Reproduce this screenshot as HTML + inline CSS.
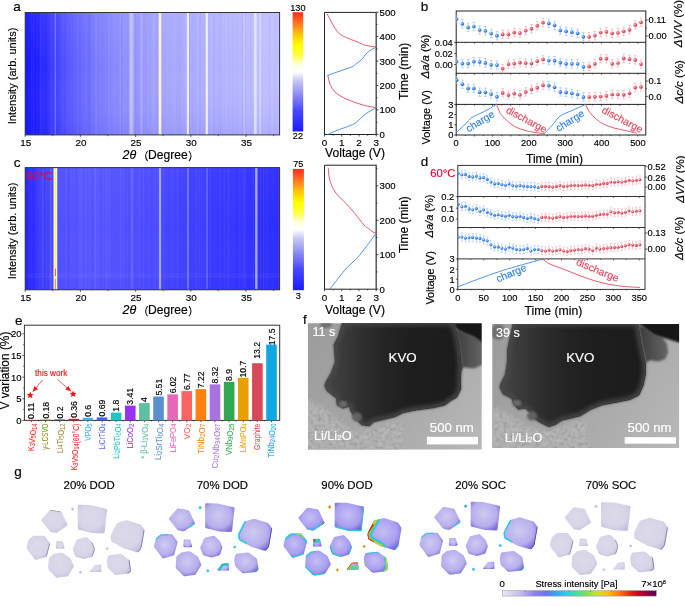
<!DOCTYPE html>
<html><head><meta charset="utf-8"><title>figure</title>
<style>html,body{margin:0;padding:0;background:#fff;} svg{display:block;will-change:transform;} text{font-family:"Liberation Sans",sans-serif;} .k{stroke:#000;stroke-width:0.16px;}</style>
</head><body>
<svg width="685" height="606" viewBox="0 0 685 606" font-family="Liberation Sans, sans-serif">
<defs><filter id="hblur" x="-5%" y="0" width="110%" height="100%"><feGaussianBlur stdDeviation="0.45 0"/></filter><linearGradient id="ga" x1="25.2" y1="0" x2="279.6" y2="0" gradientUnits="userSpaceOnUse"><stop offset="0" stop-color="#1010ff"/><stop offset="0.02" stop-color="#1818ff"/><stop offset="0.06" stop-color="#2424ff"/><stop offset="0.1" stop-color="#3434ff"/><stop offset="0.14" stop-color="#4c4cff"/><stop offset="0.2" stop-color="#6262ff"/><stop offset="0.25" stop-color="#7070ff"/><stop offset="0.29" stop-color="#7c7cff"/><stop offset="0.39" stop-color="#9090ff"/><stop offset="0.49" stop-color="#a0a0ff"/><stop offset="0.59" stop-color="#a8a8ff"/><stop offset="0.69" stop-color="#aeaeff"/><stop offset="0.81" stop-color="#b4b4ff"/><stop offset="0.9" stop-color="#bcbcff"/><stop offset="1" stop-color="#c0c0ff"/></linearGradient><linearGradient id="gav" x1="0" y1="0" x2="0" y2="1"><stop offset="0" stop-color="#ffffff" stop-opacity="0.06"/><stop offset="0.45" stop-color="#ffffff" stop-opacity="0"/><stop offset="1" stop-color="#1010e0" stop-opacity="0.09"/></linearGradient><clipPath id="clipga"><rect x="25.2" y="12.5" width="254.4" height="122.4"/></clipPath><linearGradient id="cba" x1="0" y1="1" x2="0" y2="0"><stop offset="0" stop-color="#1a1aff"/><stop offset="0.17" stop-color="#4646ff"/><stop offset="0.3" stop-color="#8888f2"/><stop offset="0.43" stop-color="#cacaf4"/><stop offset="0.5" stop-color="#ffffff"/><stop offset="0.56" stop-color="#ffffe0"/><stop offset="0.64" stop-color="#ffff40"/><stop offset="0.72" stop-color="#ffff00"/><stop offset="0.8" stop-color="#ffd000"/><stop offset="0.88" stop-color="#ff8c20"/><stop offset="1" stop-color="#ff2a20"/></linearGradient><linearGradient id="gc" x1="25.2" y1="0" x2="279.6" y2="0" gradientUnits="userSpaceOnUse"><stop offset="0" stop-color="#2020ff"/><stop offset="0.02" stop-color="#2a2aff"/><stop offset="0.05" stop-color="#3838ff"/><stop offset="0.08" stop-color="#4242fc"/><stop offset="0.11" stop-color="#4848fc"/><stop offset="0.13" stop-color="#4e4eff"/><stop offset="0.2" stop-color="#5252ff"/><stop offset="0.29" stop-color="#5656ff"/><stop offset="0.41" stop-color="#5050ff"/><stop offset="0.53" stop-color="#4848ff"/><stop offset="0.65" stop-color="#4040ff"/><stop offset="0.77" stop-color="#3838ff"/><stop offset="0.88" stop-color="#3333ff"/><stop offset="1" stop-color="#2c2cff"/></linearGradient><linearGradient id="gcv" x1="0" y1="0" x2="0" y2="1"><stop offset="0" stop-color="#ffffff" stop-opacity="0.03"/><stop offset="0.5" stop-color="#ffffff" stop-opacity="0"/><stop offset="1" stop-color="#1010e0" stop-opacity="0.05"/></linearGradient><clipPath id="clipgc"><rect x="25.2" y="167.6" width="254.4" height="122.2"/></clipPath><linearGradient id="cbc" x1="0" y1="1" x2="0" y2="0"><stop offset="0" stop-color="#1a1aff"/><stop offset="0.17" stop-color="#4646ff"/><stop offset="0.3" stop-color="#8888f2"/><stop offset="0.43" stop-color="#cacaf4"/><stop offset="0.5" stop-color="#ffffff"/><stop offset="0.56" stop-color="#ffffe0"/><stop offset="0.64" stop-color="#ffff40"/><stop offset="0.72" stop-color="#ffff00"/><stop offset="0.8" stop-color="#ffd000"/><stop offset="0.88" stop-color="#ff8c20"/><stop offset="1" stop-color="#ff2a20"/></linearGradient><radialGradient id="mb" cx="0.38" cy="0.35" r="0.7"><stop offset="0" stop-color="#e6f0ff"/><stop offset="0.35" stop-color="#5a9cf0"/><stop offset="1" stop-color="#1d5fd0"/></radialGradient><radialGradient id="mr" cx="0.38" cy="0.35" r="0.7"><stop offset="0" stop-color="#ffe8ec"/><stop offset="0.35" stop-color="#ec6878"/><stop offset="1" stop-color="#cc3046"/></radialGradient><clipPath id="clipb"><rect x="456.2" y="11" width="189.6" height="124"/></clipPath><clipPath id="clipd"><rect x="457.8" y="165.4" width="187.2" height="124"/></clipPath><marker id="ah" markerWidth="6" markerHeight="6" refX="5" refY="3" orient="auto" markerUnits="userSpaceOnUse"><path d="M0 0.6 L5.5 3 L0 5.4 Z" fill="#f01414"/></marker><filter id="fblur" x="-10%" y="-10%" width="120%" height="120%"><feGaussianBlur stdDeviation="0.9"/></filter><filter id="fblur2" x="-20%" y="-20%" width="140%" height="140%"><feGaussianBlur stdDeviation="2.2"/></filter><filter id="fblur3" x="-20%" y="-20%" width="140%" height="140%"><feGaussianBlur stdDeviation="3.5"/></filter><filter id="fnoise" x="-5%" y="-5%" width="110%" height="110%"><feGaussianBlur in="SourceGraphic" stdDeviation="2.5" result="m"/><feTurbulence type="fractalNoise" baseFrequency="0.28" numOctaves="3" seed="5"/><feColorMatrix type="matrix" values="1.5 0 0 0 -0.25  1.5 0 0 0 -0.25  1.5 0 0 0 -0.25  0 0 0 0 1"/><feGaussianBlur stdDeviation="0.4"/><feComposite in2="m" operator="in"/></filter><linearGradient id="f1bg" x1="308" y1="323.3" x2="481.7" y2="449.6" gradientUnits="userSpaceOnUse"><stop offset="0" stop-color="#9c9c9c"/><stop offset="0.5" stop-color="#a6a6a6"/><stop offset="1" stop-color="#b8b8b8"/></linearGradient><linearGradient id="f1core" x1="324.7" y1="0" x2="461.3" y2="0" gradientUnits="userSpaceOnUse"><stop offset="0" stop-color="#484848"/><stop offset="0.12" stop-color="#3c3c3c"/><stop offset="0.28" stop-color="#2e2e2e"/><stop offset="0.45" stop-color="#242424"/><stop offset="0.65" stop-color="#1e1e1e"/><stop offset="1" stop-color="#1c1c1c"/></linearGradient><clipPath id="f1cc"><path d="M342.5 322 L452.8 322 L456.8 333.1 L459.4 346.3 L460.7 359.4 L461.3 367.3 L460.7 372.6 L460.5 381 L460.7 389.2 L456.8 397.1 L450.2 401 L444.9 405 L434.4 407.6 L414.7 410.2 L402.9 412.8 L395 416.8 L383.8 419.4 L373.3 422 L369.4 426 L361.5 424.7 L354.9 418.1 L350.3 410.2 L349.7 406.3 L343.1 408.2 L337.2 405 L336.5 398.4 L326.7 390.5 L324.7 385.7 L326 381.8 L331.3 372.6 L335.2 362 L333.9 345 L338.5 335.8 Z"/></clipPath><clipPath id="f1clip"><rect x="308" y="323.3" width="173.7" height="126.3"/></clipPath><linearGradient id="f1lobe" x1="454.1" y1="0" x2="483" y2="0" gradientUnits="userSpaceOnUse"><stop offset="0" stop-color="#383838"/><stop offset="0.5" stop-color="#505050"/><stop offset="1" stop-color="#666"/></linearGradient><linearGradient id="f2bg" x1="492.3" y1="324.1" x2="679.1" y2="448.1" gradientUnits="userSpaceOnUse"><stop offset="0" stop-color="#9c9c9c"/><stop offset="0.5" stop-color="#a6a6a6"/><stop offset="1" stop-color="#b8b8b8"/></linearGradient><linearGradient id="f2core" x1="499.8" y1="0" x2="645.4" y2="0" gradientUnits="userSpaceOnUse"><stop offset="0" stop-color="#484848"/><stop offset="0.12" stop-color="#3c3c3c"/><stop offset="0.28" stop-color="#2e2e2e"/><stop offset="0.45" stop-color="#242424"/><stop offset="0.65" stop-color="#1e1e1e"/><stop offset="1" stop-color="#1c1c1c"/></linearGradient><clipPath id="f2cc"><path d="M513.4 322.5 L637.7 322.5 L641 341.8 L645.4 363.6 L645.4 374.5 L643.2 385.4 L638.8 395.2 L630.1 399.5 L619.2 401.7 L601.8 405 L590.9 409.3 L580 415.9 L561.9 420.2 L555.4 424.6 L548.8 426.8 L540.1 422.4 L533.6 418.1 L529.2 411.5 L524.9 408.3 L518.3 409.3 L514 405 L511.8 398.4 L503.1 394.1 L499.8 387.6 L500.9 383.2 L505.3 374.5 L507.2 362 L507.5 349.2 L509.7 338.2 Z"/></clipPath><clipPath id="f2clip"><rect x="492.3" y="324.1" width="186.8" height="124"/></clipPath><linearGradient id="f2lobe" x1="637.7" y1="0" x2="668.2" y2="0" gradientUnits="userSpaceOnUse"><stop offset="0" stop-color="#383838"/><stop offset="0.5" stop-color="#505050"/><stop offset="1" stop-color="#666"/></linearGradient><radialGradient id="pg_light" cx="0.45" cy="0.42" r="0.62"><stop offset="0" stop-color="#dddbea"/><stop offset="0.7" stop-color="#d6d4e6"/><stop offset="1" stop-color="#c6c2de"/></radialGradient><radialGradient id="pg_mid" cx="0.45" cy="0.42" r="0.62"><stop offset="0" stop-color="#cfcaf2"/><stop offset="0.7" stop-color="#b6aeec"/><stop offset="1" stop-color="#7f74d8"/></radialGradient><radialGradient id="pg_deep" cx="0.45" cy="0.42" r="0.62"><stop offset="0" stop-color="#c4bef4"/><stop offset="0.7" stop-color="#a89ef0"/><stop offset="1" stop-color="#7468dc"/></radialGradient><filter id="gblur" filterUnits="userSpaceOnUse" x="-600" y="-100" width="1400" height="800"><feGaussianBlur stdDeviation="0.45"/></filter><clipPath id="cp_P1"><path d="M49.41 510.6 Q50.2 509.7 51.38 509.9 L60.22 511.4 Q61.4 511.6 61.9 512.69 L67.2 524.11 Q67.7 525.2 66.71 525.88 L57.49 532.22 Q56.5 532.9 55.32 532.69 L51.38 532.01 Q50.2 531.8 49.45 530.86 L41.75 521.14 Q41 520.2 41.79 519.3 Z"/></clipPath><clipPath id="cp_P2"><path d="M77.7 506 Q77.7 504.8 78.9 504.83 L89.8 505.07 Q91 505.1 92.17 505.38 L106.03 508.72 Q107.2 509 107.06 510.19 L104.54 532.41 Q104.4 533.6 103.2 533.54 L92.2 532.96 Q91 532.9 89.84 532.59 L78.86 529.71 Q77.7 529.4 77.7 528.2 Z"/></clipPath><clipPath id="cp_P3"><path d="M32.39 536.48 Q33.3 535.7 34.5 535.7 L43.3 535.7 Q44.5 535.7 45.21 536.66 L49.49 542.44 Q50.2 543.4 49.89 544.56 L47.01 555.54 Q46.7 556.7 45.55 557.06 L36.55 559.84 Q35.4 560.2 34.67 559.25 L27.03 549.25 Q26.3 548.3 26.59 547.14 L28.11 541.06 Q28.4 539.9 29.31 539.12 Z"/></clipPath><clipPath id="cp_T1"><path d="M56.14 542.2 Q56.2 541 57.4 541 L61.6 541 Q62.8 541 63.12 542.16 L64.58 547.54 Q64.9 548.7 63.7 548.7 L57 548.7 Q55.8 548.7 55.86 547.5 Z"/></clipPath><clipPath id="cp_P4"><path d="M52.79 554.68 Q53.7 553.9 54.88 553.7 L60.92 552.7 Q62.1 552.5 63.1 553.17 L69.5 557.43 Q70.5 558.1 70.96 559.21 L73.54 565.39 Q74 566.5 73.36 567.51 L68.34 575.39 Q67.7 576.4 66.51 576.55 L57.69 577.65 Q56.5 577.8 55.66 576.95 L48.94 570.15 Q48.1 569.3 48.17 568.1 L48.73 559.3 Q48.8 558.1 49.71 557.32 Z"/></clipPath><clipPath id="cp_P5"><path d="M76.5 540.29 Q77 539.2 78.17 538.95 L85.63 537.35 Q86.8 537.1 87.65 537.95 L91.55 541.85 Q92.4 542.7 92.86 543.81 L94.54 547.89 Q95 549 94.62 550.14 L92.78 555.56 Q92.4 556.7 91.25 557.04 L85.15 558.86 Q84 559.2 82.85 558.86 L76.75 557.04 Q75.6 556.7 75.15 555.59 L72.95 550.11 Q72.5 549 73 547.91 Z"/></clipPath><clipPath id="cp_P6"><path d="M116.26 524.17 Q116.8 523.1 117.95 522.76 L125.55 520.54 Q126.7 520.2 127.85 520.55 L139.55 524.15 Q140.7 524.5 141.39 525.48 L143.91 529.12 Q144.6 530.1 144.39 531.28 L141.61 547.12 Q141.4 548.3 140.63 549.22 L138.67 551.58 Q137.9 552.5 136.75 552.16 L124.95 548.64 Q123.8 548.3 122.75 547.72 L112.25 541.88 Q111.2 541.3 111.05 540.11 L110.65 536.89 Q110.5 535.7 111.04 534.63 Z"/></clipPath><clipPath id="cp_T2"><path d="M93.81 566.08 Q94.5 565.1 95.7 565.03 L99.9 564.77 Q101.1 564.7 101.18 565.9 L101.52 570.9 Q101.6 572.1 100.4 572.1 L90.8 572.1 Q89.6 572.1 90.29 571.12 Z"/></clipPath><clipPath id="cp_P7"><path d="M108.05 556.45 Q108.4 555.3 109.59 555.17 L119.81 554.03 Q121 553.9 121.96 554.61 L128.54 559.49 Q129.5 560.2 129.67 561.39 L130.93 570.21 Q131.1 571.4 130.13 572.11 L129.07 572.89 Q128.1 573.6 126.91 573.73 L116.59 574.87 Q115.4 575 114.51 574.19 L108.59 568.81 Q107.7 568 107.53 566.81 L106.87 562.09 Q106.7 560.9 107.05 559.75 Z"/></clipPath><linearGradient id="sbar" x1="0" y1="0" x2="1" y2="0"><stop offset="0" stop-color="#eae8f4"/><stop offset="0.12" stop-color="#c2baf0"/><stop offset="0.2" stop-color="#9484f0"/><stop offset="0.28" stop-color="#6c74f0"/><stop offset="0.34" stop-color="#40a0f0"/><stop offset="0.41" stop-color="#20d0e8"/><stop offset="0.48" stop-color="#40e0a0"/><stop offset="0.55" stop-color="#84e050"/><stop offset="0.62" stop-color="#d4e020"/><stop offset="0.68" stop-color="#f8c010"/><stop offset="0.75" stop-color="#ff8010"/><stop offset="0.82" stop-color="#f03010"/><stop offset="0.88" stop-color="#d00020"/><stop offset="0.94" stop-color="#900040"/><stop offset="1" stop-color="#5c005c"/></linearGradient></defs>
<rect width="685" height="606" fill="#fff"/>
<text x="13.3" y="10.9" font-size="13.5" text-anchor="start" fill="#000" stroke="#000" stroke-width="0.16">a</text>
<rect x="25.2" y="12.5" width="254.4" height="122.4" fill="url(#ga)"/>
<rect x="25.2" y="12.5" width="254.4" height="122.4" fill="url(#gav)"/>
<g filter="url(#hblur)"><rect x="26.2" y="12.5" width="0.76" height="122.4" fill="#0000c0" opacity="0.028"/><rect x="27.54" y="12.5" width="0.93" height="122.4" fill="#ffffff" opacity="0.038"/><rect x="29.76" y="12.5" width="0.53" height="122.4" fill="#ffffff" opacity="0.042"/><rect x="31.14" y="12.5" width="0.84" height="122.4" fill="#ffffff" opacity="0.061"/><rect x="32.79" y="12.5" width="1" height="122.4" fill="#ffffff" opacity="0.067"/><rect x="34.78" y="12.5" width="1.28" height="122.4" fill="#0000c0" opacity="0.022"/><rect x="36.56" y="12.5" width="0.62" height="122.4" fill="#ffffff" opacity="0.026"/><rect x="39.39" y="12.5" width="0.64" height="122.4" fill="#0000c0" opacity="0.049"/><rect x="41.34" y="12.5" width="0.94" height="122.4" fill="#ffffff" opacity="0.023"/><rect x="42.95" y="12.5" width="1.04" height="122.4" fill="#ffffff" opacity="0.041"/><rect x="45.32" y="12.5" width="0.86" height="122.4" fill="#0000c0" opacity="0.035"/><rect x="47.92" y="12.5" width="0.7" height="122.4" fill="#ffffff" opacity="0.049"/><rect x="50.87" y="12.5" width="1.08" height="122.4" fill="#0000c0" opacity="0.034"/><rect x="52.3" y="12.5" width="0.83" height="122.4" fill="#ffffff" opacity="0.058"/><rect x="54.48" y="12.5" width="0.53" height="122.4" fill="#0000c0" opacity="0.053"/><rect x="56.83" y="12.5" width="1.2" height="122.4" fill="#0000c0" opacity="0.036"/><rect x="59.22" y="12.5" width="0.96" height="122.4" fill="#0000c0" opacity="0.043"/><rect x="62.31" y="12.5" width="0.88" height="122.4" fill="#ffffff" opacity="0.053"/><rect x="64.91" y="12.5" width="1.02" height="122.4" fill="#0000c0" opacity="0.070"/><rect x="66.68" y="12.5" width="0.81" height="122.4" fill="#ffffff" opacity="0.053"/><rect x="68.8" y="12.5" width="0.63" height="122.4" fill="#ffffff" opacity="0.026"/><rect x="71.54" y="12.5" width="0.6" height="122.4" fill="#ffffff" opacity="0.032"/><rect x="74.48" y="12.5" width="0.56" height="122.4" fill="#ffffff" opacity="0.042"/><rect x="77.45" y="12.5" width="1.16" height="122.4" fill="#ffffff" opacity="0.063"/><rect x="79.48" y="12.5" width="0.79" height="122.4" fill="#0000c0" opacity="0.064"/><rect x="80.98" y="12.5" width="0.64" height="122.4" fill="#ffffff" opacity="0.032"/><rect x="83.15" y="12.5" width="0.97" height="122.4" fill="#ffffff" opacity="0.033"/><rect x="85.19" y="12.5" width="0.8" height="122.4" fill="#0000c0" opacity="0.048"/><rect x="87.77" y="12.5" width="0.91" height="122.4" fill="#0000c0" opacity="0.051"/><rect x="89.08" y="12.5" width="1.22" height="122.4" fill="#0000c0" opacity="0.059"/><rect x="91.87" y="12.5" width="0.81" height="122.4" fill="#ffffff" opacity="0.040"/><rect x="94.34" y="12.5" width="0.55" height="122.4" fill="#ffffff" opacity="0.023"/><rect x="95.87" y="12.5" width="0.77" height="122.4" fill="#ffffff" opacity="0.023"/><rect x="97.37" y="12.5" width="0.58" height="122.4" fill="#ffffff" opacity="0.038"/><rect x="100.32" y="12.5" width="0.99" height="122.4" fill="#ffffff" opacity="0.027"/><rect x="102.21" y="12.5" width="0.79" height="122.4" fill="#0000c0" opacity="0.026"/><rect x="105.4" y="12.5" width="0.87" height="122.4" fill="#ffffff" opacity="0.044"/><rect x="106.8" y="12.5" width="0.77" height="122.4" fill="#0000c0" opacity="0.033"/><rect x="108.33" y="12.5" width="0.52" height="122.4" fill="#ffffff" opacity="0.068"/><rect x="109.82" y="12.5" width="0.93" height="122.4" fill="#ffffff" opacity="0.021"/><rect x="112.98" y="12.5" width="1.19" height="122.4" fill="#ffffff" opacity="0.055"/><rect x="114.91" y="12.5" width="0.63" height="122.4" fill="#ffffff" opacity="0.059"/><rect x="117.67" y="12.5" width="0.76" height="122.4" fill="#0000c0" opacity="0.031"/><rect x="120.84" y="12.5" width="1.18" height="122.4" fill="#0000c0" opacity="0.060"/><rect x="123.52" y="12.5" width="0.68" height="122.4" fill="#ffffff" opacity="0.046"/><rect x="124.78" y="12.5" width="0.52" height="122.4" fill="#ffffff" opacity="0.034"/><rect x="127.36" y="12.5" width="1.27" height="122.4" fill="#0000c0" opacity="0.042"/><rect x="130.54" y="12.5" width="1.26" height="122.4" fill="#ffffff" opacity="0.038"/><rect x="132.19" y="12.5" width="0.66" height="122.4" fill="#0000c0" opacity="0.030"/><rect x="135.19" y="12.5" width="1.17" height="122.4" fill="#0000c0" opacity="0.044"/><rect x="137.99" y="12.5" width="0.57" height="122.4" fill="#0000c0" opacity="0.053"/><rect x="140.75" y="12.5" width="1.1" height="122.4" fill="#ffffff" opacity="0.044"/><rect x="143.53" y="12.5" width="0.77" height="122.4" fill="#0000c0" opacity="0.060"/><rect x="145.52" y="12.5" width="0.82" height="122.4" fill="#0000c0" opacity="0.067"/><rect x="147.06" y="12.5" width="0.6" height="122.4" fill="#0000c0" opacity="0.028"/><rect x="149.88" y="12.5" width="0.62" height="122.4" fill="#0000c0" opacity="0.061"/><rect x="152.39" y="12.5" width="0.78" height="122.4" fill="#ffffff" opacity="0.047"/><rect x="153.62" y="12.5" width="1.28" height="122.4" fill="#ffffff" opacity="0.052"/><rect x="156.69" y="12.5" width="0.85" height="122.4" fill="#0000c0" opacity="0.064"/><rect x="158.31" y="12.5" width="0.7" height="122.4" fill="#ffffff" opacity="0.035"/><rect x="160.68" y="12.5" width="0.71" height="122.4" fill="#ffffff" opacity="0.041"/><rect x="163.7" y="12.5" width="0.78" height="122.4" fill="#ffffff" opacity="0.043"/><rect x="166.71" y="12.5" width="0.84" height="122.4" fill="#ffffff" opacity="0.066"/><rect x="168.98" y="12.5" width="0.92" height="122.4" fill="#ffffff" opacity="0.021"/><rect x="170.54" y="12.5" width="0.5" height="122.4" fill="#ffffff" opacity="0.060"/><rect x="172.69" y="12.5" width="1.08" height="122.4" fill="#ffffff" opacity="0.048"/><rect x="174.92" y="12.5" width="0.94" height="122.4" fill="#ffffff" opacity="0.059"/><rect x="177.25" y="12.5" width="0.7" height="122.4" fill="#0000c0" opacity="0.034"/><rect x="179.46" y="12.5" width="0.95" height="122.4" fill="#0000c0" opacity="0.058"/><rect x="181.55" y="12.5" width="0.99" height="122.4" fill="#ffffff" opacity="0.045"/><rect x="184.13" y="12.5" width="0.86" height="122.4" fill="#ffffff" opacity="0.047"/><rect x="187.22" y="12.5" width="1.06" height="122.4" fill="#0000c0" opacity="0.064"/><rect x="188.94" y="12.5" width="0.95" height="122.4" fill="#0000c0" opacity="0.067"/><rect x="190.41" y="12.5" width="0.6" height="122.4" fill="#ffffff" opacity="0.042"/><rect x="192.09" y="12.5" width="0.56" height="122.4" fill="#0000c0" opacity="0.053"/><rect x="195.08" y="12.5" width="0.62" height="122.4" fill="#0000c0" opacity="0.056"/><rect x="196.57" y="12.5" width="1.21" height="122.4" fill="#ffffff" opacity="0.068"/><rect x="199.68" y="12.5" width="0.82" height="122.4" fill="#0000c0" opacity="0.044"/><rect x="202.54" y="12.5" width="0.63" height="122.4" fill="#ffffff" opacity="0.042"/><rect x="204.42" y="12.5" width="0.66" height="122.4" fill="#0000c0" opacity="0.036"/><rect x="205.66" y="12.5" width="0.94" height="122.4" fill="#ffffff" opacity="0.042"/><rect x="207.52" y="12.5" width="1" height="122.4" fill="#ffffff" opacity="0.046"/><rect x="210.69" y="12.5" width="1.13" height="122.4" fill="#ffffff" opacity="0.069"/><rect x="212.42" y="12.5" width="0.53" height="122.4" fill="#ffffff" opacity="0.059"/><rect x="213.88" y="12.5" width="0.84" height="122.4" fill="#0000c0" opacity="0.066"/><rect x="215.6" y="12.5" width="0.62" height="122.4" fill="#ffffff" opacity="0.066"/><rect x="218.2" y="12.5" width="0.57" height="122.4" fill="#0000c0" opacity="0.023"/><rect x="220.25" y="12.5" width="0.56" height="122.4" fill="#0000c0" opacity="0.067"/><rect x="223.05" y="12.5" width="0.57" height="122.4" fill="#ffffff" opacity="0.063"/><rect x="225.98" y="12.5" width="0.86" height="122.4" fill="#ffffff" opacity="0.037"/><rect x="229.03" y="12.5" width="0.71" height="122.4" fill="#ffffff" opacity="0.026"/><rect x="230.71" y="12.5" width="0.59" height="122.4" fill="#ffffff" opacity="0.028"/><rect x="232.31" y="12.5" width="0.75" height="122.4" fill="#0000c0" opacity="0.035"/><rect x="234.09" y="12.5" width="0.9" height="122.4" fill="#ffffff" opacity="0.029"/><rect x="235.33" y="12.5" width="0.7" height="122.4" fill="#0000c0" opacity="0.021"/><rect x="237.63" y="12.5" width="0.65" height="122.4" fill="#0000c0" opacity="0.044"/><rect x="239.04" y="12.5" width="1.16" height="122.4" fill="#ffffff" opacity="0.042"/><rect x="241.91" y="12.5" width="0.81" height="122.4" fill="#0000c0" opacity="0.045"/><rect x="245.08" y="12.5" width="0.77" height="122.4" fill="#0000c0" opacity="0.062"/><rect x="247.55" y="12.5" width="0.82" height="122.4" fill="#ffffff" opacity="0.037"/><rect x="249.01" y="12.5" width="0.56" height="122.4" fill="#ffffff" opacity="0.057"/><rect x="250.54" y="12.5" width="0.57" height="122.4" fill="#0000c0" opacity="0.062"/><rect x="253.08" y="12.5" width="0.73" height="122.4" fill="#ffffff" opacity="0.032"/><rect x="255.2" y="12.5" width="0.63" height="122.4" fill="#ffffff" opacity="0.042"/><rect x="258.32" y="12.5" width="1.28" height="122.4" fill="#ffffff" opacity="0.047"/><rect x="261.45" y="12.5" width="0.75" height="122.4" fill="#ffffff" opacity="0.038"/><rect x="263.41" y="12.5" width="0.88" height="122.4" fill="#ffffff" opacity="0.045"/><rect x="265.62" y="12.5" width="0.5" height="122.4" fill="#ffffff" opacity="0.033"/><rect x="267.62" y="12.5" width="0.53" height="122.4" fill="#ffffff" opacity="0.021"/><rect x="269.29" y="12.5" width="0.97" height="122.4" fill="#0000c0" opacity="0.046"/><rect x="271.8" y="12.5" width="1.07" height="122.4" fill="#ffffff" opacity="0.064"/><rect x="273.66" y="12.5" width="1.29" height="122.4" fill="#0000c0" opacity="0.027"/><rect x="276.14" y="12.5" width="0.54" height="122.4" fill="#0000c0" opacity="0.062"/><rect x="278.6" y="12.5" width="1.09" height="122.4" fill="#ffffff" opacity="0.061"/></g>
<g filter="url(#hblur)" clip-path="url(#clipga)">
<rect x="40.4" y="12.5" width="1" height="122.4" fill="#ffffff" opacity="0.1"/>
<rect x="50.5" y="12.5" width="1" height="122.4" fill="#ffffff" opacity="0.12"/>
<rect x="54.65" y="12.5" width="1.3" height="122.4" fill="#ffffff" opacity="0.28"/>
<rect x="84.95" y="12.5" width="1.5" height="122.4" fill="#ffffff" opacity="0.05"/>
<rect x="95.5" y="12.5" width="1" height="122.4" fill="#ffffff" opacity="0.12"/>
<rect x="108.5" y="12.5" width="1" height="122.4" fill="#ffffff" opacity="0.06"/>
<rect x="119.8" y="12.5" width="1" height="122.4" fill="#ffffff" opacity="0.12"/>
<rect x="128.9" y="12.5" width="5" height="122.4" fill="#ffffff" opacity="0.22"/>
<rect x="130.2" y="12.5" width="2.4" height="122.4" fill="#ffffff" opacity="0.25"/>
<rect x="140.4" y="12.5" width="2" height="122.4" fill="#ffffff" opacity="0.14"/>
<rect x="158.4" y="12.5" width="3.2" height="122.4" fill="#ffffff" opacity="0.45"/>
<rect x="159.1" y="12.5" width="1.8" height="122.4" fill="#fbfbb6" opacity="1"/>
<rect x="186.8" y="12.5" width="2.2" height="122.4" fill="#ffffff" opacity="0.8"/>
<rect x="205.7" y="12.5" width="2.2" height="122.4" fill="#ffffff" opacity="0.8"/>
<rect x="225.5" y="12.5" width="1" height="122.4" fill="#ffffff" opacity="0.08"/>
<rect x="243.8" y="12.5" width="1.4" height="122.4" fill="#ffffff" opacity="0.2"/>
<rect x="254.1" y="12.5" width="2.6" height="122.4" fill="#ffffff" opacity="0.6"/>
<rect x="259.4" y="12.5" width="1.6" height="122.4" fill="#ffffff" opacity="0.35"/>
</g>
<rect x="25.2" y="12.5" width="254.4" height="122.4" fill="none" stroke="#333" stroke-width="1"/>
<line x1="25.2" y1="134.9" x2="25.2" y2="136.9" stroke="#333" stroke-width="0.8"/>
<text x="25.7" y="145.8" font-size="9.9" text-anchor="middle" fill="#000" stroke="#000" stroke-width="0.16">15</text>
<line x1="52.8" y1="134.9" x2="52.8" y2="136.2" stroke="#333" stroke-width="0.8"/>
<line x1="80.4" y1="134.9" x2="80.4" y2="136.9" stroke="#333" stroke-width="0.8"/>
<text x="80.9" y="145.8" font-size="9.9" text-anchor="middle" fill="#000" stroke="#000" stroke-width="0.16">20</text>
<line x1="108" y1="134.9" x2="108" y2="136.2" stroke="#333" stroke-width="0.8"/>
<line x1="135.6" y1="134.9" x2="135.6" y2="136.9" stroke="#333" stroke-width="0.8"/>
<text x="136.1" y="145.8" font-size="9.9" text-anchor="middle" fill="#000" stroke="#000" stroke-width="0.16">25</text>
<line x1="163.2" y1="134.9" x2="163.2" y2="136.2" stroke="#333" stroke-width="0.8"/>
<line x1="190.8" y1="134.9" x2="190.8" y2="136.9" stroke="#333" stroke-width="0.8"/>
<text x="191.3" y="145.8" font-size="9.9" text-anchor="middle" fill="#000" stroke="#000" stroke-width="0.16">30</text>
<line x1="218.4" y1="134.9" x2="218.4" y2="136.2" stroke="#333" stroke-width="0.8"/>
<line x1="246" y1="134.9" x2="246" y2="136.9" stroke="#333" stroke-width="0.8"/>
<text x="246.5" y="145.8" font-size="9.9" text-anchor="middle" fill="#000" stroke="#000" stroke-width="0.16">35</text>
<line x1="273.6" y1="134.9" x2="273.6" y2="136.2" stroke="#333" stroke-width="0.8"/>
<rect x="292.6" y="12.2" width="10.6" height="119.3" fill="url(#cba)"/>
<text x="297.9" y="11.2" font-size="9.2" text-anchor="middle" fill="#000" stroke="#000" stroke-width="0.16">130</text>
<text x="297.9" y="139.3" font-size="9.2" text-anchor="middle" fill="#000" stroke="#000" stroke-width="0.16">22</text>
<text x="16" y="76" font-size="11" text-anchor="middle" fill="#000" stroke="#000" stroke-width="0.16" transform="rotate(-90 16 76)">Intensity (arb. units)</text>
<text x="122.6" y="159.1" font-size="12" font-style="italic" class="k" textLength="13.6" lengthAdjust="spacingAndGlyphs">2θ</text>
<text x="148.1" y="159.1" font-size="12.1" class="k">Degree</text>
<path d="M147.6 151 Q143.6 156 147.6 161.1" fill="none" stroke="#111" stroke-width="1.05"/>
<path d="M189 151 Q193 156 189 161.1" fill="none" stroke="#111" stroke-width="1.05"/>
<text x="13.8" y="166.7" font-size="13.5" text-anchor="start" fill="#000" stroke="#000" stroke-width="0.16">c</text>
<rect x="25.2" y="167.6" width="254.4" height="122.2" fill="url(#gc)"/>
<rect x="25.2" y="167.6" width="254.4" height="122.2" fill="url(#gcv)"/>
<g filter="url(#hblur)"><rect x="26.2" y="167.6" width="0.86" height="122.2" fill="#0000c0" opacity="0.048"/><rect x="28.33" y="167.6" width="0.91" height="122.2" fill="#ffffff" opacity="0.049"/><rect x="30.56" y="167.6" width="1" height="122.2" fill="#ffffff" opacity="0.060"/><rect x="32.36" y="167.6" width="0.57" height="122.2" fill="#0000c0" opacity="0.060"/><rect x="33.65" y="167.6" width="1.29" height="122.2" fill="#0000c0" opacity="0.068"/><rect x="36.08" y="167.6" width="0.63" height="122.2" fill="#ffffff" opacity="0.021"/><rect x="37.4" y="167.6" width="0.65" height="122.2" fill="#ffffff" opacity="0.032"/><rect x="39.52" y="167.6" width="0.85" height="122.2" fill="#ffffff" opacity="0.062"/><rect x="42" y="167.6" width="0.9" height="122.2" fill="#ffffff" opacity="0.053"/><rect x="43.76" y="167.6" width="1.3" height="122.2" fill="#0000c0" opacity="0.070"/><rect x="46.38" y="167.6" width="0.75" height="122.2" fill="#ffffff" opacity="0.031"/><rect x="47.72" y="167.6" width="1.11" height="122.2" fill="#0000c0" opacity="0.040"/><rect x="49.69" y="167.6" width="1.27" height="122.2" fill="#ffffff" opacity="0.062"/><rect x="51.31" y="167.6" width="1.23" height="122.2" fill="#0000c0" opacity="0.043"/><rect x="53.3" y="167.6" width="0.56" height="122.2" fill="#0000c0" opacity="0.051"/><rect x="55.04" y="167.6" width="0.57" height="122.2" fill="#0000c0" opacity="0.037"/><rect x="57.76" y="167.6" width="0.59" height="122.2" fill="#ffffff" opacity="0.032"/><rect x="59.08" y="167.6" width="1.14" height="122.2" fill="#ffffff" opacity="0.029"/><rect x="61.17" y="167.6" width="0.65" height="122.2" fill="#ffffff" opacity="0.057"/><rect x="63.66" y="167.6" width="0.59" height="122.2" fill="#ffffff" opacity="0.041"/><rect x="65.4" y="167.6" width="1.28" height="122.2" fill="#ffffff" opacity="0.060"/><rect x="68.37" y="167.6" width="0.67" height="122.2" fill="#0000c0" opacity="0.040"/><rect x="70.85" y="167.6" width="0.58" height="122.2" fill="#ffffff" opacity="0.069"/><rect x="72.57" y="167.6" width="1.12" height="122.2" fill="#ffffff" opacity="0.036"/><rect x="73.92" y="167.6" width="0.57" height="122.2" fill="#ffffff" opacity="0.049"/><rect x="76.32" y="167.6" width="0.8" height="122.2" fill="#0000c0" opacity="0.043"/><rect x="78.49" y="167.6" width="0.96" height="122.2" fill="#ffffff" opacity="0.063"/><rect x="80" y="167.6" width="1.23" height="122.2" fill="#ffffff" opacity="0.061"/><rect x="81.58" y="167.6" width="1.09" height="122.2" fill="#ffffff" opacity="0.067"/><rect x="84.68" y="167.6" width="1.21" height="122.2" fill="#ffffff" opacity="0.050"/><rect x="86.08" y="167.6" width="0.53" height="122.2" fill="#ffffff" opacity="0.068"/><rect x="88.69" y="167.6" width="0.71" height="122.2" fill="#ffffff" opacity="0.061"/><rect x="90.48" y="167.6" width="0.64" height="122.2" fill="#ffffff" opacity="0.056"/><rect x="92.14" y="167.6" width="0.95" height="122.2" fill="#0000c0" opacity="0.063"/><rect x="93.9" y="167.6" width="1.23" height="122.2" fill="#ffffff" opacity="0.030"/><rect x="95.64" y="167.6" width="0.86" height="122.2" fill="#ffffff" opacity="0.023"/><rect x="97.57" y="167.6" width="0.96" height="122.2" fill="#ffffff" opacity="0.027"/><rect x="100.56" y="167.6" width="1.28" height="122.2" fill="#0000c0" opacity="0.053"/><rect x="102.92" y="167.6" width="0.61" height="122.2" fill="#ffffff" opacity="0.022"/><rect x="105.94" y="167.6" width="1.06" height="122.2" fill="#ffffff" opacity="0.068"/><rect x="108.42" y="167.6" width="0.89" height="122.2" fill="#ffffff" opacity="0.057"/><rect x="111.62" y="167.6" width="0.56" height="122.2" fill="#0000c0" opacity="0.047"/><rect x="114.62" y="167.6" width="1.09" height="122.2" fill="#0000c0" opacity="0.055"/><rect x="117.65" y="167.6" width="0.78" height="122.2" fill="#0000c0" opacity="0.054"/><rect x="120.59" y="167.6" width="0.83" height="122.2" fill="#0000c0" opacity="0.060"/><rect x="122.93" y="167.6" width="1" height="122.2" fill="#ffffff" opacity="0.039"/><rect x="125.35" y="167.6" width="0.56" height="122.2" fill="#0000c0" opacity="0.052"/><rect x="128.31" y="167.6" width="1.08" height="122.2" fill="#0000c0" opacity="0.039"/><rect x="130.67" y="167.6" width="0.85" height="122.2" fill="#ffffff" opacity="0.062"/><rect x="133.37" y="167.6" width="0.52" height="122.2" fill="#ffffff" opacity="0.050"/><rect x="135.03" y="167.6" width="1.06" height="122.2" fill="#0000c0" opacity="0.045"/><rect x="138.07" y="167.6" width="0.7" height="122.2" fill="#ffffff" opacity="0.021"/><rect x="140.63" y="167.6" width="0.66" height="122.2" fill="#0000c0" opacity="0.028"/><rect x="143.15" y="167.6" width="0.85" height="122.2" fill="#ffffff" opacity="0.065"/><rect x="145.68" y="167.6" width="0.66" height="122.2" fill="#0000c0" opacity="0.042"/><rect x="148.71" y="167.6" width="1.2" height="122.2" fill="#ffffff" opacity="0.039"/><rect x="150.54" y="167.6" width="0.61" height="122.2" fill="#0000c0" opacity="0.045"/><rect x="153.44" y="167.6" width="1.07" height="122.2" fill="#ffffff" opacity="0.068"/><rect x="154.98" y="167.6" width="0.86" height="122.2" fill="#ffffff" opacity="0.034"/><rect x="157.01" y="167.6" width="1" height="122.2" fill="#ffffff" opacity="0.045"/><rect x="159.89" y="167.6" width="1.29" height="122.2" fill="#ffffff" opacity="0.043"/><rect x="161.15" y="167.6" width="1.2" height="122.2" fill="#0000c0" opacity="0.022"/><rect x="163.49" y="167.6" width="0.75" height="122.2" fill="#ffffff" opacity="0.060"/><rect x="164.96" y="167.6" width="0.86" height="122.2" fill="#0000c0" opacity="0.021"/><rect x="166.64" y="167.6" width="0.61" height="122.2" fill="#0000c0" opacity="0.022"/><rect x="168.73" y="167.6" width="1" height="122.2" fill="#0000c0" opacity="0.053"/><rect x="171.85" y="167.6" width="1.05" height="122.2" fill="#ffffff" opacity="0.030"/><rect x="173.4" y="167.6" width="0.51" height="122.2" fill="#0000c0" opacity="0.044"/><rect x="174.96" y="167.6" width="0.72" height="122.2" fill="#0000c0" opacity="0.037"/><rect x="177.2" y="167.6" width="0.99" height="122.2" fill="#ffffff" opacity="0.058"/><rect x="179.99" y="167.6" width="1.22" height="122.2" fill="#0000c0" opacity="0.024"/><rect x="182.63" y="167.6" width="0.6" height="122.2" fill="#0000c0" opacity="0.043"/><rect x="185.65" y="167.6" width="0.8" height="122.2" fill="#0000c0" opacity="0.048"/><rect x="188.45" y="167.6" width="1.26" height="122.2" fill="#0000c0" opacity="0.043"/><rect x="190.05" y="167.6" width="1.08" height="122.2" fill="#0000c0" opacity="0.061"/><rect x="192.69" y="167.6" width="0.67" height="122.2" fill="#0000c0" opacity="0.065"/><rect x="195.84" y="167.6" width="0.93" height="122.2" fill="#ffffff" opacity="0.060"/><rect x="198.86" y="167.6" width="1.18" height="122.2" fill="#ffffff" opacity="0.037"/><rect x="200.95" y="167.6" width="0.94" height="122.2" fill="#ffffff" opacity="0.058"/><rect x="202.2" y="167.6" width="1.15" height="122.2" fill="#0000c0" opacity="0.023"/><rect x="203.75" y="167.6" width="0.77" height="122.2" fill="#ffffff" opacity="0.059"/><rect x="205.25" y="167.6" width="0.91" height="122.2" fill="#0000c0" opacity="0.056"/><rect x="207.83" y="167.6" width="1.26" height="122.2" fill="#0000c0" opacity="0.045"/><rect x="209.2" y="167.6" width="0.68" height="122.2" fill="#ffffff" opacity="0.046"/><rect x="211.86" y="167.6" width="1.01" height="122.2" fill="#0000c0" opacity="0.046"/><rect x="214.18" y="167.6" width="0.75" height="122.2" fill="#0000c0" opacity="0.039"/><rect x="217.18" y="167.6" width="0.67" height="122.2" fill="#0000c0" opacity="0.063"/><rect x="219.42" y="167.6" width="0.96" height="122.2" fill="#ffffff" opacity="0.030"/><rect x="221.63" y="167.6" width="0.98" height="122.2" fill="#0000c0" opacity="0.021"/><rect x="223.86" y="167.6" width="0.82" height="122.2" fill="#ffffff" opacity="0.060"/><rect x="226.05" y="167.6" width="1.05" height="122.2" fill="#ffffff" opacity="0.023"/><rect x="228.07" y="167.6" width="1.27" height="122.2" fill="#ffffff" opacity="0.066"/><rect x="230.22" y="167.6" width="0.6" height="122.2" fill="#0000c0" opacity="0.042"/><rect x="233.22" y="167.6" width="0.88" height="122.2" fill="#ffffff" opacity="0.036"/><rect x="235.66" y="167.6" width="1.24" height="122.2" fill="#0000c0" opacity="0.026"/><rect x="236.9" y="167.6" width="0.66" height="122.2" fill="#0000c0" opacity="0.031"/><rect x="238.75" y="167.6" width="0.78" height="122.2" fill="#ffffff" opacity="0.051"/><rect x="241.41" y="167.6" width="0.6" height="122.2" fill="#ffffff" opacity="0.046"/><rect x="243" y="167.6" width="0.92" height="122.2" fill="#ffffff" opacity="0.042"/><rect x="245.03" y="167.6" width="0.92" height="122.2" fill="#ffffff" opacity="0.028"/><rect x="247.49" y="167.6" width="1.01" height="122.2" fill="#0000c0" opacity="0.046"/><rect x="249.92" y="167.6" width="1.19" height="122.2" fill="#0000c0" opacity="0.032"/><rect x="252.74" y="167.6" width="1.22" height="122.2" fill="#ffffff" opacity="0.036"/><rect x="255.78" y="167.6" width="0.67" height="122.2" fill="#0000c0" opacity="0.070"/><rect x="257.25" y="167.6" width="0.69" height="122.2" fill="#ffffff" opacity="0.056"/><rect x="258.64" y="167.6" width="1.17" height="122.2" fill="#0000c0" opacity="0.041"/><rect x="260.1" y="167.6" width="0.82" height="122.2" fill="#ffffff" opacity="0.054"/><rect x="261.7" y="167.6" width="1.05" height="122.2" fill="#0000c0" opacity="0.066"/><rect x="263.13" y="167.6" width="0.9" height="122.2" fill="#ffffff" opacity="0.058"/><rect x="265.7" y="167.6" width="0.65" height="122.2" fill="#ffffff" opacity="0.024"/><rect x="266.98" y="167.6" width="0.94" height="122.2" fill="#ffffff" opacity="0.046"/><rect x="268.47" y="167.6" width="0.65" height="122.2" fill="#0000c0" opacity="0.030"/><rect x="271.65" y="167.6" width="1.24" height="122.2" fill="#ffffff" opacity="0.025"/><rect x="274.75" y="167.6" width="0.87" height="122.2" fill="#ffffff" opacity="0.058"/><rect x="276.89" y="167.6" width="0.91" height="122.2" fill="#0000c0" opacity="0.042"/><rect x="278.11" y="167.6" width="1.06" height="122.2" fill="#ffffff" opacity="0.062"/></g>
<rect x="25.2" y="273" width="254.4" height="5" fill="#ffffff" opacity="0.035"/>
<g filter="url(#hblur)" clip-path="url(#clipgc)">
<rect x="42.5" y="167.6" width="1" height="122.2" fill="#ffffff" opacity="0.08"/>
<rect x="50.4" y="167.6" width="1.2" height="122.2" fill="#ffffff" opacity="0.12"/>
<rect x="53.5" y="167.6" width="3.8" height="122.2" fill="#ffffff" opacity="0.92"/>
<rect x="54.55" y="167.6" width="1.7" height="122.2" fill="#ffff30" opacity="1"/>
<rect x="94.6" y="167.6" width="1.2" height="122.2" fill="#ffffff" opacity="0.08"/>
<rect x="120.2" y="167.6" width="1.2" height="122.2" fill="#ffffff" opacity="0.08"/>
<rect x="131.4" y="167.6" width="1.6" height="122.2" fill="#ffffff" opacity="0.12"/>
<rect x="139.2" y="167.6" width="1" height="122.2" fill="#ffffff" opacity="0.06"/>
<rect x="158.9" y="167.6" width="2.2" height="122.2" fill="#ffffff" opacity="0.5"/>
<rect x="187.1" y="167.6" width="1.8" height="122.2" fill="#ffffff" opacity="0.28"/>
<rect x="206.2" y="167.6" width="1.6" height="122.2" fill="#ffffff" opacity="0.22"/>
<rect x="244" y="167.6" width="1" height="122.2" fill="#ffffff" opacity="0.06"/>
<rect x="255.1" y="167.6" width="2.4" height="122.2" fill="#ffffff" opacity="0.55"/>
</g>
<rect x="54.9" y="268.5" width="1" height="7.5" fill="#f03020" opacity="0.8"/>
<rect x="54.9" y="279" width="1" height="10" fill="#f06020" opacity="0.7"/>
<rect x="25.2" y="167.6" width="254.4" height="122.2" fill="none" stroke="#333" stroke-width="1"/>
<line x1="25.2" y1="289.8" x2="25.2" y2="291.8" stroke="#333" stroke-width="0.8"/>
<text x="25.7" y="300.8" font-size="9.9" text-anchor="middle" fill="#000" stroke="#000" stroke-width="0.16">15</text>
<line x1="52.8" y1="289.8" x2="52.8" y2="291.1" stroke="#333" stroke-width="0.8"/>
<line x1="80.4" y1="289.8" x2="80.4" y2="291.8" stroke="#333" stroke-width="0.8"/>
<text x="80.9" y="300.8" font-size="9.9" text-anchor="middle" fill="#000" stroke="#000" stroke-width="0.16">20</text>
<line x1="108" y1="289.8" x2="108" y2="291.1" stroke="#333" stroke-width="0.8"/>
<line x1="135.6" y1="289.8" x2="135.6" y2="291.8" stroke="#333" stroke-width="0.8"/>
<text x="136.1" y="300.8" font-size="9.9" text-anchor="middle" fill="#000" stroke="#000" stroke-width="0.16">25</text>
<line x1="163.2" y1="289.8" x2="163.2" y2="291.1" stroke="#333" stroke-width="0.8"/>
<line x1="190.8" y1="289.8" x2="190.8" y2="291.8" stroke="#333" stroke-width="0.8"/>
<text x="191.3" y="300.8" font-size="9.9" text-anchor="middle" fill="#000" stroke="#000" stroke-width="0.16">30</text>
<line x1="218.4" y1="289.8" x2="218.4" y2="291.1" stroke="#333" stroke-width="0.8"/>
<line x1="246" y1="289.8" x2="246" y2="291.8" stroke="#333" stroke-width="0.8"/>
<text x="246.5" y="300.8" font-size="9.9" text-anchor="middle" fill="#000" stroke="#000" stroke-width="0.16">35</text>
<line x1="273.6" y1="289.8" x2="273.6" y2="291.1" stroke="#333" stroke-width="0.8"/>
<rect x="292.9" y="168.9" width="11" height="121.3" fill="url(#cbc)"/>
<text x="298.3" y="166.9" font-size="9.2" text-anchor="middle" fill="#000" stroke="#000" stroke-width="0.16">75</text>
<text x="298.3" y="298.6" font-size="9.2" text-anchor="middle" fill="#000" stroke="#000" stroke-width="0.16">3</text>
<text x="16" y="231" font-size="11" text-anchor="middle" fill="#000" stroke="#000" stroke-width="0.16" transform="rotate(-90 16 231)">Intensity (arb. units)</text>
<text x="122.6" y="314.3" font-size="12" font-style="italic" class="k" textLength="13.6" lengthAdjust="spacingAndGlyphs">2θ</text>
<text x="148.1" y="314.3" font-size="12.1" class="k">Degree</text>
<path d="M147.6 306.2 Q143.6 311.2 147.6 316.3" fill="none" stroke="#111" stroke-width="1.05"/>
<path d="M189 306.2 Q193 311.2 189 316.3" fill="none" stroke="#111" stroke-width="1.05"/>
<text x="26.6" y="180.2" font-size="11.5" text-anchor="start" fill="#f00038" stroke="#f00038" stroke-width="0.16">60°C</text>
<line x1="324.5" y1="12.4" x2="376.2" y2="12.4" stroke="#222" stroke-width="1"/>
<line x1="324.5" y1="12.4" x2="324.5" y2="134.5" stroke="#222" stroke-width="1"/>
<line x1="324.5" y1="134.5" x2="376.2" y2="134.5" stroke="#222" stroke-width="1"/>
<line x1="376.2" y1="11.9" x2="376.2" y2="135" stroke="#555" stroke-width="1.5"/>
<line x1="324.5" y1="134.5" x2="324.5" y2="136.5" stroke="#222" stroke-width="0.8"/>
<text x="324.5" y="145.6" font-size="9.9" text-anchor="middle" fill="#000" stroke="#000" stroke-width="0.16">0</text>
<line x1="333.12" y1="134.5" x2="333.12" y2="135.7" stroke="#222" stroke-width="0.8"/>
<line x1="341.73" y1="134.5" x2="341.73" y2="136.5" stroke="#222" stroke-width="0.8"/>
<text x="341.73" y="145.6" font-size="9.9" text-anchor="middle" fill="#000" stroke="#000" stroke-width="0.16">1</text>
<line x1="350.35" y1="134.5" x2="350.35" y2="135.7" stroke="#222" stroke-width="0.8"/>
<line x1="358.97" y1="134.5" x2="358.97" y2="136.5" stroke="#222" stroke-width="0.8"/>
<text x="358.97" y="145.6" font-size="9.9" text-anchor="middle" fill="#000" stroke="#000" stroke-width="0.16">2</text>
<line x1="367.58" y1="134.5" x2="367.58" y2="135.7" stroke="#222" stroke-width="0.8"/>
<line x1="376.2" y1="134.5" x2="376.2" y2="136.5" stroke="#222" stroke-width="0.8"/>
<text x="376.2" y="145.6" font-size="9.9" text-anchor="middle" fill="#000" stroke="#000" stroke-width="0.16">3</text>
<line x1="376.2" y1="134.4" x2="378.4" y2="134.4" stroke="#222" stroke-width="0.8"/>
<text x="379.6" y="137.9" font-size="9.6" text-anchor="start" fill="#000" stroke="#000" stroke-width="0.16">0</text>
<line x1="376.2" y1="122.18" x2="377.5" y2="122.18" stroke="#222" stroke-width="0.8"/>
<line x1="376.2" y1="109.95" x2="378.4" y2="109.95" stroke="#222" stroke-width="0.8"/>
<text x="379.6" y="113.45" font-size="9.6" text-anchor="start" fill="#000" stroke="#000" stroke-width="0.16">100</text>
<line x1="376.2" y1="97.73" x2="377.5" y2="97.73" stroke="#222" stroke-width="0.8"/>
<line x1="376.2" y1="85.5" x2="378.4" y2="85.5" stroke="#222" stroke-width="0.8"/>
<text x="379.6" y="89" font-size="9.6" text-anchor="start" fill="#000" stroke="#000" stroke-width="0.16">200</text>
<line x1="376.2" y1="73.28" x2="377.5" y2="73.28" stroke="#222" stroke-width="0.8"/>
<line x1="376.2" y1="61.05" x2="378.4" y2="61.05" stroke="#222" stroke-width="0.8"/>
<text x="379.6" y="64.55" font-size="9.6" text-anchor="start" fill="#000" stroke="#000" stroke-width="0.16">300</text>
<line x1="376.2" y1="48.83" x2="377.5" y2="48.83" stroke="#222" stroke-width="0.8"/>
<line x1="376.2" y1="36.6" x2="378.4" y2="36.6" stroke="#222" stroke-width="0.8"/>
<text x="379.6" y="40.1" font-size="9.6" text-anchor="start" fill="#000" stroke="#000" stroke-width="0.16">400</text>
<line x1="376.2" y1="24.38" x2="377.5" y2="24.38" stroke="#222" stroke-width="0.8"/>
<line x1="376.2" y1="12.15" x2="378.4" y2="12.15" stroke="#222" stroke-width="0.8"/>
<text x="379.6" y="15.65" font-size="9.6" text-anchor="start" fill="#000" stroke="#000" stroke-width="0.16">500</text>
<path d="M327.9 134.4 C329.5 133.7 333.7 131.7 337.5 130.2 C341.3 128.7 347.48 126.78 350.7 125.4 C353.92 124.02 354.33 123.8 356.8 121.9 C359.27 120 362.28 116.37 365.5 114 C368.72 111.63 374.33 108.75 376.1 107.7" fill="none" stroke="#3a86e6" stroke-width="0.9" stroke-linejoin="round" stroke-linecap="round"/>
<path d="M376.1 107.7 C374.15 107.32 368.47 106.48 364.4 105.4 C360.33 104.32 355.58 102.7 351.7 101.2 C347.82 99.7 343.92 97.98 341.1 96.4 C338.28 94.82 336.65 93.72 334.8 91.7 C332.95 89.68 331.15 87.03 330 84.3 C328.85 81.57 328.25 76.8 327.9 75.3" fill="none" stroke="#e2475c" stroke-width="0.9" stroke-linejoin="round" stroke-linecap="round"/>
<path d="M327.9 75.3 C330.1 74.52 337.13 72 341.1 70.6 C345.07 69.2 349.13 68.08 351.7 66.9 C354.27 65.72 354.92 64.65 356.5 63.5 C358.08 62.35 359.37 61.85 361.2 60 C363.03 58.15 365.03 54.55 367.5 52.4 C369.97 50.25 374.58 47.98 376 47.1" fill="none" stroke="#3a86e6" stroke-width="0.9" stroke-linejoin="round" stroke-linecap="round"/>
<path d="M376 47.1 C374.07 46.75 367.57 45.88 364.4 45 C361.23 44.12 360 43.03 357 41.8 C354 40.57 349.4 39 346.4 37.6 C343.4 36.2 341.12 35.33 339 33.4 C336.88 31.47 335.63 29.18 333.7 26 C331.77 22.82 328.45 16.25 327.4 14.3" fill="none" stroke="#e2475c" stroke-width="0.9" stroke-linejoin="round" stroke-linecap="round"/>
<text x="355" y="157.2" font-size="12.1" text-anchor="middle" fill="#000" stroke="#000" stroke-width="0.16">Voltage (V)</text>
<text x="408.2" y="71.2" font-size="12" text-anchor="middle" fill="#000" stroke="#000" stroke-width="0.16" transform="rotate(-90 408.2 71.2)">Time (min)</text>
<line x1="324.5" y1="165.2" x2="376.2" y2="165.2" stroke="#222" stroke-width="1"/>
<line x1="324.5" y1="165.2" x2="324.5" y2="289.2" stroke="#222" stroke-width="1"/>
<line x1="324.5" y1="289.2" x2="376.2" y2="289.2" stroke="#222" stroke-width="1"/>
<line x1="376.2" y1="164.7" x2="376.2" y2="289.7" stroke="#555" stroke-width="1.5"/>
<line x1="324.5" y1="289.2" x2="324.5" y2="291.2" stroke="#222" stroke-width="0.8"/>
<text x="324.5" y="300.8" font-size="9.9" text-anchor="middle" fill="#000" stroke="#000" stroke-width="0.16">0</text>
<line x1="333.12" y1="289.2" x2="333.12" y2="290.4" stroke="#222" stroke-width="0.8"/>
<line x1="341.73" y1="289.2" x2="341.73" y2="291.2" stroke="#222" stroke-width="0.8"/>
<text x="341.73" y="300.8" font-size="9.9" text-anchor="middle" fill="#000" stroke="#000" stroke-width="0.16">1</text>
<line x1="350.35" y1="289.2" x2="350.35" y2="290.4" stroke="#222" stroke-width="0.8"/>
<line x1="358.97" y1="289.2" x2="358.97" y2="291.2" stroke="#222" stroke-width="0.8"/>
<text x="358.97" y="300.8" font-size="9.9" text-anchor="middle" fill="#000" stroke="#000" stroke-width="0.16">2</text>
<line x1="367.58" y1="289.2" x2="367.58" y2="290.4" stroke="#222" stroke-width="0.8"/>
<line x1="376.2" y1="289.2" x2="376.2" y2="291.2" stroke="#222" stroke-width="0.8"/>
<text x="376.2" y="300.8" font-size="9.9" text-anchor="middle" fill="#000" stroke="#000" stroke-width="0.16">3</text>
<line x1="376.2" y1="289.1" x2="378.4" y2="289.1" stroke="#222" stroke-width="0.8"/>
<text x="379.6" y="292.6" font-size="9.6" text-anchor="start" fill="#000" stroke="#000" stroke-width="0.16">0</text>
<line x1="376.2" y1="271.9" x2="377.5" y2="271.9" stroke="#222" stroke-width="0.8"/>
<line x1="376.2" y1="254.7" x2="378.4" y2="254.7" stroke="#222" stroke-width="0.8"/>
<text x="379.6" y="258.2" font-size="9.6" text-anchor="start" fill="#000" stroke="#000" stroke-width="0.16">100</text>
<line x1="376.2" y1="237.5" x2="377.5" y2="237.5" stroke="#222" stroke-width="0.8"/>
<line x1="376.2" y1="220.3" x2="378.4" y2="220.3" stroke="#222" stroke-width="0.8"/>
<text x="379.6" y="223.8" font-size="9.6" text-anchor="start" fill="#000" stroke="#000" stroke-width="0.16">200</text>
<line x1="376.2" y1="203.1" x2="377.5" y2="203.1" stroke="#222" stroke-width="0.8"/>
<line x1="376.2" y1="185.9" x2="378.4" y2="185.9" stroke="#222" stroke-width="0.8"/>
<text x="379.6" y="189.4" font-size="9.6" text-anchor="start" fill="#000" stroke="#000" stroke-width="0.16">300</text>
<line x1="376.2" y1="168.7" x2="377.5" y2="168.7" stroke="#222" stroke-width="0.8"/>
<path d="M329.8 289.2 C332.22 286.12 340.6 275.07 344.3 270.7 C348 266.33 349.5 265.52 352 263 C354.5 260.48 356.53 258.85 359.3 255.6 C362.07 252.35 365.75 247.27 368.6 243.5 C371.45 239.73 375.1 234.75 376.4 233" fill="none" stroke="#3a86e6" stroke-width="0.9" stroke-linejoin="round" stroke-linecap="round"/>
<path d="M376.4 233 C375.87 232.87 374.5 232.95 373.2 232.2 C371.9 231.45 370.15 229.7 368.6 228.5 C367.05 227.3 366.22 227.55 363.9 225 C361.58 222.45 358.17 217.28 354.7 213.2 C351.23 209.12 346.18 203.78 343.1 200.5 C340.02 197.22 338.12 196.02 336.2 193.5 C334.28 190.98 332.77 188.1 331.6 185.4 C330.43 182.7 329.75 180.18 329.2 177.3 C328.65 174.42 328.45 169.63 328.3 168.1" fill="none" stroke="#e2475c" stroke-width="0.9" stroke-linejoin="round" stroke-linecap="round"/>
<text x="355" y="313.6" font-size="12.1" text-anchor="middle" fill="#000" stroke="#000" stroke-width="0.16">Voltage (V)</text>
<text x="407.6" y="224.6" font-size="12" text-anchor="middle" fill="#000" stroke="#000" stroke-width="0.16" transform="rotate(-90 407.6 224.6)">Time (min)</text>
<text x="420.8" y="10.9" font-size="13.5" text-anchor="start" fill="#000" stroke="#000" stroke-width="0.16">b</text>
<rect x="456.2" y="11" width="189.6" height="124" fill="none" stroke="#222" stroke-width="1"/>
<line x1="456.2" y1="42.3" x2="645.8" y2="42.3" stroke="#222" stroke-width="1"/>
<line x1="456.2" y1="73.3" x2="645.8" y2="73.3" stroke="#222" stroke-width="1"/>
<line x1="456.2" y1="104.4" x2="645.8" y2="104.4" stroke="#222" stroke-width="1"/>
<line x1="456.2" y1="42.3" x2="456.2" y2="43.8" stroke="#222" stroke-width="0.7"/>
<line x1="456.2" y1="73.3" x2="456.2" y2="74.8" stroke="#222" stroke-width="0.7"/>
<line x1="456.2" y1="104.4" x2="456.2" y2="105.9" stroke="#222" stroke-width="0.7"/>
<line x1="456.2" y1="135" x2="456.2" y2="136.5" stroke="#222" stroke-width="0.7"/>
<line x1="465.28" y1="42.3" x2="465.28" y2="43.35" stroke="#222" stroke-width="0.7"/>
<line x1="465.28" y1="73.3" x2="465.28" y2="74.35" stroke="#222" stroke-width="0.7"/>
<line x1="465.28" y1="104.4" x2="465.28" y2="105.45" stroke="#222" stroke-width="0.7"/>
<line x1="465.28" y1="135" x2="465.28" y2="136.05" stroke="#222" stroke-width="0.7"/>
<line x1="474.37" y1="42.3" x2="474.37" y2="43.8" stroke="#222" stroke-width="0.7"/>
<line x1="474.37" y1="73.3" x2="474.37" y2="74.8" stroke="#222" stroke-width="0.7"/>
<line x1="474.37" y1="104.4" x2="474.37" y2="105.9" stroke="#222" stroke-width="0.7"/>
<line x1="474.37" y1="135" x2="474.37" y2="136.5" stroke="#222" stroke-width="0.7"/>
<line x1="483.45" y1="42.3" x2="483.45" y2="43.35" stroke="#222" stroke-width="0.7"/>
<line x1="483.45" y1="73.3" x2="483.45" y2="74.35" stroke="#222" stroke-width="0.7"/>
<line x1="483.45" y1="104.4" x2="483.45" y2="105.45" stroke="#222" stroke-width="0.7"/>
<line x1="483.45" y1="135" x2="483.45" y2="136.05" stroke="#222" stroke-width="0.7"/>
<line x1="492.54" y1="42.3" x2="492.54" y2="43.8" stroke="#222" stroke-width="0.7"/>
<line x1="492.54" y1="73.3" x2="492.54" y2="74.8" stroke="#222" stroke-width="0.7"/>
<line x1="492.54" y1="104.4" x2="492.54" y2="105.9" stroke="#222" stroke-width="0.7"/>
<line x1="492.54" y1="135" x2="492.54" y2="136.5" stroke="#222" stroke-width="0.7"/>
<line x1="501.62" y1="42.3" x2="501.62" y2="43.35" stroke="#222" stroke-width="0.7"/>
<line x1="501.62" y1="73.3" x2="501.62" y2="74.35" stroke="#222" stroke-width="0.7"/>
<line x1="501.62" y1="104.4" x2="501.62" y2="105.45" stroke="#222" stroke-width="0.7"/>
<line x1="501.62" y1="135" x2="501.62" y2="136.05" stroke="#222" stroke-width="0.7"/>
<line x1="510.71" y1="42.3" x2="510.71" y2="43.8" stroke="#222" stroke-width="0.7"/>
<line x1="510.71" y1="73.3" x2="510.71" y2="74.8" stroke="#222" stroke-width="0.7"/>
<line x1="510.71" y1="104.4" x2="510.71" y2="105.9" stroke="#222" stroke-width="0.7"/>
<line x1="510.71" y1="135" x2="510.71" y2="136.5" stroke="#222" stroke-width="0.7"/>
<line x1="519.79" y1="42.3" x2="519.79" y2="43.35" stroke="#222" stroke-width="0.7"/>
<line x1="519.79" y1="73.3" x2="519.79" y2="74.35" stroke="#222" stroke-width="0.7"/>
<line x1="519.79" y1="104.4" x2="519.79" y2="105.45" stroke="#222" stroke-width="0.7"/>
<line x1="519.79" y1="135" x2="519.79" y2="136.05" stroke="#222" stroke-width="0.7"/>
<line x1="528.88" y1="42.3" x2="528.88" y2="43.8" stroke="#222" stroke-width="0.7"/>
<line x1="528.88" y1="73.3" x2="528.88" y2="74.8" stroke="#222" stroke-width="0.7"/>
<line x1="528.88" y1="104.4" x2="528.88" y2="105.9" stroke="#222" stroke-width="0.7"/>
<line x1="528.88" y1="135" x2="528.88" y2="136.5" stroke="#222" stroke-width="0.7"/>
<line x1="537.97" y1="42.3" x2="537.97" y2="43.35" stroke="#222" stroke-width="0.7"/>
<line x1="537.97" y1="73.3" x2="537.97" y2="74.35" stroke="#222" stroke-width="0.7"/>
<line x1="537.97" y1="104.4" x2="537.97" y2="105.45" stroke="#222" stroke-width="0.7"/>
<line x1="537.97" y1="135" x2="537.97" y2="136.05" stroke="#222" stroke-width="0.7"/>
<line x1="547.05" y1="42.3" x2="547.05" y2="43.8" stroke="#222" stroke-width="0.7"/>
<line x1="547.05" y1="73.3" x2="547.05" y2="74.8" stroke="#222" stroke-width="0.7"/>
<line x1="547.05" y1="104.4" x2="547.05" y2="105.9" stroke="#222" stroke-width="0.7"/>
<line x1="547.05" y1="135" x2="547.05" y2="136.5" stroke="#222" stroke-width="0.7"/>
<line x1="556.13" y1="42.3" x2="556.13" y2="43.35" stroke="#222" stroke-width="0.7"/>
<line x1="556.13" y1="73.3" x2="556.13" y2="74.35" stroke="#222" stroke-width="0.7"/>
<line x1="556.13" y1="104.4" x2="556.13" y2="105.45" stroke="#222" stroke-width="0.7"/>
<line x1="556.13" y1="135" x2="556.13" y2="136.05" stroke="#222" stroke-width="0.7"/>
<line x1="565.22" y1="42.3" x2="565.22" y2="43.8" stroke="#222" stroke-width="0.7"/>
<line x1="565.22" y1="73.3" x2="565.22" y2="74.8" stroke="#222" stroke-width="0.7"/>
<line x1="565.22" y1="104.4" x2="565.22" y2="105.9" stroke="#222" stroke-width="0.7"/>
<line x1="565.22" y1="135" x2="565.22" y2="136.5" stroke="#222" stroke-width="0.7"/>
<line x1="574.3" y1="42.3" x2="574.3" y2="43.35" stroke="#222" stroke-width="0.7"/>
<line x1="574.3" y1="73.3" x2="574.3" y2="74.35" stroke="#222" stroke-width="0.7"/>
<line x1="574.3" y1="104.4" x2="574.3" y2="105.45" stroke="#222" stroke-width="0.7"/>
<line x1="574.3" y1="135" x2="574.3" y2="136.05" stroke="#222" stroke-width="0.7"/>
<line x1="583.39" y1="42.3" x2="583.39" y2="43.8" stroke="#222" stroke-width="0.7"/>
<line x1="583.39" y1="73.3" x2="583.39" y2="74.8" stroke="#222" stroke-width="0.7"/>
<line x1="583.39" y1="104.4" x2="583.39" y2="105.9" stroke="#222" stroke-width="0.7"/>
<line x1="583.39" y1="135" x2="583.39" y2="136.5" stroke="#222" stroke-width="0.7"/>
<line x1="592.48" y1="42.3" x2="592.48" y2="43.35" stroke="#222" stroke-width="0.7"/>
<line x1="592.48" y1="73.3" x2="592.48" y2="74.35" stroke="#222" stroke-width="0.7"/>
<line x1="592.48" y1="104.4" x2="592.48" y2="105.45" stroke="#222" stroke-width="0.7"/>
<line x1="592.48" y1="135" x2="592.48" y2="136.05" stroke="#222" stroke-width="0.7"/>
<line x1="601.56" y1="42.3" x2="601.56" y2="43.8" stroke="#222" stroke-width="0.7"/>
<line x1="601.56" y1="73.3" x2="601.56" y2="74.8" stroke="#222" stroke-width="0.7"/>
<line x1="601.56" y1="104.4" x2="601.56" y2="105.9" stroke="#222" stroke-width="0.7"/>
<line x1="601.56" y1="135" x2="601.56" y2="136.5" stroke="#222" stroke-width="0.7"/>
<line x1="610.64" y1="42.3" x2="610.64" y2="43.35" stroke="#222" stroke-width="0.7"/>
<line x1="610.64" y1="73.3" x2="610.64" y2="74.35" stroke="#222" stroke-width="0.7"/>
<line x1="610.64" y1="104.4" x2="610.64" y2="105.45" stroke="#222" stroke-width="0.7"/>
<line x1="610.64" y1="135" x2="610.64" y2="136.05" stroke="#222" stroke-width="0.7"/>
<line x1="619.73" y1="42.3" x2="619.73" y2="43.8" stroke="#222" stroke-width="0.7"/>
<line x1="619.73" y1="73.3" x2="619.73" y2="74.8" stroke="#222" stroke-width="0.7"/>
<line x1="619.73" y1="104.4" x2="619.73" y2="105.9" stroke="#222" stroke-width="0.7"/>
<line x1="619.73" y1="135" x2="619.73" y2="136.5" stroke="#222" stroke-width="0.7"/>
<line x1="628.82" y1="42.3" x2="628.82" y2="43.35" stroke="#222" stroke-width="0.7"/>
<line x1="628.82" y1="73.3" x2="628.82" y2="74.35" stroke="#222" stroke-width="0.7"/>
<line x1="628.82" y1="104.4" x2="628.82" y2="105.45" stroke="#222" stroke-width="0.7"/>
<line x1="628.82" y1="135" x2="628.82" y2="136.05" stroke="#222" stroke-width="0.7"/>
<line x1="637.9" y1="42.3" x2="637.9" y2="43.8" stroke="#222" stroke-width="0.7"/>
<line x1="637.9" y1="73.3" x2="637.9" y2="74.8" stroke="#222" stroke-width="0.7"/>
<line x1="637.9" y1="104.4" x2="637.9" y2="105.9" stroke="#222" stroke-width="0.7"/>
<line x1="637.9" y1="135" x2="637.9" y2="136.5" stroke="#222" stroke-width="0.7"/>
<g clip-path="url(#clipb)">
<line x1="456.6" y1="14.8" x2="456.6" y2="23.2" stroke="#8fbaf0" stroke-width="0.6"/>
<line x1="455.3" y1="14.8" x2="457.9" y2="14.8" stroke="#8fbaf0" stroke-width="0.6"/>
<line x1="455.3" y1="23.2" x2="457.9" y2="23.2" stroke="#8fbaf0" stroke-width="0.6"/>
<line x1="462.36" y1="19.6" x2="462.36" y2="28" stroke="#8fbaf0" stroke-width="0.6"/>
<line x1="461.06" y1="19.6" x2="463.66" y2="19.6" stroke="#8fbaf0" stroke-width="0.6"/>
<line x1="461.06" y1="28" x2="463.66" y2="28" stroke="#8fbaf0" stroke-width="0.6"/>
<line x1="468.13" y1="23.2" x2="468.13" y2="31.6" stroke="#8fbaf0" stroke-width="0.6"/>
<line x1="466.83" y1="23.2" x2="469.43" y2="23.2" stroke="#8fbaf0" stroke-width="0.6"/>
<line x1="466.83" y1="31.6" x2="469.43" y2="31.6" stroke="#8fbaf0" stroke-width="0.6"/>
<line x1="473.89" y1="22.3" x2="473.89" y2="30.7" stroke="#8fbaf0" stroke-width="0.6"/>
<line x1="472.59" y1="22.3" x2="475.19" y2="22.3" stroke="#8fbaf0" stroke-width="0.6"/>
<line x1="472.59" y1="30.7" x2="475.19" y2="30.7" stroke="#8fbaf0" stroke-width="0.6"/>
<line x1="479.65" y1="25.8" x2="479.65" y2="34.2" stroke="#8fbaf0" stroke-width="0.6"/>
<line x1="478.35" y1="25.8" x2="480.95" y2="25.8" stroke="#8fbaf0" stroke-width="0.6"/>
<line x1="478.35" y1="34.2" x2="480.95" y2="34.2" stroke="#8fbaf0" stroke-width="0.6"/>
<line x1="485.42" y1="26.6" x2="485.42" y2="35" stroke="#8fbaf0" stroke-width="0.6"/>
<line x1="484.12" y1="26.6" x2="486.72" y2="26.6" stroke="#8fbaf0" stroke-width="0.6"/>
<line x1="484.12" y1="35" x2="486.72" y2="35" stroke="#8fbaf0" stroke-width="0.6"/>
<line x1="491.18" y1="29.3" x2="491.18" y2="37.7" stroke="#8fbaf0" stroke-width="0.6"/>
<line x1="489.88" y1="29.3" x2="492.48" y2="29.3" stroke="#8fbaf0" stroke-width="0.6"/>
<line x1="489.88" y1="37.7" x2="492.48" y2="37.7" stroke="#8fbaf0" stroke-width="0.6"/>
<line x1="496.94" y1="31.5" x2="496.94" y2="39.9" stroke="#8fbaf0" stroke-width="0.6"/>
<line x1="495.64" y1="31.5" x2="498.24" y2="31.5" stroke="#8fbaf0" stroke-width="0.6"/>
<line x1="495.64" y1="39.9" x2="498.24" y2="39.9" stroke="#8fbaf0" stroke-width="0.6"/>
<line x1="502.7" y1="30.2" x2="502.7" y2="38.6" stroke="#f2a2ad" stroke-width="0.6"/>
<line x1="501.4" y1="30.2" x2="504" y2="30.2" stroke="#f2a2ad" stroke-width="0.6"/>
<line x1="501.4" y1="38.6" x2="504" y2="38.6" stroke="#f2a2ad" stroke-width="0.6"/>
<line x1="508.47" y1="30.1" x2="508.47" y2="38.5" stroke="#f2a2ad" stroke-width="0.6"/>
<line x1="507.17" y1="30.1" x2="509.77" y2="30.1" stroke="#f2a2ad" stroke-width="0.6"/>
<line x1="507.17" y1="38.5" x2="509.77" y2="38.5" stroke="#f2a2ad" stroke-width="0.6"/>
<line x1="514.23" y1="28.3" x2="514.23" y2="36.7" stroke="#f2a2ad" stroke-width="0.6"/>
<line x1="512.93" y1="28.3" x2="515.53" y2="28.3" stroke="#f2a2ad" stroke-width="0.6"/>
<line x1="512.93" y1="36.7" x2="515.53" y2="36.7" stroke="#f2a2ad" stroke-width="0.6"/>
<line x1="519.99" y1="28.9" x2="519.99" y2="37.3" stroke="#f2a2ad" stroke-width="0.6"/>
<line x1="518.69" y1="28.9" x2="521.29" y2="28.9" stroke="#f2a2ad" stroke-width="0.6"/>
<line x1="518.69" y1="37.3" x2="521.29" y2="37.3" stroke="#f2a2ad" stroke-width="0.6"/>
<line x1="525.76" y1="26.4" x2="525.76" y2="34.8" stroke="#f2a2ad" stroke-width="0.6"/>
<line x1="524.46" y1="26.4" x2="527.06" y2="26.4" stroke="#f2a2ad" stroke-width="0.6"/>
<line x1="524.46" y1="34.8" x2="527.06" y2="34.8" stroke="#f2a2ad" stroke-width="0.6"/>
<line x1="531.52" y1="24.5" x2="531.52" y2="32.9" stroke="#f2a2ad" stroke-width="0.6"/>
<line x1="530.22" y1="24.5" x2="532.82" y2="24.5" stroke="#f2a2ad" stroke-width="0.6"/>
<line x1="530.22" y1="32.9" x2="532.82" y2="32.9" stroke="#f2a2ad" stroke-width="0.6"/>
<line x1="537.28" y1="21.5" x2="537.28" y2="29.9" stroke="#f2a2ad" stroke-width="0.6"/>
<line x1="535.98" y1="21.5" x2="538.58" y2="21.5" stroke="#f2a2ad" stroke-width="0.6"/>
<line x1="535.98" y1="29.9" x2="538.58" y2="29.9" stroke="#f2a2ad" stroke-width="0.6"/>
<line x1="543.05" y1="18.4" x2="543.05" y2="26.8" stroke="#f2a2ad" stroke-width="0.6"/>
<line x1="541.75" y1="18.4" x2="544.35" y2="18.4" stroke="#f2a2ad" stroke-width="0.6"/>
<line x1="541.75" y1="26.8" x2="544.35" y2="26.8" stroke="#f2a2ad" stroke-width="0.6"/>
<line x1="548.81" y1="19.2" x2="548.81" y2="27.6" stroke="#8fbaf0" stroke-width="0.6"/>
<line x1="547.51" y1="19.2" x2="550.11" y2="19.2" stroke="#8fbaf0" stroke-width="0.6"/>
<line x1="547.51" y1="27.6" x2="550.11" y2="27.6" stroke="#8fbaf0" stroke-width="0.6"/>
<line x1="554.57" y1="21.1" x2="554.57" y2="29.5" stroke="#8fbaf0" stroke-width="0.6"/>
<line x1="553.27" y1="21.1" x2="555.87" y2="21.1" stroke="#8fbaf0" stroke-width="0.6"/>
<line x1="553.27" y1="29.5" x2="555.87" y2="29.5" stroke="#8fbaf0" stroke-width="0.6"/>
<line x1="560.33" y1="26.2" x2="560.33" y2="34.6" stroke="#8fbaf0" stroke-width="0.6"/>
<line x1="559.03" y1="26.2" x2="561.63" y2="26.2" stroke="#8fbaf0" stroke-width="0.6"/>
<line x1="559.03" y1="34.6" x2="561.63" y2="34.6" stroke="#8fbaf0" stroke-width="0.6"/>
<line x1="566.1" y1="27.1" x2="566.1" y2="35.5" stroke="#8fbaf0" stroke-width="0.6"/>
<line x1="564.8" y1="27.1" x2="567.4" y2="27.1" stroke="#8fbaf0" stroke-width="0.6"/>
<line x1="564.8" y1="35.5" x2="567.4" y2="35.5" stroke="#8fbaf0" stroke-width="0.6"/>
<line x1="571.86" y1="28" x2="571.86" y2="36.4" stroke="#8fbaf0" stroke-width="0.6"/>
<line x1="570.56" y1="28" x2="573.16" y2="28" stroke="#8fbaf0" stroke-width="0.6"/>
<line x1="570.56" y1="36.4" x2="573.16" y2="36.4" stroke="#8fbaf0" stroke-width="0.6"/>
<line x1="577.62" y1="29.1" x2="577.62" y2="37.5" stroke="#8fbaf0" stroke-width="0.6"/>
<line x1="576.32" y1="29.1" x2="578.92" y2="29.1" stroke="#8fbaf0" stroke-width="0.6"/>
<line x1="576.32" y1="37.5" x2="578.92" y2="37.5" stroke="#8fbaf0" stroke-width="0.6"/>
<line x1="583.39" y1="32.6" x2="583.39" y2="41" stroke="#8fbaf0" stroke-width="0.6"/>
<line x1="582.09" y1="32.6" x2="584.69" y2="32.6" stroke="#8fbaf0" stroke-width="0.6"/>
<line x1="582.09" y1="41" x2="584.69" y2="41" stroke="#8fbaf0" stroke-width="0.6"/>
<line x1="589.15" y1="32.6" x2="589.15" y2="41" stroke="#f2a2ad" stroke-width="0.6"/>
<line x1="587.85" y1="32.6" x2="590.45" y2="32.6" stroke="#f2a2ad" stroke-width="0.6"/>
<line x1="587.85" y1="41" x2="590.45" y2="41" stroke="#f2a2ad" stroke-width="0.6"/>
<line x1="594.91" y1="31.4" x2="594.91" y2="39.8" stroke="#f2a2ad" stroke-width="0.6"/>
<line x1="593.61" y1="31.4" x2="596.21" y2="31.4" stroke="#f2a2ad" stroke-width="0.6"/>
<line x1="593.61" y1="39.8" x2="596.21" y2="39.8" stroke="#f2a2ad" stroke-width="0.6"/>
<line x1="600.67" y1="28.3" x2="600.67" y2="36.7" stroke="#f2a2ad" stroke-width="0.6"/>
<line x1="599.38" y1="28.3" x2="601.97" y2="28.3" stroke="#f2a2ad" stroke-width="0.6"/>
<line x1="599.38" y1="36.7" x2="601.97" y2="36.7" stroke="#f2a2ad" stroke-width="0.6"/>
<line x1="606.44" y1="27.6" x2="606.44" y2="36" stroke="#f2a2ad" stroke-width="0.6"/>
<line x1="605.14" y1="27.6" x2="607.74" y2="27.6" stroke="#f2a2ad" stroke-width="0.6"/>
<line x1="605.14" y1="36" x2="607.74" y2="36" stroke="#f2a2ad" stroke-width="0.6"/>
<line x1="612.2" y1="29.1" x2="612.2" y2="37.5" stroke="#f2a2ad" stroke-width="0.6"/>
<line x1="610.9" y1="29.1" x2="613.5" y2="29.1" stroke="#f2a2ad" stroke-width="0.6"/>
<line x1="610.9" y1="37.5" x2="613.5" y2="37.5" stroke="#f2a2ad" stroke-width="0.6"/>
<line x1="617.96" y1="28.6" x2="617.96" y2="37" stroke="#f2a2ad" stroke-width="0.6"/>
<line x1="616.66" y1="28.6" x2="619.26" y2="28.6" stroke="#f2a2ad" stroke-width="0.6"/>
<line x1="616.66" y1="37" x2="619.26" y2="37" stroke="#f2a2ad" stroke-width="0.6"/>
<line x1="623.73" y1="27.1" x2="623.73" y2="35.5" stroke="#f2a2ad" stroke-width="0.6"/>
<line x1="622.43" y1="27.1" x2="625.03" y2="27.1" stroke="#f2a2ad" stroke-width="0.6"/>
<line x1="622.43" y1="35.5" x2="625.03" y2="35.5" stroke="#f2a2ad" stroke-width="0.6"/>
<line x1="629.49" y1="25.6" x2="629.49" y2="34" stroke="#f2a2ad" stroke-width="0.6"/>
<line x1="628.19" y1="25.6" x2="630.79" y2="25.6" stroke="#f2a2ad" stroke-width="0.6"/>
<line x1="628.19" y1="34" x2="630.79" y2="34" stroke="#f2a2ad" stroke-width="0.6"/>
<line x1="635.25" y1="20.7" x2="635.25" y2="29.1" stroke="#f2a2ad" stroke-width="0.6"/>
<line x1="633.95" y1="20.7" x2="636.55" y2="20.7" stroke="#f2a2ad" stroke-width="0.6"/>
<line x1="633.95" y1="29.1" x2="636.55" y2="29.1" stroke="#f2a2ad" stroke-width="0.6"/>
<line x1="641.02" y1="18.1" x2="641.02" y2="26.5" stroke="#f2a2ad" stroke-width="0.6"/>
<line x1="639.72" y1="18.1" x2="642.32" y2="18.1" stroke="#f2a2ad" stroke-width="0.6"/>
<line x1="639.72" y1="26.5" x2="642.32" y2="26.5" stroke="#f2a2ad" stroke-width="0.6"/>
<circle cx="456.6" cy="19" r="1.85" fill="url(#mb)"/>
<circle cx="462.36" cy="23.8" r="1.85" fill="url(#mb)"/>
<circle cx="468.13" cy="27.4" r="1.85" fill="url(#mb)"/>
<circle cx="473.89" cy="26.5" r="1.85" fill="url(#mb)"/>
<circle cx="479.65" cy="30" r="1.85" fill="url(#mb)"/>
<circle cx="485.42" cy="30.8" r="1.85" fill="url(#mb)"/>
<circle cx="491.18" cy="33.5" r="1.85" fill="url(#mb)"/>
<circle cx="496.94" cy="35.7" r="1.85" fill="url(#mb)"/>
<circle cx="502.7" cy="34.4" r="1.85" fill="url(#mr)"/>
<circle cx="508.47" cy="34.3" r="1.85" fill="url(#mr)"/>
<circle cx="514.23" cy="32.5" r="1.85" fill="url(#mr)"/>
<circle cx="519.99" cy="33.1" r="1.85" fill="url(#mr)"/>
<circle cx="525.76" cy="30.6" r="1.85" fill="url(#mr)"/>
<circle cx="531.52" cy="28.7" r="1.85" fill="url(#mr)"/>
<circle cx="537.28" cy="25.7" r="1.85" fill="url(#mr)"/>
<circle cx="543.05" cy="22.6" r="1.85" fill="url(#mr)"/>
<circle cx="548.81" cy="23.4" r="1.85" fill="url(#mb)"/>
<circle cx="554.57" cy="25.3" r="1.85" fill="url(#mb)"/>
<circle cx="560.33" cy="30.4" r="1.85" fill="url(#mb)"/>
<circle cx="566.1" cy="31.3" r="1.85" fill="url(#mb)"/>
<circle cx="571.86" cy="32.2" r="1.85" fill="url(#mb)"/>
<circle cx="577.62" cy="33.3" r="1.85" fill="url(#mb)"/>
<circle cx="583.39" cy="36.8" r="1.85" fill="url(#mb)"/>
<circle cx="589.15" cy="36.8" r="1.85" fill="url(#mr)"/>
<circle cx="594.91" cy="35.6" r="1.85" fill="url(#mr)"/>
<circle cx="600.67" cy="32.5" r="1.85" fill="url(#mr)"/>
<circle cx="606.44" cy="31.8" r="1.85" fill="url(#mr)"/>
<circle cx="612.2" cy="33.3" r="1.85" fill="url(#mr)"/>
<circle cx="617.96" cy="32.8" r="1.85" fill="url(#mr)"/>
<circle cx="623.73" cy="31.3" r="1.85" fill="url(#mr)"/>
<circle cx="629.49" cy="29.8" r="1.85" fill="url(#mr)"/>
<circle cx="635.25" cy="24.9" r="1.85" fill="url(#mr)"/>
<circle cx="641.02" cy="22.3" r="1.85" fill="url(#mr)"/>
<line x1="456.6" y1="57.4" x2="456.6" y2="65.8" stroke="#8fbaf0" stroke-width="0.6"/>
<line x1="455.3" y1="57.4" x2="457.9" y2="57.4" stroke="#8fbaf0" stroke-width="0.6"/>
<line x1="455.3" y1="65.8" x2="457.9" y2="65.8" stroke="#8fbaf0" stroke-width="0.6"/>
<line x1="462.36" y1="59.4" x2="462.36" y2="67.8" stroke="#8fbaf0" stroke-width="0.6"/>
<line x1="461.06" y1="59.4" x2="463.66" y2="59.4" stroke="#8fbaf0" stroke-width="0.6"/>
<line x1="461.06" y1="67.8" x2="463.66" y2="67.8" stroke="#8fbaf0" stroke-width="0.6"/>
<line x1="468.13" y1="59.4" x2="468.13" y2="67.8" stroke="#8fbaf0" stroke-width="0.6"/>
<line x1="466.83" y1="59.4" x2="469.43" y2="59.4" stroke="#8fbaf0" stroke-width="0.6"/>
<line x1="466.83" y1="67.8" x2="469.43" y2="67.8" stroke="#8fbaf0" stroke-width="0.6"/>
<line x1="473.89" y1="57.4" x2="473.89" y2="65.8" stroke="#8fbaf0" stroke-width="0.6"/>
<line x1="472.59" y1="57.4" x2="475.19" y2="57.4" stroke="#8fbaf0" stroke-width="0.6"/>
<line x1="472.59" y1="65.8" x2="475.19" y2="65.8" stroke="#8fbaf0" stroke-width="0.6"/>
<line x1="479.65" y1="57.7" x2="479.65" y2="66.1" stroke="#8fbaf0" stroke-width="0.6"/>
<line x1="478.35" y1="57.7" x2="480.95" y2="57.7" stroke="#8fbaf0" stroke-width="0.6"/>
<line x1="478.35" y1="66.1" x2="480.95" y2="66.1" stroke="#8fbaf0" stroke-width="0.6"/>
<line x1="485.42" y1="58.7" x2="485.42" y2="67.1" stroke="#8fbaf0" stroke-width="0.6"/>
<line x1="484.12" y1="58.7" x2="486.72" y2="58.7" stroke="#8fbaf0" stroke-width="0.6"/>
<line x1="484.12" y1="67.1" x2="486.72" y2="67.1" stroke="#8fbaf0" stroke-width="0.6"/>
<line x1="491.18" y1="60.6" x2="491.18" y2="69" stroke="#8fbaf0" stroke-width="0.6"/>
<line x1="489.88" y1="60.6" x2="492.48" y2="60.6" stroke="#8fbaf0" stroke-width="0.6"/>
<line x1="489.88" y1="69" x2="492.48" y2="69" stroke="#8fbaf0" stroke-width="0.6"/>
<line x1="496.94" y1="60.9" x2="496.94" y2="69.3" stroke="#8fbaf0" stroke-width="0.6"/>
<line x1="495.64" y1="60.9" x2="498.24" y2="60.9" stroke="#8fbaf0" stroke-width="0.6"/>
<line x1="495.64" y1="69.3" x2="498.24" y2="69.3" stroke="#8fbaf0" stroke-width="0.6"/>
<line x1="502.7" y1="64.4" x2="502.7" y2="72.8" stroke="#f2a2ad" stroke-width="0.6"/>
<line x1="501.4" y1="64.4" x2="504" y2="64.4" stroke="#f2a2ad" stroke-width="0.6"/>
<line x1="501.4" y1="72.8" x2="504" y2="72.8" stroke="#f2a2ad" stroke-width="0.6"/>
<line x1="508.47" y1="59.9" x2="508.47" y2="68.3" stroke="#f2a2ad" stroke-width="0.6"/>
<line x1="507.17" y1="59.9" x2="509.77" y2="59.9" stroke="#f2a2ad" stroke-width="0.6"/>
<line x1="507.17" y1="68.3" x2="509.77" y2="68.3" stroke="#f2a2ad" stroke-width="0.6"/>
<line x1="514.23" y1="59.4" x2="514.23" y2="67.8" stroke="#f2a2ad" stroke-width="0.6"/>
<line x1="512.93" y1="59.4" x2="515.53" y2="59.4" stroke="#f2a2ad" stroke-width="0.6"/>
<line x1="512.93" y1="67.8" x2="515.53" y2="67.8" stroke="#f2a2ad" stroke-width="0.6"/>
<line x1="519.99" y1="58.4" x2="519.99" y2="66.8" stroke="#f2a2ad" stroke-width="0.6"/>
<line x1="518.69" y1="58.4" x2="521.29" y2="58.4" stroke="#f2a2ad" stroke-width="0.6"/>
<line x1="518.69" y1="66.8" x2="521.29" y2="66.8" stroke="#f2a2ad" stroke-width="0.6"/>
<line x1="525.76" y1="58.9" x2="525.76" y2="67.3" stroke="#f2a2ad" stroke-width="0.6"/>
<line x1="524.46" y1="58.9" x2="527.06" y2="58.9" stroke="#f2a2ad" stroke-width="0.6"/>
<line x1="524.46" y1="67.3" x2="527.06" y2="67.3" stroke="#f2a2ad" stroke-width="0.6"/>
<line x1="531.52" y1="59.2" x2="531.52" y2="67.6" stroke="#f2a2ad" stroke-width="0.6"/>
<line x1="530.22" y1="59.2" x2="532.82" y2="59.2" stroke="#f2a2ad" stroke-width="0.6"/>
<line x1="530.22" y1="67.6" x2="532.82" y2="67.6" stroke="#f2a2ad" stroke-width="0.6"/>
<line x1="537.28" y1="57" x2="537.28" y2="65.4" stroke="#f2a2ad" stroke-width="0.6"/>
<line x1="535.98" y1="57" x2="538.58" y2="57" stroke="#f2a2ad" stroke-width="0.6"/>
<line x1="535.98" y1="65.4" x2="538.58" y2="65.4" stroke="#f2a2ad" stroke-width="0.6"/>
<line x1="543.05" y1="55.2" x2="543.05" y2="63.6" stroke="#f2a2ad" stroke-width="0.6"/>
<line x1="541.75" y1="55.2" x2="544.35" y2="55.2" stroke="#f2a2ad" stroke-width="0.6"/>
<line x1="541.75" y1="63.6" x2="544.35" y2="63.6" stroke="#f2a2ad" stroke-width="0.6"/>
<line x1="548.81" y1="56.3" x2="548.81" y2="64.7" stroke="#8fbaf0" stroke-width="0.6"/>
<line x1="547.51" y1="56.3" x2="550.11" y2="56.3" stroke="#8fbaf0" stroke-width="0.6"/>
<line x1="547.51" y1="64.7" x2="550.11" y2="64.7" stroke="#8fbaf0" stroke-width="0.6"/>
<line x1="554.57" y1="56.5" x2="554.57" y2="64.9" stroke="#8fbaf0" stroke-width="0.6"/>
<line x1="553.27" y1="56.5" x2="555.87" y2="56.5" stroke="#8fbaf0" stroke-width="0.6"/>
<line x1="553.27" y1="64.9" x2="555.87" y2="64.9" stroke="#8fbaf0" stroke-width="0.6"/>
<line x1="560.33" y1="58.5" x2="560.33" y2="66.9" stroke="#8fbaf0" stroke-width="0.6"/>
<line x1="559.03" y1="58.5" x2="561.63" y2="58.5" stroke="#8fbaf0" stroke-width="0.6"/>
<line x1="559.03" y1="66.9" x2="561.63" y2="66.9" stroke="#8fbaf0" stroke-width="0.6"/>
<line x1="566.1" y1="59.6" x2="566.1" y2="68" stroke="#8fbaf0" stroke-width="0.6"/>
<line x1="564.8" y1="59.6" x2="567.4" y2="59.6" stroke="#8fbaf0" stroke-width="0.6"/>
<line x1="564.8" y1="68" x2="567.4" y2="68" stroke="#8fbaf0" stroke-width="0.6"/>
<line x1="571.86" y1="59.6" x2="571.86" y2="68" stroke="#8fbaf0" stroke-width="0.6"/>
<line x1="570.56" y1="59.6" x2="573.16" y2="59.6" stroke="#8fbaf0" stroke-width="0.6"/>
<line x1="570.56" y1="68" x2="573.16" y2="68" stroke="#8fbaf0" stroke-width="0.6"/>
<line x1="577.62" y1="59.6" x2="577.62" y2="68" stroke="#8fbaf0" stroke-width="0.6"/>
<line x1="576.32" y1="59.6" x2="578.92" y2="59.6" stroke="#8fbaf0" stroke-width="0.6"/>
<line x1="576.32" y1="68" x2="578.92" y2="68" stroke="#8fbaf0" stroke-width="0.6"/>
<line x1="583.39" y1="62.6" x2="583.39" y2="71" stroke="#8fbaf0" stroke-width="0.6"/>
<line x1="582.09" y1="62.6" x2="584.69" y2="62.6" stroke="#8fbaf0" stroke-width="0.6"/>
<line x1="582.09" y1="71" x2="584.69" y2="71" stroke="#8fbaf0" stroke-width="0.6"/>
<line x1="589.15" y1="62.2" x2="589.15" y2="70.6" stroke="#f2a2ad" stroke-width="0.6"/>
<line x1="587.85" y1="62.2" x2="590.45" y2="62.2" stroke="#f2a2ad" stroke-width="0.6"/>
<line x1="587.85" y1="70.6" x2="590.45" y2="70.6" stroke="#f2a2ad" stroke-width="0.6"/>
<line x1="594.91" y1="59.6" x2="594.91" y2="68" stroke="#f2a2ad" stroke-width="0.6"/>
<line x1="593.61" y1="59.6" x2="596.21" y2="59.6" stroke="#f2a2ad" stroke-width="0.6"/>
<line x1="593.61" y1="68" x2="596.21" y2="68" stroke="#f2a2ad" stroke-width="0.6"/>
<line x1="600.67" y1="54.5" x2="600.67" y2="62.9" stroke="#f2a2ad" stroke-width="0.6"/>
<line x1="599.38" y1="54.5" x2="601.97" y2="54.5" stroke="#f2a2ad" stroke-width="0.6"/>
<line x1="599.38" y1="62.9" x2="601.97" y2="62.9" stroke="#f2a2ad" stroke-width="0.6"/>
<line x1="606.44" y1="54.5" x2="606.44" y2="62.9" stroke="#f2a2ad" stroke-width="0.6"/>
<line x1="605.14" y1="54.5" x2="607.74" y2="54.5" stroke="#f2a2ad" stroke-width="0.6"/>
<line x1="605.14" y1="62.9" x2="607.74" y2="62.9" stroke="#f2a2ad" stroke-width="0.6"/>
<line x1="612.2" y1="59.6" x2="612.2" y2="68" stroke="#f2a2ad" stroke-width="0.6"/>
<line x1="610.9" y1="59.6" x2="613.5" y2="59.6" stroke="#f2a2ad" stroke-width="0.6"/>
<line x1="610.9" y1="68" x2="613.5" y2="68" stroke="#f2a2ad" stroke-width="0.6"/>
<line x1="617.96" y1="58.8" x2="617.96" y2="67.2" stroke="#f2a2ad" stroke-width="0.6"/>
<line x1="616.66" y1="58.8" x2="619.26" y2="58.8" stroke="#f2a2ad" stroke-width="0.6"/>
<line x1="616.66" y1="67.2" x2="619.26" y2="67.2" stroke="#f2a2ad" stroke-width="0.6"/>
<line x1="623.73" y1="54.2" x2="623.73" y2="62.6" stroke="#f2a2ad" stroke-width="0.6"/>
<line x1="622.43" y1="54.2" x2="625.03" y2="54.2" stroke="#f2a2ad" stroke-width="0.6"/>
<line x1="622.43" y1="62.6" x2="625.03" y2="62.6" stroke="#f2a2ad" stroke-width="0.6"/>
<line x1="629.49" y1="55" x2="629.49" y2="63.4" stroke="#f2a2ad" stroke-width="0.6"/>
<line x1="628.19" y1="55" x2="630.79" y2="55" stroke="#f2a2ad" stroke-width="0.6"/>
<line x1="628.19" y1="63.4" x2="630.79" y2="63.4" stroke="#f2a2ad" stroke-width="0.6"/>
<line x1="635.25" y1="55.7" x2="635.25" y2="64.1" stroke="#f2a2ad" stroke-width="0.6"/>
<line x1="633.95" y1="55.7" x2="636.55" y2="55.7" stroke="#f2a2ad" stroke-width="0.6"/>
<line x1="633.95" y1="64.1" x2="636.55" y2="64.1" stroke="#f2a2ad" stroke-width="0.6"/>
<line x1="641.02" y1="59.9" x2="641.02" y2="68.3" stroke="#f2a2ad" stroke-width="0.6"/>
<line x1="639.72" y1="59.9" x2="642.32" y2="59.9" stroke="#f2a2ad" stroke-width="0.6"/>
<line x1="639.72" y1="68.3" x2="642.32" y2="68.3" stroke="#f2a2ad" stroke-width="0.6"/>
<circle cx="456.6" cy="61.6" r="1.85" fill="url(#mb)"/>
<circle cx="462.36" cy="63.6" r="1.85" fill="url(#mb)"/>
<circle cx="468.13" cy="63.6" r="1.85" fill="url(#mb)"/>
<circle cx="473.89" cy="61.6" r="1.85" fill="url(#mb)"/>
<circle cx="479.65" cy="61.9" r="1.85" fill="url(#mb)"/>
<circle cx="485.42" cy="62.9" r="1.85" fill="url(#mb)"/>
<circle cx="491.18" cy="64.8" r="1.85" fill="url(#mb)"/>
<circle cx="496.94" cy="65.1" r="1.85" fill="url(#mb)"/>
<circle cx="502.7" cy="68.6" r="1.85" fill="url(#mr)"/>
<circle cx="508.47" cy="64.1" r="1.85" fill="url(#mr)"/>
<circle cx="514.23" cy="63.6" r="1.85" fill="url(#mr)"/>
<circle cx="519.99" cy="62.6" r="1.85" fill="url(#mr)"/>
<circle cx="525.76" cy="63.1" r="1.85" fill="url(#mr)"/>
<circle cx="531.52" cy="63.4" r="1.85" fill="url(#mr)"/>
<circle cx="537.28" cy="61.2" r="1.85" fill="url(#mr)"/>
<circle cx="543.05" cy="59.4" r="1.85" fill="url(#mr)"/>
<circle cx="548.81" cy="60.5" r="1.85" fill="url(#mb)"/>
<circle cx="554.57" cy="60.7" r="1.85" fill="url(#mb)"/>
<circle cx="560.33" cy="62.7" r="1.85" fill="url(#mb)"/>
<circle cx="566.1" cy="63.8" r="1.85" fill="url(#mb)"/>
<circle cx="571.86" cy="63.8" r="1.85" fill="url(#mb)"/>
<circle cx="577.62" cy="63.8" r="1.85" fill="url(#mb)"/>
<circle cx="583.39" cy="66.8" r="1.85" fill="url(#mb)"/>
<circle cx="589.15" cy="66.4" r="1.85" fill="url(#mr)"/>
<circle cx="594.91" cy="63.8" r="1.85" fill="url(#mr)"/>
<circle cx="600.67" cy="58.7" r="1.85" fill="url(#mr)"/>
<circle cx="606.44" cy="58.7" r="1.85" fill="url(#mr)"/>
<circle cx="612.2" cy="63.8" r="1.85" fill="url(#mr)"/>
<circle cx="617.96" cy="63" r="1.85" fill="url(#mr)"/>
<circle cx="623.73" cy="58.4" r="1.85" fill="url(#mr)"/>
<circle cx="629.49" cy="59.2" r="1.85" fill="url(#mr)"/>
<circle cx="635.25" cy="59.9" r="1.85" fill="url(#mr)"/>
<circle cx="641.02" cy="64.1" r="1.85" fill="url(#mr)"/>
<line x1="456.6" y1="76" x2="456.6" y2="84.4" stroke="#8fbaf0" stroke-width="0.6"/>
<line x1="455.3" y1="76" x2="457.9" y2="76" stroke="#8fbaf0" stroke-width="0.6"/>
<line x1="455.3" y1="84.4" x2="457.9" y2="84.4" stroke="#8fbaf0" stroke-width="0.6"/>
<line x1="462.36" y1="80" x2="462.36" y2="88.4" stroke="#8fbaf0" stroke-width="0.6"/>
<line x1="461.06" y1="80" x2="463.66" y2="80" stroke="#8fbaf0" stroke-width="0.6"/>
<line x1="461.06" y1="88.4" x2="463.66" y2="88.4" stroke="#8fbaf0" stroke-width="0.6"/>
<line x1="468.13" y1="84.2" x2="468.13" y2="92.6" stroke="#8fbaf0" stroke-width="0.6"/>
<line x1="466.83" y1="84.2" x2="469.43" y2="84.2" stroke="#8fbaf0" stroke-width="0.6"/>
<line x1="466.83" y1="92.6" x2="469.43" y2="92.6" stroke="#8fbaf0" stroke-width="0.6"/>
<line x1="473.89" y1="84.2" x2="473.89" y2="92.6" stroke="#8fbaf0" stroke-width="0.6"/>
<line x1="472.59" y1="84.2" x2="475.19" y2="84.2" stroke="#8fbaf0" stroke-width="0.6"/>
<line x1="472.59" y1="92.6" x2="475.19" y2="92.6" stroke="#8fbaf0" stroke-width="0.6"/>
<line x1="479.65" y1="88" x2="479.65" y2="96.4" stroke="#8fbaf0" stroke-width="0.6"/>
<line x1="478.35" y1="88" x2="480.95" y2="88" stroke="#8fbaf0" stroke-width="0.6"/>
<line x1="478.35" y1="96.4" x2="480.95" y2="96.4" stroke="#8fbaf0" stroke-width="0.6"/>
<line x1="485.42" y1="88.1" x2="485.42" y2="96.5" stroke="#8fbaf0" stroke-width="0.6"/>
<line x1="484.12" y1="88.1" x2="486.72" y2="88.1" stroke="#8fbaf0" stroke-width="0.6"/>
<line x1="484.12" y1="96.5" x2="486.72" y2="96.5" stroke="#8fbaf0" stroke-width="0.6"/>
<line x1="491.18" y1="89.9" x2="491.18" y2="98.3" stroke="#8fbaf0" stroke-width="0.6"/>
<line x1="489.88" y1="89.9" x2="492.48" y2="89.9" stroke="#8fbaf0" stroke-width="0.6"/>
<line x1="489.88" y1="98.3" x2="492.48" y2="98.3" stroke="#8fbaf0" stroke-width="0.6"/>
<line x1="496.94" y1="92.5" x2="496.94" y2="100.9" stroke="#8fbaf0" stroke-width="0.6"/>
<line x1="495.64" y1="92.5" x2="498.24" y2="92.5" stroke="#8fbaf0" stroke-width="0.6"/>
<line x1="495.64" y1="100.9" x2="498.24" y2="100.9" stroke="#8fbaf0" stroke-width="0.6"/>
<line x1="502.7" y1="88.7" x2="502.7" y2="97.1" stroke="#f2a2ad" stroke-width="0.6"/>
<line x1="501.4" y1="88.7" x2="504" y2="88.7" stroke="#f2a2ad" stroke-width="0.6"/>
<line x1="501.4" y1="97.1" x2="504" y2="97.1" stroke="#f2a2ad" stroke-width="0.6"/>
<line x1="508.47" y1="90.9" x2="508.47" y2="99.3" stroke="#f2a2ad" stroke-width="0.6"/>
<line x1="507.17" y1="90.9" x2="509.77" y2="90.9" stroke="#f2a2ad" stroke-width="0.6"/>
<line x1="507.17" y1="99.3" x2="509.77" y2="99.3" stroke="#f2a2ad" stroke-width="0.6"/>
<line x1="514.23" y1="89.4" x2="514.23" y2="97.8" stroke="#f2a2ad" stroke-width="0.6"/>
<line x1="512.93" y1="89.4" x2="515.53" y2="89.4" stroke="#f2a2ad" stroke-width="0.6"/>
<line x1="512.93" y1="97.8" x2="515.53" y2="97.8" stroke="#f2a2ad" stroke-width="0.6"/>
<line x1="519.99" y1="90.6" x2="519.99" y2="99" stroke="#f2a2ad" stroke-width="0.6"/>
<line x1="518.69" y1="90.6" x2="521.29" y2="90.6" stroke="#f2a2ad" stroke-width="0.6"/>
<line x1="518.69" y1="99" x2="521.29" y2="99" stroke="#f2a2ad" stroke-width="0.6"/>
<line x1="525.76" y1="87.7" x2="525.76" y2="96.1" stroke="#f2a2ad" stroke-width="0.6"/>
<line x1="524.46" y1="87.7" x2="527.06" y2="87.7" stroke="#f2a2ad" stroke-width="0.6"/>
<line x1="524.46" y1="96.1" x2="527.06" y2="96.1" stroke="#f2a2ad" stroke-width="0.6"/>
<line x1="531.52" y1="85.2" x2="531.52" y2="93.6" stroke="#f2a2ad" stroke-width="0.6"/>
<line x1="530.22" y1="85.2" x2="532.82" y2="85.2" stroke="#f2a2ad" stroke-width="0.6"/>
<line x1="530.22" y1="93.6" x2="532.82" y2="93.6" stroke="#f2a2ad" stroke-width="0.6"/>
<line x1="537.28" y1="83.5" x2="537.28" y2="91.9" stroke="#f2a2ad" stroke-width="0.6"/>
<line x1="535.98" y1="83.5" x2="538.58" y2="83.5" stroke="#f2a2ad" stroke-width="0.6"/>
<line x1="535.98" y1="91.9" x2="538.58" y2="91.9" stroke="#f2a2ad" stroke-width="0.6"/>
<line x1="543.05" y1="81" x2="543.05" y2="89.4" stroke="#f2a2ad" stroke-width="0.6"/>
<line x1="541.75" y1="81" x2="544.35" y2="81" stroke="#f2a2ad" stroke-width="0.6"/>
<line x1="541.75" y1="89.4" x2="544.35" y2="89.4" stroke="#f2a2ad" stroke-width="0.6"/>
<line x1="548.81" y1="81.4" x2="548.81" y2="89.8" stroke="#8fbaf0" stroke-width="0.6"/>
<line x1="547.51" y1="81.4" x2="550.11" y2="81.4" stroke="#8fbaf0" stroke-width="0.6"/>
<line x1="547.51" y1="89.8" x2="550.11" y2="89.8" stroke="#8fbaf0" stroke-width="0.6"/>
<line x1="554.57" y1="83.1" x2="554.57" y2="91.5" stroke="#8fbaf0" stroke-width="0.6"/>
<line x1="553.27" y1="83.1" x2="555.87" y2="83.1" stroke="#8fbaf0" stroke-width="0.6"/>
<line x1="553.27" y1="91.5" x2="555.87" y2="91.5" stroke="#8fbaf0" stroke-width="0.6"/>
<line x1="560.33" y1="87.7" x2="560.33" y2="96.1" stroke="#8fbaf0" stroke-width="0.6"/>
<line x1="559.03" y1="87.7" x2="561.63" y2="87.7" stroke="#8fbaf0" stroke-width="0.6"/>
<line x1="559.03" y1="96.1" x2="561.63" y2="96.1" stroke="#8fbaf0" stroke-width="0.6"/>
<line x1="566.1" y1="88.2" x2="566.1" y2="96.6" stroke="#8fbaf0" stroke-width="0.6"/>
<line x1="564.8" y1="88.2" x2="567.4" y2="88.2" stroke="#8fbaf0" stroke-width="0.6"/>
<line x1="564.8" y1="96.6" x2="567.4" y2="96.6" stroke="#8fbaf0" stroke-width="0.6"/>
<line x1="571.86" y1="89.1" x2="571.86" y2="97.5" stroke="#8fbaf0" stroke-width="0.6"/>
<line x1="570.56" y1="89.1" x2="573.16" y2="89.1" stroke="#8fbaf0" stroke-width="0.6"/>
<line x1="570.56" y1="97.5" x2="573.16" y2="97.5" stroke="#8fbaf0" stroke-width="0.6"/>
<line x1="577.62" y1="90.3" x2="577.62" y2="98.7" stroke="#8fbaf0" stroke-width="0.6"/>
<line x1="576.32" y1="90.3" x2="578.92" y2="90.3" stroke="#8fbaf0" stroke-width="0.6"/>
<line x1="576.32" y1="98.7" x2="578.92" y2="98.7" stroke="#8fbaf0" stroke-width="0.6"/>
<line x1="583.39" y1="92.9" x2="583.39" y2="101.3" stroke="#8fbaf0" stroke-width="0.6"/>
<line x1="582.09" y1="92.9" x2="584.69" y2="92.9" stroke="#8fbaf0" stroke-width="0.6"/>
<line x1="582.09" y1="101.3" x2="584.69" y2="101.3" stroke="#8fbaf0" stroke-width="0.6"/>
<line x1="589.15" y1="92.9" x2="589.15" y2="101.3" stroke="#f2a2ad" stroke-width="0.6"/>
<line x1="587.85" y1="92.9" x2="590.45" y2="92.9" stroke="#f2a2ad" stroke-width="0.6"/>
<line x1="587.85" y1="101.3" x2="590.45" y2="101.3" stroke="#f2a2ad" stroke-width="0.6"/>
<line x1="594.91" y1="92.6" x2="594.91" y2="101" stroke="#f2a2ad" stroke-width="0.6"/>
<line x1="593.61" y1="92.6" x2="596.21" y2="92.6" stroke="#f2a2ad" stroke-width="0.6"/>
<line x1="593.61" y1="101" x2="596.21" y2="101" stroke="#f2a2ad" stroke-width="0.6"/>
<line x1="600.67" y1="92.3" x2="600.67" y2="100.7" stroke="#f2a2ad" stroke-width="0.6"/>
<line x1="599.38" y1="92.3" x2="601.97" y2="92.3" stroke="#f2a2ad" stroke-width="0.6"/>
<line x1="599.38" y1="100.7" x2="601.97" y2="100.7" stroke="#f2a2ad" stroke-width="0.6"/>
<line x1="606.44" y1="91.6" x2="606.44" y2="100" stroke="#f2a2ad" stroke-width="0.6"/>
<line x1="605.14" y1="91.6" x2="607.74" y2="91.6" stroke="#f2a2ad" stroke-width="0.6"/>
<line x1="605.14" y1="100" x2="607.74" y2="100" stroke="#f2a2ad" stroke-width="0.6"/>
<line x1="612.2" y1="90.3" x2="612.2" y2="98.7" stroke="#f2a2ad" stroke-width="0.6"/>
<line x1="610.9" y1="90.3" x2="613.5" y2="90.3" stroke="#f2a2ad" stroke-width="0.6"/>
<line x1="610.9" y1="98.7" x2="613.5" y2="98.7" stroke="#f2a2ad" stroke-width="0.6"/>
<line x1="617.96" y1="90.3" x2="617.96" y2="98.7" stroke="#f2a2ad" stroke-width="0.6"/>
<line x1="616.66" y1="90.3" x2="619.26" y2="90.3" stroke="#f2a2ad" stroke-width="0.6"/>
<line x1="616.66" y1="98.7" x2="619.26" y2="98.7" stroke="#f2a2ad" stroke-width="0.6"/>
<line x1="623.73" y1="90.6" x2="623.73" y2="99" stroke="#f2a2ad" stroke-width="0.6"/>
<line x1="622.43" y1="90.6" x2="625.03" y2="90.6" stroke="#f2a2ad" stroke-width="0.6"/>
<line x1="622.43" y1="99" x2="625.03" y2="99" stroke="#f2a2ad" stroke-width="0.6"/>
<line x1="629.49" y1="89.1" x2="629.49" y2="97.5" stroke="#f2a2ad" stroke-width="0.6"/>
<line x1="628.19" y1="89.1" x2="630.79" y2="89.1" stroke="#f2a2ad" stroke-width="0.6"/>
<line x1="628.19" y1="97.5" x2="630.79" y2="97.5" stroke="#f2a2ad" stroke-width="0.6"/>
<line x1="635.25" y1="83.4" x2="635.25" y2="91.8" stroke="#f2a2ad" stroke-width="0.6"/>
<line x1="633.95" y1="83.4" x2="636.55" y2="83.4" stroke="#f2a2ad" stroke-width="0.6"/>
<line x1="633.95" y1="91.8" x2="636.55" y2="91.8" stroke="#f2a2ad" stroke-width="0.6"/>
<line x1="641.02" y1="82.7" x2="641.02" y2="91.1" stroke="#f2a2ad" stroke-width="0.6"/>
<line x1="639.72" y1="82.7" x2="642.32" y2="82.7" stroke="#f2a2ad" stroke-width="0.6"/>
<line x1="639.72" y1="91.1" x2="642.32" y2="91.1" stroke="#f2a2ad" stroke-width="0.6"/>
<circle cx="456.6" cy="80.2" r="1.85" fill="url(#mb)"/>
<circle cx="462.36" cy="84.2" r="1.85" fill="url(#mb)"/>
<circle cx="468.13" cy="88.4" r="1.85" fill="url(#mb)"/>
<circle cx="473.89" cy="88.4" r="1.85" fill="url(#mb)"/>
<circle cx="479.65" cy="92.2" r="1.85" fill="url(#mb)"/>
<circle cx="485.42" cy="92.3" r="1.85" fill="url(#mb)"/>
<circle cx="491.18" cy="94.1" r="1.85" fill="url(#mb)"/>
<circle cx="496.94" cy="96.7" r="1.85" fill="url(#mb)"/>
<circle cx="502.7" cy="92.9" r="1.85" fill="url(#mr)"/>
<circle cx="508.47" cy="95.1" r="1.85" fill="url(#mr)"/>
<circle cx="514.23" cy="93.6" r="1.85" fill="url(#mr)"/>
<circle cx="519.99" cy="94.8" r="1.85" fill="url(#mr)"/>
<circle cx="525.76" cy="91.9" r="1.85" fill="url(#mr)"/>
<circle cx="531.52" cy="89.4" r="1.85" fill="url(#mr)"/>
<circle cx="537.28" cy="87.7" r="1.85" fill="url(#mr)"/>
<circle cx="543.05" cy="85.2" r="1.85" fill="url(#mr)"/>
<circle cx="548.81" cy="85.6" r="1.85" fill="url(#mb)"/>
<circle cx="554.57" cy="87.3" r="1.85" fill="url(#mb)"/>
<circle cx="560.33" cy="91.9" r="1.85" fill="url(#mb)"/>
<circle cx="566.1" cy="92.4" r="1.85" fill="url(#mb)"/>
<circle cx="571.86" cy="93.3" r="1.85" fill="url(#mb)"/>
<circle cx="577.62" cy="94.5" r="1.85" fill="url(#mb)"/>
<circle cx="583.39" cy="97.1" r="1.85" fill="url(#mb)"/>
<circle cx="589.15" cy="97.1" r="1.85" fill="url(#mr)"/>
<circle cx="594.91" cy="96.8" r="1.85" fill="url(#mr)"/>
<circle cx="600.67" cy="96.5" r="1.85" fill="url(#mr)"/>
<circle cx="606.44" cy="95.8" r="1.85" fill="url(#mr)"/>
<circle cx="612.2" cy="94.5" r="1.85" fill="url(#mr)"/>
<circle cx="617.96" cy="94.5" r="1.85" fill="url(#mr)"/>
<circle cx="623.73" cy="94.8" r="1.85" fill="url(#mr)"/>
<circle cx="629.49" cy="93.3" r="1.85" fill="url(#mr)"/>
<circle cx="635.25" cy="87.6" r="1.85" fill="url(#mr)"/>
<circle cx="641.02" cy="86.9" r="1.85" fill="url(#mr)"/>
<path d="M456.3 132.6 C457.68 131.3 462 127.32 464.6 124.8 C467.2 122.28 469.47 119.32 471.9 117.5 C474.33 115.68 476.52 115.23 479.2 113.9 C481.88 112.57 485.13 111.08 488 109.5 C490.87 107.92 495 105.25 496.4 104.4" fill="none" stroke="#3a86e6" stroke-width="0.9" stroke-linejoin="round" stroke-linecap="round"/>
<path d="M496.4 104.4 C496.82 105.37 498.12 108.5 498.9 110.2 C499.68 111.9 499.52 112.65 501.1 114.6 C502.68 116.55 505.97 119.83 508.4 121.9 C510.83 123.97 512.78 125.53 515.7 127 C518.62 128.47 522.25 129.73 525.9 130.7 C529.55 131.67 534.55 132.32 537.6 132.8 C540.65 133.28 543.1 133.47 544.2 133.6" fill="none" stroke="#e2475c" stroke-width="0.9" stroke-linejoin="round" stroke-linecap="round"/>
<path d="M544.2 133.6 C545.5 132.25 549.35 128.42 552 125.5 C554.65 122.58 556.77 118.6 560.1 116.1 C563.43 113.6 567.77 112.45 572 110.5 C576.23 108.55 583.25 105.42 585.5 104.4" fill="none" stroke="#3a86e6" stroke-width="0.9" stroke-linejoin="round" stroke-linecap="round"/>
<path d="M585.5 104.4 C586.2 105.72 587.95 109.9 589.7 112.3 C591.45 114.7 593.7 116.85 596 118.8 C598.3 120.75 600.5 122.47 603.5 124 C606.5 125.53 610.47 126.95 614 128 C617.53 129.05 620.98 129.45 624.7 130.3 C628.42 131.15 634.37 132.63 636.3 133.1" fill="none" stroke="#e2475c" stroke-width="0.9" stroke-linejoin="round" stroke-linecap="round"/>
</g>
<text x="468.6" y="132.6" font-size="10.3" text-anchor="start" fill="#2f7fe6" stroke="#2f7fe6" stroke-width="0.16" transform="rotate(-32 468.6 132.6)">charge</text>
<text x="505.2" y="112.2" font-size="10.3" text-anchor="start" fill="#e2475c" stroke="#e2475c" stroke-width="0.16" transform="rotate(28 505.2 112.2)">discharge</text>
<text x="558.4" y="132" font-size="10.3" text-anchor="start" fill="#2f7fe6" stroke="#2f7fe6" stroke-width="0.16" transform="rotate(-32 558.4 132)">charge</text>
<text x="601.1" y="112.2" font-size="10.3" text-anchor="start" fill="#e2475c" stroke="#e2475c" stroke-width="0.16" transform="rotate(28 601.1 112.2)">discharge</text>
<text x="452.8" y="45.6" font-size="9.3" text-anchor="end" fill="#000" stroke="#000" stroke-width="0.16">0.04</text>
<line x1="454.2" y1="42.3" x2="456.2" y2="42.3" stroke="#222" stroke-width="0.8"/>
<text x="452.8" y="56.7" font-size="9.3" text-anchor="end" fill="#000" stroke="#000" stroke-width="0.16">0.02</text>
<line x1="454.2" y1="53.4" x2="456.2" y2="53.4" stroke="#222" stroke-width="0.8"/>
<text x="452.8" y="67.8" font-size="9.3" text-anchor="end" fill="#000" stroke="#000" stroke-width="0.16">0.00</text>
<line x1="454.2" y1="64.5" x2="456.2" y2="64.5" stroke="#222" stroke-width="0.8"/>
<text x="453.3" y="107.7" font-size="9.3" text-anchor="end" fill="#000" stroke="#000" stroke-width="0.16">3</text>
<line x1="454.2" y1="104.4" x2="456.2" y2="104.4" stroke="#222" stroke-width="0.8"/>
<text x="453.3" y="117.9" font-size="9.3" text-anchor="end" fill="#000" stroke="#000" stroke-width="0.16">2</text>
<line x1="454.2" y1="114.6" x2="456.2" y2="114.6" stroke="#222" stroke-width="0.8"/>
<text x="453.3" y="128.1" font-size="9.3" text-anchor="end" fill="#000" stroke="#000" stroke-width="0.16">1</text>
<line x1="454.2" y1="124.8" x2="456.2" y2="124.8" stroke="#222" stroke-width="0.8"/>
<text x="453.3" y="138.3" font-size="9.3" text-anchor="end" fill="#000" stroke="#000" stroke-width="0.16">0</text>
<line x1="454.2" y1="135" x2="456.2" y2="135" stroke="#222" stroke-width="0.8"/>
<text x="648.6" y="23.3" font-size="9.3" text-anchor="start" fill="#000" stroke="#000" stroke-width="0.16">0.11</text>
<line x1="645.8" y1="20" x2="647.8" y2="20" stroke="#222" stroke-width="0.8"/>
<text x="648.6" y="39.3" font-size="9.3" text-anchor="start" fill="#000" stroke="#000" stroke-width="0.16">0.00</text>
<line x1="645.8" y1="36" x2="647.8" y2="36" stroke="#222" stroke-width="0.8"/>
<line x1="645.8" y1="28" x2="647" y2="28" stroke="#222" stroke-width="0.7"/>
<text x="648.6" y="84.3" font-size="9.3" text-anchor="start" fill="#000" stroke="#000" stroke-width="0.16">0.1</text>
<line x1="645.8" y1="81" x2="647.8" y2="81" stroke="#222" stroke-width="0.8"/>
<text x="648.6" y="99.7" font-size="9.3" text-anchor="start" fill="#000" stroke="#000" stroke-width="0.16">0.0</text>
<line x1="645.8" y1="96.4" x2="647.8" y2="96.4" stroke="#222" stroke-width="0.8"/>
<line x1="645.8" y1="88.7" x2="647" y2="88.7" stroke="#222" stroke-width="0.7"/>
<text x="456.2" y="145.8" font-size="9.3" text-anchor="middle" fill="#000" stroke="#000" stroke-width="0.16">0</text>
<text x="492.54" y="145.8" font-size="9.3" text-anchor="middle" fill="#000" stroke="#000" stroke-width="0.16">100</text>
<text x="528.88" y="145.8" font-size="9.3" text-anchor="middle" fill="#000" stroke="#000" stroke-width="0.16">200</text>
<text x="565.22" y="145.8" font-size="9.3" text-anchor="middle" fill="#000" stroke="#000" stroke-width="0.16">300</text>
<text x="601.56" y="145.8" font-size="9.3" text-anchor="middle" fill="#000" stroke="#000" stroke-width="0.16">400</text>
<text x="637.9" y="145.8" font-size="9.3" text-anchor="middle" fill="#000" stroke="#000" stroke-width="0.16">500</text>
<text x="554.5" y="163" font-size="12" text-anchor="middle" fill="#000" stroke="#000" stroke-width="0.16">Time (min)</text>
<text x="425.1" y="56.4" font-size="11.3" text-anchor="middle" class="k" transform="rotate(-90 425.1 56.4)" dy="0.35em"><tspan font-style="italic">Δa/a</tspan> (%)</text>
<text x="425.9" y="117.3" font-size="11" text-anchor="middle" class="k" transform="rotate(-90 425.9 117.3)" dy="0.35em">Voltage (V)</text>
<text x="678.2" y="23.5" font-size="11.5" text-anchor="middle" class="k" transform="rotate(-90 678.2 23.5)" dy="0.35em"><tspan font-style="italic">ΔV/V</tspan> (%)</text>
<text x="679" y="81.8" font-size="11.5" text-anchor="middle" class="k" transform="rotate(-90 679 81.8)" dy="0.35em"><tspan font-style="italic">Δc/c</tspan> (%)</text>
<text x="420.8" y="166" font-size="13.5" text-anchor="start" fill="#000" stroke="#000" stroke-width="0.16">d</text>
<rect x="457.8" y="165.4" width="187.2" height="124" fill="none" stroke="#333" stroke-width="1"/>
<line x1="457.8" y1="196.5" x2="645" y2="196.5" stroke="#333" stroke-width="1"/>
<line x1="457.8" y1="227.5" x2="645" y2="227.5" stroke="#333" stroke-width="1"/>
<line x1="457.8" y1="258.9" x2="645" y2="258.9" stroke="#333" stroke-width="1"/>
<line x1="457.8" y1="196.5" x2="457.8" y2="198" stroke="#333" stroke-width="0.7"/>
<line x1="457.8" y1="227.5" x2="457.8" y2="229" stroke="#333" stroke-width="0.7"/>
<line x1="457.8" y1="258.9" x2="457.8" y2="260.4" stroke="#333" stroke-width="0.7"/>
<line x1="457.8" y1="289.4" x2="457.8" y2="290.9" stroke="#333" stroke-width="0.7"/>
<line x1="470.76" y1="196.5" x2="470.76" y2="197.55" stroke="#333" stroke-width="0.7"/>
<line x1="470.76" y1="227.5" x2="470.76" y2="228.55" stroke="#333" stroke-width="0.7"/>
<line x1="470.76" y1="258.9" x2="470.76" y2="259.95" stroke="#333" stroke-width="0.7"/>
<line x1="470.76" y1="289.4" x2="470.76" y2="290.45" stroke="#333" stroke-width="0.7"/>
<line x1="483.73" y1="196.5" x2="483.73" y2="198" stroke="#333" stroke-width="0.7"/>
<line x1="483.73" y1="227.5" x2="483.73" y2="229" stroke="#333" stroke-width="0.7"/>
<line x1="483.73" y1="258.9" x2="483.73" y2="260.4" stroke="#333" stroke-width="0.7"/>
<line x1="483.73" y1="289.4" x2="483.73" y2="290.9" stroke="#333" stroke-width="0.7"/>
<line x1="496.69" y1="196.5" x2="496.69" y2="197.55" stroke="#333" stroke-width="0.7"/>
<line x1="496.69" y1="227.5" x2="496.69" y2="228.55" stroke="#333" stroke-width="0.7"/>
<line x1="496.69" y1="258.9" x2="496.69" y2="259.95" stroke="#333" stroke-width="0.7"/>
<line x1="496.69" y1="289.4" x2="496.69" y2="290.45" stroke="#333" stroke-width="0.7"/>
<line x1="509.65" y1="196.5" x2="509.65" y2="198" stroke="#333" stroke-width="0.7"/>
<line x1="509.65" y1="227.5" x2="509.65" y2="229" stroke="#333" stroke-width="0.7"/>
<line x1="509.65" y1="258.9" x2="509.65" y2="260.4" stroke="#333" stroke-width="0.7"/>
<line x1="509.65" y1="289.4" x2="509.65" y2="290.9" stroke="#333" stroke-width="0.7"/>
<line x1="522.61" y1="196.5" x2="522.61" y2="197.55" stroke="#333" stroke-width="0.7"/>
<line x1="522.61" y1="227.5" x2="522.61" y2="228.55" stroke="#333" stroke-width="0.7"/>
<line x1="522.61" y1="258.9" x2="522.61" y2="259.95" stroke="#333" stroke-width="0.7"/>
<line x1="522.61" y1="289.4" x2="522.61" y2="290.45" stroke="#333" stroke-width="0.7"/>
<line x1="535.58" y1="196.5" x2="535.58" y2="198" stroke="#333" stroke-width="0.7"/>
<line x1="535.58" y1="227.5" x2="535.58" y2="229" stroke="#333" stroke-width="0.7"/>
<line x1="535.58" y1="258.9" x2="535.58" y2="260.4" stroke="#333" stroke-width="0.7"/>
<line x1="535.58" y1="289.4" x2="535.58" y2="290.9" stroke="#333" stroke-width="0.7"/>
<line x1="548.54" y1="196.5" x2="548.54" y2="197.55" stroke="#333" stroke-width="0.7"/>
<line x1="548.54" y1="227.5" x2="548.54" y2="228.55" stroke="#333" stroke-width="0.7"/>
<line x1="548.54" y1="258.9" x2="548.54" y2="259.95" stroke="#333" stroke-width="0.7"/>
<line x1="548.54" y1="289.4" x2="548.54" y2="290.45" stroke="#333" stroke-width="0.7"/>
<line x1="561.5" y1="196.5" x2="561.5" y2="198" stroke="#333" stroke-width="0.7"/>
<line x1="561.5" y1="227.5" x2="561.5" y2="229" stroke="#333" stroke-width="0.7"/>
<line x1="561.5" y1="258.9" x2="561.5" y2="260.4" stroke="#333" stroke-width="0.7"/>
<line x1="561.5" y1="289.4" x2="561.5" y2="290.9" stroke="#333" stroke-width="0.7"/>
<line x1="574.46" y1="196.5" x2="574.46" y2="197.55" stroke="#333" stroke-width="0.7"/>
<line x1="574.46" y1="227.5" x2="574.46" y2="228.55" stroke="#333" stroke-width="0.7"/>
<line x1="574.46" y1="258.9" x2="574.46" y2="259.95" stroke="#333" stroke-width="0.7"/>
<line x1="574.46" y1="289.4" x2="574.46" y2="290.45" stroke="#333" stroke-width="0.7"/>
<line x1="587.42" y1="196.5" x2="587.42" y2="198" stroke="#333" stroke-width="0.7"/>
<line x1="587.42" y1="227.5" x2="587.42" y2="229" stroke="#333" stroke-width="0.7"/>
<line x1="587.42" y1="258.9" x2="587.42" y2="260.4" stroke="#333" stroke-width="0.7"/>
<line x1="587.42" y1="289.4" x2="587.42" y2="290.9" stroke="#333" stroke-width="0.7"/>
<line x1="600.39" y1="196.5" x2="600.39" y2="197.55" stroke="#333" stroke-width="0.7"/>
<line x1="600.39" y1="227.5" x2="600.39" y2="228.55" stroke="#333" stroke-width="0.7"/>
<line x1="600.39" y1="258.9" x2="600.39" y2="259.95" stroke="#333" stroke-width="0.7"/>
<line x1="600.39" y1="289.4" x2="600.39" y2="290.45" stroke="#333" stroke-width="0.7"/>
<line x1="613.35" y1="196.5" x2="613.35" y2="198" stroke="#333" stroke-width="0.7"/>
<line x1="613.35" y1="227.5" x2="613.35" y2="229" stroke="#333" stroke-width="0.7"/>
<line x1="613.35" y1="258.9" x2="613.35" y2="260.4" stroke="#333" stroke-width="0.7"/>
<line x1="613.35" y1="289.4" x2="613.35" y2="290.9" stroke="#333" stroke-width="0.7"/>
<line x1="626.31" y1="196.5" x2="626.31" y2="197.55" stroke="#333" stroke-width="0.7"/>
<line x1="626.31" y1="227.5" x2="626.31" y2="228.55" stroke="#333" stroke-width="0.7"/>
<line x1="626.31" y1="258.9" x2="626.31" y2="259.95" stroke="#333" stroke-width="0.7"/>
<line x1="626.31" y1="289.4" x2="626.31" y2="290.45" stroke="#333" stroke-width="0.7"/>
<line x1="639.27" y1="196.5" x2="639.27" y2="198" stroke="#333" stroke-width="0.7"/>
<line x1="639.27" y1="227.5" x2="639.27" y2="229" stroke="#333" stroke-width="0.7"/>
<line x1="639.27" y1="258.9" x2="639.27" y2="260.4" stroke="#333" stroke-width="0.7"/>
<line x1="639.27" y1="289.4" x2="639.27" y2="290.9" stroke="#333" stroke-width="0.7"/>
<g clip-path="url(#clipd)">
<line x1="458.2" y1="169.2" x2="458.2" y2="177.2" stroke="#8fbaf0" stroke-width="0.5"/>
<line x1="457.1" y1="169.2" x2="459.3" y2="169.2" stroke="#8fbaf0" stroke-width="0.5"/>
<line x1="457.1" y1="177.2" x2="459.3" y2="177.2" stroke="#8fbaf0" stroke-width="0.5"/>
<line x1="461.83" y1="170.7" x2="461.83" y2="178.7" stroke="#8fbaf0" stroke-width="0.5"/>
<line x1="460.73" y1="170.7" x2="462.94" y2="170.7" stroke="#8fbaf0" stroke-width="0.5"/>
<line x1="460.73" y1="178.7" x2="462.94" y2="178.7" stroke="#8fbaf0" stroke-width="0.5"/>
<line x1="465.47" y1="170.4" x2="465.47" y2="178.4" stroke="#8fbaf0" stroke-width="0.5"/>
<line x1="464.37" y1="170.4" x2="466.57" y2="170.4" stroke="#8fbaf0" stroke-width="0.5"/>
<line x1="464.37" y1="178.4" x2="466.57" y2="178.4" stroke="#8fbaf0" stroke-width="0.5"/>
<line x1="469.1" y1="172.4" x2="469.1" y2="180.4" stroke="#8fbaf0" stroke-width="0.5"/>
<line x1="468" y1="172.4" x2="470.2" y2="172.4" stroke="#8fbaf0" stroke-width="0.5"/>
<line x1="468" y1="180.4" x2="470.2" y2="180.4" stroke="#8fbaf0" stroke-width="0.5"/>
<line x1="472.74" y1="172.9" x2="472.74" y2="180.9" stroke="#8fbaf0" stroke-width="0.5"/>
<line x1="471.64" y1="172.9" x2="473.84" y2="172.9" stroke="#8fbaf0" stroke-width="0.5"/>
<line x1="471.64" y1="180.9" x2="473.84" y2="180.9" stroke="#8fbaf0" stroke-width="0.5"/>
<line x1="476.38" y1="172.1" x2="476.38" y2="180.1" stroke="#8fbaf0" stroke-width="0.5"/>
<line x1="475.27" y1="172.1" x2="477.48" y2="172.1" stroke="#8fbaf0" stroke-width="0.5"/>
<line x1="475.27" y1="180.1" x2="477.48" y2="180.1" stroke="#8fbaf0" stroke-width="0.5"/>
<line x1="480.01" y1="173.9" x2="480.01" y2="181.9" stroke="#8fbaf0" stroke-width="0.5"/>
<line x1="478.91" y1="173.9" x2="481.11" y2="173.9" stroke="#8fbaf0" stroke-width="0.5"/>
<line x1="478.91" y1="181.9" x2="481.11" y2="181.9" stroke="#8fbaf0" stroke-width="0.5"/>
<line x1="483.64" y1="173.6" x2="483.64" y2="181.6" stroke="#8fbaf0" stroke-width="0.5"/>
<line x1="482.54" y1="173.6" x2="484.75" y2="173.6" stroke="#8fbaf0" stroke-width="0.5"/>
<line x1="482.54" y1="181.6" x2="484.75" y2="181.6" stroke="#8fbaf0" stroke-width="0.5"/>
<line x1="487.28" y1="175.4" x2="487.28" y2="183.4" stroke="#8fbaf0" stroke-width="0.5"/>
<line x1="486.18" y1="175.4" x2="488.38" y2="175.4" stroke="#8fbaf0" stroke-width="0.5"/>
<line x1="486.18" y1="183.4" x2="488.38" y2="183.4" stroke="#8fbaf0" stroke-width="0.5"/>
<line x1="490.91" y1="178" x2="490.91" y2="186" stroke="#8fbaf0" stroke-width="0.5"/>
<line x1="489.81" y1="178" x2="492.01" y2="178" stroke="#8fbaf0" stroke-width="0.5"/>
<line x1="489.81" y1="186" x2="492.01" y2="186" stroke="#8fbaf0" stroke-width="0.5"/>
<line x1="494.55" y1="179.9" x2="494.55" y2="187.9" stroke="#8fbaf0" stroke-width="0.5"/>
<line x1="493.45" y1="179.9" x2="495.65" y2="179.9" stroke="#8fbaf0" stroke-width="0.5"/>
<line x1="493.45" y1="187.9" x2="495.65" y2="187.9" stroke="#8fbaf0" stroke-width="0.5"/>
<line x1="498.19" y1="179.4" x2="498.19" y2="187.4" stroke="#8fbaf0" stroke-width="0.5"/>
<line x1="497.08" y1="179.4" x2="499.29" y2="179.4" stroke="#8fbaf0" stroke-width="0.5"/>
<line x1="497.08" y1="187.4" x2="499.29" y2="187.4" stroke="#8fbaf0" stroke-width="0.5"/>
<line x1="501.82" y1="180.5" x2="501.82" y2="188.5" stroke="#8fbaf0" stroke-width="0.5"/>
<line x1="500.72" y1="180.5" x2="502.92" y2="180.5" stroke="#8fbaf0" stroke-width="0.5"/>
<line x1="500.72" y1="188.5" x2="502.92" y2="188.5" stroke="#8fbaf0" stroke-width="0.5"/>
<line x1="505.45" y1="181.3" x2="505.45" y2="189.3" stroke="#8fbaf0" stroke-width="0.5"/>
<line x1="504.35" y1="181.3" x2="506.56" y2="181.3" stroke="#8fbaf0" stroke-width="0.5"/>
<line x1="504.35" y1="189.3" x2="506.56" y2="189.3" stroke="#8fbaf0" stroke-width="0.5"/>
<line x1="509.09" y1="179.9" x2="509.09" y2="187.9" stroke="#8fbaf0" stroke-width="0.5"/>
<line x1="507.99" y1="179.9" x2="510.19" y2="179.9" stroke="#8fbaf0" stroke-width="0.5"/>
<line x1="507.99" y1="187.9" x2="510.19" y2="187.9" stroke="#8fbaf0" stroke-width="0.5"/>
<line x1="512.73" y1="181.6" x2="512.73" y2="189.6" stroke="#8fbaf0" stroke-width="0.5"/>
<line x1="511.62" y1="181.6" x2="513.83" y2="181.6" stroke="#8fbaf0" stroke-width="0.5"/>
<line x1="511.62" y1="189.6" x2="513.83" y2="189.6" stroke="#8fbaf0" stroke-width="0.5"/>
<line x1="516.36" y1="182.1" x2="516.36" y2="190.1" stroke="#8fbaf0" stroke-width="0.5"/>
<line x1="515.26" y1="182.1" x2="517.46" y2="182.1" stroke="#8fbaf0" stroke-width="0.5"/>
<line x1="515.26" y1="190.1" x2="517.46" y2="190.1" stroke="#8fbaf0" stroke-width="0.5"/>
<line x1="520" y1="181.6" x2="520" y2="189.6" stroke="#8fbaf0" stroke-width="0.5"/>
<line x1="518.89" y1="181.6" x2="521.1" y2="181.6" stroke="#8fbaf0" stroke-width="0.5"/>
<line x1="518.89" y1="189.6" x2="521.1" y2="189.6" stroke="#8fbaf0" stroke-width="0.5"/>
<line x1="523.63" y1="182.1" x2="523.63" y2="190.1" stroke="#8fbaf0" stroke-width="0.5"/>
<line x1="522.53" y1="182.1" x2="524.73" y2="182.1" stroke="#8fbaf0" stroke-width="0.5"/>
<line x1="522.53" y1="190.1" x2="524.73" y2="190.1" stroke="#8fbaf0" stroke-width="0.5"/>
<line x1="527.26" y1="182.6" x2="527.26" y2="190.6" stroke="#8fbaf0" stroke-width="0.5"/>
<line x1="526.16" y1="182.6" x2="528.37" y2="182.6" stroke="#8fbaf0" stroke-width="0.5"/>
<line x1="526.16" y1="190.6" x2="528.37" y2="190.6" stroke="#8fbaf0" stroke-width="0.5"/>
<line x1="530.9" y1="182.6" x2="530.9" y2="190.6" stroke="#8fbaf0" stroke-width="0.5"/>
<line x1="529.8" y1="182.6" x2="532" y2="182.6" stroke="#8fbaf0" stroke-width="0.5"/>
<line x1="529.8" y1="190.6" x2="532" y2="190.6" stroke="#8fbaf0" stroke-width="0.5"/>
<line x1="534.53" y1="182.8" x2="534.53" y2="190.8" stroke="#8fbaf0" stroke-width="0.5"/>
<line x1="533.43" y1="182.8" x2="535.63" y2="182.8" stroke="#8fbaf0" stroke-width="0.5"/>
<line x1="533.43" y1="190.8" x2="535.63" y2="190.8" stroke="#8fbaf0" stroke-width="0.5"/>
<line x1="538.17" y1="183.5" x2="538.17" y2="191.5" stroke="#8fbaf0" stroke-width="0.5"/>
<line x1="537.07" y1="183.5" x2="539.27" y2="183.5" stroke="#8fbaf0" stroke-width="0.5"/>
<line x1="537.07" y1="191.5" x2="539.27" y2="191.5" stroke="#8fbaf0" stroke-width="0.5"/>
<line x1="541.8" y1="182.4" x2="541.8" y2="190.4" stroke="#f2a2ad" stroke-width="0.5"/>
<line x1="540.7" y1="182.4" x2="542.9" y2="182.4" stroke="#f2a2ad" stroke-width="0.5"/>
<line x1="540.7" y1="190.4" x2="542.9" y2="190.4" stroke="#f2a2ad" stroke-width="0.5"/>
<line x1="545.44" y1="182.4" x2="545.44" y2="190.4" stroke="#f2a2ad" stroke-width="0.5"/>
<line x1="544.34" y1="182.4" x2="546.54" y2="182.4" stroke="#f2a2ad" stroke-width="0.5"/>
<line x1="544.34" y1="190.4" x2="546.54" y2="190.4" stroke="#f2a2ad" stroke-width="0.5"/>
<line x1="549.08" y1="182.6" x2="549.08" y2="190.6" stroke="#f2a2ad" stroke-width="0.5"/>
<line x1="547.98" y1="182.6" x2="550.18" y2="182.6" stroke="#f2a2ad" stroke-width="0.5"/>
<line x1="547.98" y1="190.6" x2="550.18" y2="190.6" stroke="#f2a2ad" stroke-width="0.5"/>
<line x1="552.71" y1="183.1" x2="552.71" y2="191.1" stroke="#f2a2ad" stroke-width="0.5"/>
<line x1="551.61" y1="183.1" x2="553.81" y2="183.1" stroke="#f2a2ad" stroke-width="0.5"/>
<line x1="551.61" y1="191.1" x2="553.81" y2="191.1" stroke="#f2a2ad" stroke-width="0.5"/>
<line x1="556.35" y1="182.4" x2="556.35" y2="190.4" stroke="#f2a2ad" stroke-width="0.5"/>
<line x1="555.25" y1="182.4" x2="557.45" y2="182.4" stroke="#f2a2ad" stroke-width="0.5"/>
<line x1="555.25" y1="190.4" x2="557.45" y2="190.4" stroke="#f2a2ad" stroke-width="0.5"/>
<line x1="559.98" y1="181.6" x2="559.98" y2="189.6" stroke="#f2a2ad" stroke-width="0.5"/>
<line x1="558.88" y1="181.6" x2="561.08" y2="181.6" stroke="#f2a2ad" stroke-width="0.5"/>
<line x1="558.88" y1="189.6" x2="561.08" y2="189.6" stroke="#f2a2ad" stroke-width="0.5"/>
<line x1="563.62" y1="182.4" x2="563.62" y2="190.4" stroke="#f2a2ad" stroke-width="0.5"/>
<line x1="562.51" y1="182.4" x2="564.72" y2="182.4" stroke="#f2a2ad" stroke-width="0.5"/>
<line x1="562.51" y1="190.4" x2="564.72" y2="190.4" stroke="#f2a2ad" stroke-width="0.5"/>
<line x1="567.25" y1="182.1" x2="567.25" y2="190.1" stroke="#f2a2ad" stroke-width="0.5"/>
<line x1="566.15" y1="182.1" x2="568.35" y2="182.1" stroke="#f2a2ad" stroke-width="0.5"/>
<line x1="566.15" y1="190.1" x2="568.35" y2="190.1" stroke="#f2a2ad" stroke-width="0.5"/>
<line x1="570.88" y1="181.6" x2="570.88" y2="189.6" stroke="#f2a2ad" stroke-width="0.5"/>
<line x1="569.78" y1="181.6" x2="571.99" y2="181.6" stroke="#f2a2ad" stroke-width="0.5"/>
<line x1="569.78" y1="189.6" x2="571.99" y2="189.6" stroke="#f2a2ad" stroke-width="0.5"/>
<line x1="574.52" y1="181.2" x2="574.52" y2="189.2" stroke="#f2a2ad" stroke-width="0.5"/>
<line x1="573.42" y1="181.2" x2="575.62" y2="181.2" stroke="#f2a2ad" stroke-width="0.5"/>
<line x1="573.42" y1="189.2" x2="575.62" y2="189.2" stroke="#f2a2ad" stroke-width="0.5"/>
<line x1="578.15" y1="181.6" x2="578.15" y2="189.6" stroke="#f2a2ad" stroke-width="0.5"/>
<line x1="577.05" y1="181.6" x2="579.25" y2="181.6" stroke="#f2a2ad" stroke-width="0.5"/>
<line x1="577.05" y1="189.6" x2="579.25" y2="189.6" stroke="#f2a2ad" stroke-width="0.5"/>
<line x1="581.79" y1="181.2" x2="581.79" y2="189.2" stroke="#f2a2ad" stroke-width="0.5"/>
<line x1="580.69" y1="181.2" x2="582.89" y2="181.2" stroke="#f2a2ad" stroke-width="0.5"/>
<line x1="580.69" y1="189.2" x2="582.89" y2="189.2" stroke="#f2a2ad" stroke-width="0.5"/>
<line x1="585.42" y1="180.9" x2="585.42" y2="188.9" stroke="#f2a2ad" stroke-width="0.5"/>
<line x1="584.32" y1="180.9" x2="586.52" y2="180.9" stroke="#f2a2ad" stroke-width="0.5"/>
<line x1="584.32" y1="188.9" x2="586.52" y2="188.9" stroke="#f2a2ad" stroke-width="0.5"/>
<line x1="589.06" y1="181.2" x2="589.06" y2="189.2" stroke="#f2a2ad" stroke-width="0.5"/>
<line x1="587.96" y1="181.2" x2="590.16" y2="181.2" stroke="#f2a2ad" stroke-width="0.5"/>
<line x1="587.96" y1="189.2" x2="590.16" y2="189.2" stroke="#f2a2ad" stroke-width="0.5"/>
<line x1="592.69" y1="181.6" x2="592.69" y2="189.6" stroke="#f2a2ad" stroke-width="0.5"/>
<line x1="591.59" y1="181.6" x2="593.79" y2="181.6" stroke="#f2a2ad" stroke-width="0.5"/>
<line x1="591.59" y1="189.6" x2="593.79" y2="189.6" stroke="#f2a2ad" stroke-width="0.5"/>
<line x1="596.33" y1="180.2" x2="596.33" y2="188.2" stroke="#f2a2ad" stroke-width="0.5"/>
<line x1="595.23" y1="180.2" x2="597.43" y2="180.2" stroke="#f2a2ad" stroke-width="0.5"/>
<line x1="595.23" y1="188.2" x2="597.43" y2="188.2" stroke="#f2a2ad" stroke-width="0.5"/>
<line x1="599.96" y1="180.2" x2="599.96" y2="188.2" stroke="#f2a2ad" stroke-width="0.5"/>
<line x1="598.86" y1="180.2" x2="601.06" y2="180.2" stroke="#f2a2ad" stroke-width="0.5"/>
<line x1="598.86" y1="188.2" x2="601.06" y2="188.2" stroke="#f2a2ad" stroke-width="0.5"/>
<line x1="603.6" y1="179.4" x2="603.6" y2="187.4" stroke="#f2a2ad" stroke-width="0.5"/>
<line x1="602.5" y1="179.4" x2="604.7" y2="179.4" stroke="#f2a2ad" stroke-width="0.5"/>
<line x1="602.5" y1="187.4" x2="604.7" y2="187.4" stroke="#f2a2ad" stroke-width="0.5"/>
<line x1="607.24" y1="179.4" x2="607.24" y2="187.4" stroke="#f2a2ad" stroke-width="0.5"/>
<line x1="606.13" y1="179.4" x2="608.34" y2="179.4" stroke="#f2a2ad" stroke-width="0.5"/>
<line x1="606.13" y1="187.4" x2="608.34" y2="187.4" stroke="#f2a2ad" stroke-width="0.5"/>
<line x1="610.87" y1="178" x2="610.87" y2="186" stroke="#f2a2ad" stroke-width="0.5"/>
<line x1="609.77" y1="178" x2="611.97" y2="178" stroke="#f2a2ad" stroke-width="0.5"/>
<line x1="609.77" y1="186" x2="611.97" y2="186" stroke="#f2a2ad" stroke-width="0.5"/>
<line x1="614.5" y1="178.3" x2="614.5" y2="186.3" stroke="#f2a2ad" stroke-width="0.5"/>
<line x1="613.4" y1="178.3" x2="615.61" y2="178.3" stroke="#f2a2ad" stroke-width="0.5"/>
<line x1="613.4" y1="186.3" x2="615.61" y2="186.3" stroke="#f2a2ad" stroke-width="0.5"/>
<line x1="618.14" y1="177.7" x2="618.14" y2="185.7" stroke="#f2a2ad" stroke-width="0.5"/>
<line x1="617.04" y1="177.7" x2="619.24" y2="177.7" stroke="#f2a2ad" stroke-width="0.5"/>
<line x1="617.04" y1="185.7" x2="619.24" y2="185.7" stroke="#f2a2ad" stroke-width="0.5"/>
<line x1="621.77" y1="178" x2="621.77" y2="186" stroke="#f2a2ad" stroke-width="0.5"/>
<line x1="620.67" y1="178" x2="622.88" y2="178" stroke="#f2a2ad" stroke-width="0.5"/>
<line x1="620.67" y1="186" x2="622.88" y2="186" stroke="#f2a2ad" stroke-width="0.5"/>
<line x1="625.41" y1="177.2" x2="625.41" y2="185.2" stroke="#f2a2ad" stroke-width="0.5"/>
<line x1="624.31" y1="177.2" x2="626.51" y2="177.2" stroke="#f2a2ad" stroke-width="0.5"/>
<line x1="624.31" y1="185.2" x2="626.51" y2="185.2" stroke="#f2a2ad" stroke-width="0.5"/>
<line x1="629.04" y1="176.2" x2="629.04" y2="184.2" stroke="#f2a2ad" stroke-width="0.5"/>
<line x1="627.94" y1="176.2" x2="630.14" y2="176.2" stroke="#f2a2ad" stroke-width="0.5"/>
<line x1="627.94" y1="184.2" x2="630.14" y2="184.2" stroke="#f2a2ad" stroke-width="0.5"/>
<line x1="632.68" y1="176.8" x2="632.68" y2="184.8" stroke="#f2a2ad" stroke-width="0.5"/>
<line x1="631.58" y1="176.8" x2="633.78" y2="176.8" stroke="#f2a2ad" stroke-width="0.5"/>
<line x1="631.58" y1="184.8" x2="633.78" y2="184.8" stroke="#f2a2ad" stroke-width="0.5"/>
<line x1="636.31" y1="176.2" x2="636.31" y2="184.2" stroke="#f2a2ad" stroke-width="0.5"/>
<line x1="635.21" y1="176.2" x2="637.41" y2="176.2" stroke="#f2a2ad" stroke-width="0.5"/>
<line x1="635.21" y1="184.2" x2="637.41" y2="184.2" stroke="#f2a2ad" stroke-width="0.5"/>
<line x1="639.95" y1="175.8" x2="639.95" y2="183.8" stroke="#f2a2ad" stroke-width="0.5"/>
<line x1="638.85" y1="175.8" x2="641.05" y2="175.8" stroke="#f2a2ad" stroke-width="0.5"/>
<line x1="638.85" y1="183.8" x2="641.05" y2="183.8" stroke="#f2a2ad" stroke-width="0.5"/>
<circle cx="458.2" cy="173.2" r="1.55" fill="url(#mb)"/>
<circle cx="461.83" cy="174.7" r="1.55" fill="url(#mb)"/>
<circle cx="465.47" cy="174.4" r="1.55" fill="url(#mb)"/>
<circle cx="469.1" cy="176.4" r="1.55" fill="url(#mb)"/>
<circle cx="472.74" cy="176.9" r="1.55" fill="url(#mb)"/>
<circle cx="476.38" cy="176.1" r="1.55" fill="url(#mb)"/>
<circle cx="480.01" cy="177.9" r="1.55" fill="url(#mb)"/>
<circle cx="483.64" cy="177.6" r="1.55" fill="url(#mb)"/>
<circle cx="487.28" cy="179.4" r="1.55" fill="url(#mb)"/>
<circle cx="490.91" cy="182" r="1.55" fill="url(#mb)"/>
<circle cx="494.55" cy="183.9" r="1.55" fill="url(#mb)"/>
<circle cx="498.19" cy="183.4" r="1.55" fill="url(#mb)"/>
<circle cx="501.82" cy="184.5" r="1.55" fill="url(#mb)"/>
<circle cx="505.45" cy="185.3" r="1.55" fill="url(#mb)"/>
<circle cx="509.09" cy="183.9" r="1.55" fill="url(#mb)"/>
<circle cx="512.73" cy="185.6" r="1.55" fill="url(#mb)"/>
<circle cx="516.36" cy="186.1" r="1.55" fill="url(#mb)"/>
<circle cx="520" cy="185.6" r="1.55" fill="url(#mb)"/>
<circle cx="523.63" cy="186.1" r="1.55" fill="url(#mb)"/>
<circle cx="527.26" cy="186.6" r="1.55" fill="url(#mb)"/>
<circle cx="530.9" cy="186.6" r="1.55" fill="url(#mb)"/>
<circle cx="534.53" cy="186.8" r="1.55" fill="url(#mb)"/>
<circle cx="538.17" cy="187.5" r="1.55" fill="url(#mb)"/>
<circle cx="541.8" cy="186.4" r="1.55" fill="url(#mr)"/>
<circle cx="545.44" cy="186.4" r="1.55" fill="url(#mr)"/>
<circle cx="549.08" cy="186.6" r="1.55" fill="url(#mr)"/>
<circle cx="552.71" cy="187.1" r="1.55" fill="url(#mr)"/>
<circle cx="556.35" cy="186.4" r="1.55" fill="url(#mr)"/>
<circle cx="559.98" cy="185.6" r="1.55" fill="url(#mr)"/>
<circle cx="563.62" cy="186.4" r="1.55" fill="url(#mr)"/>
<circle cx="567.25" cy="186.1" r="1.55" fill="url(#mr)"/>
<circle cx="570.88" cy="185.6" r="1.55" fill="url(#mr)"/>
<circle cx="574.52" cy="185.2" r="1.55" fill="url(#mr)"/>
<circle cx="578.15" cy="185.6" r="1.55" fill="url(#mr)"/>
<circle cx="581.79" cy="185.2" r="1.55" fill="url(#mr)"/>
<circle cx="585.42" cy="184.9" r="1.55" fill="url(#mr)"/>
<circle cx="589.06" cy="185.2" r="1.55" fill="url(#mr)"/>
<circle cx="592.69" cy="185.6" r="1.55" fill="url(#mr)"/>
<circle cx="596.33" cy="184.2" r="1.55" fill="url(#mr)"/>
<circle cx="599.96" cy="184.2" r="1.55" fill="url(#mr)"/>
<circle cx="603.6" cy="183.4" r="1.55" fill="url(#mr)"/>
<circle cx="607.24" cy="183.4" r="1.55" fill="url(#mr)"/>
<circle cx="610.87" cy="182" r="1.55" fill="url(#mr)"/>
<circle cx="614.5" cy="182.3" r="1.55" fill="url(#mr)"/>
<circle cx="618.14" cy="181.7" r="1.55" fill="url(#mr)"/>
<circle cx="621.77" cy="182" r="1.55" fill="url(#mr)"/>
<circle cx="625.41" cy="181.2" r="1.55" fill="url(#mr)"/>
<circle cx="629.04" cy="180.2" r="1.55" fill="url(#mr)"/>
<circle cx="632.68" cy="180.8" r="1.55" fill="url(#mr)"/>
<circle cx="636.31" cy="180.2" r="1.55" fill="url(#mr)"/>
<circle cx="639.95" cy="179.8" r="1.55" fill="url(#mr)"/>
<line x1="458.2" y1="200.2" x2="458.2" y2="208.2" stroke="#8fbaf0" stroke-width="0.5"/>
<line x1="457.1" y1="200.2" x2="459.3" y2="200.2" stroke="#8fbaf0" stroke-width="0.5"/>
<line x1="457.1" y1="208.2" x2="459.3" y2="208.2" stroke="#8fbaf0" stroke-width="0.5"/>
<line x1="461.83" y1="202.8" x2="461.83" y2="210.8" stroke="#8fbaf0" stroke-width="0.5"/>
<line x1="460.73" y1="202.8" x2="462.94" y2="202.8" stroke="#8fbaf0" stroke-width="0.5"/>
<line x1="460.73" y1="210.8" x2="462.94" y2="210.8" stroke="#8fbaf0" stroke-width="0.5"/>
<line x1="465.47" y1="202.3" x2="465.47" y2="210.3" stroke="#8fbaf0" stroke-width="0.5"/>
<line x1="464.37" y1="202.3" x2="466.57" y2="202.3" stroke="#8fbaf0" stroke-width="0.5"/>
<line x1="464.37" y1="210.3" x2="466.57" y2="210.3" stroke="#8fbaf0" stroke-width="0.5"/>
<line x1="469.1" y1="204.9" x2="469.1" y2="212.9" stroke="#8fbaf0" stroke-width="0.5"/>
<line x1="468" y1="204.9" x2="470.2" y2="204.9" stroke="#8fbaf0" stroke-width="0.5"/>
<line x1="468" y1="212.9" x2="470.2" y2="212.9" stroke="#8fbaf0" stroke-width="0.5"/>
<line x1="472.74" y1="205.8" x2="472.74" y2="213.8" stroke="#8fbaf0" stroke-width="0.5"/>
<line x1="471.64" y1="205.8" x2="473.84" y2="205.8" stroke="#8fbaf0" stroke-width="0.5"/>
<line x1="471.64" y1="213.8" x2="473.84" y2="213.8" stroke="#8fbaf0" stroke-width="0.5"/>
<line x1="476.38" y1="204.6" x2="476.38" y2="212.6" stroke="#8fbaf0" stroke-width="0.5"/>
<line x1="475.27" y1="204.6" x2="477.48" y2="204.6" stroke="#8fbaf0" stroke-width="0.5"/>
<line x1="475.27" y1="212.6" x2="477.48" y2="212.6" stroke="#8fbaf0" stroke-width="0.5"/>
<line x1="480.01" y1="207.2" x2="480.01" y2="215.2" stroke="#8fbaf0" stroke-width="0.5"/>
<line x1="478.91" y1="207.2" x2="481.11" y2="207.2" stroke="#8fbaf0" stroke-width="0.5"/>
<line x1="478.91" y1="215.2" x2="481.11" y2="215.2" stroke="#8fbaf0" stroke-width="0.5"/>
<line x1="483.64" y1="205.8" x2="483.64" y2="213.8" stroke="#8fbaf0" stroke-width="0.5"/>
<line x1="482.54" y1="205.8" x2="484.75" y2="205.8" stroke="#8fbaf0" stroke-width="0.5"/>
<line x1="482.54" y1="213.8" x2="484.75" y2="213.8" stroke="#8fbaf0" stroke-width="0.5"/>
<line x1="487.28" y1="208.2" x2="487.28" y2="216.2" stroke="#8fbaf0" stroke-width="0.5"/>
<line x1="486.18" y1="208.2" x2="488.38" y2="208.2" stroke="#8fbaf0" stroke-width="0.5"/>
<line x1="486.18" y1="216.2" x2="488.38" y2="216.2" stroke="#8fbaf0" stroke-width="0.5"/>
<line x1="490.91" y1="209.7" x2="490.91" y2="217.7" stroke="#8fbaf0" stroke-width="0.5"/>
<line x1="489.81" y1="209.7" x2="492.01" y2="209.7" stroke="#8fbaf0" stroke-width="0.5"/>
<line x1="489.81" y1="217.7" x2="492.01" y2="217.7" stroke="#8fbaf0" stroke-width="0.5"/>
<line x1="494.55" y1="211.2" x2="494.55" y2="219.2" stroke="#8fbaf0" stroke-width="0.5"/>
<line x1="493.45" y1="211.2" x2="495.65" y2="211.2" stroke="#8fbaf0" stroke-width="0.5"/>
<line x1="493.45" y1="219.2" x2="495.65" y2="219.2" stroke="#8fbaf0" stroke-width="0.5"/>
<line x1="498.19" y1="210.7" x2="498.19" y2="218.7" stroke="#8fbaf0" stroke-width="0.5"/>
<line x1="497.08" y1="210.7" x2="499.29" y2="210.7" stroke="#8fbaf0" stroke-width="0.5"/>
<line x1="497.08" y1="218.7" x2="499.29" y2="218.7" stroke="#8fbaf0" stroke-width="0.5"/>
<line x1="501.82" y1="211.5" x2="501.82" y2="219.5" stroke="#8fbaf0" stroke-width="0.5"/>
<line x1="500.72" y1="211.5" x2="502.92" y2="211.5" stroke="#8fbaf0" stroke-width="0.5"/>
<line x1="500.72" y1="219.5" x2="502.92" y2="219.5" stroke="#8fbaf0" stroke-width="0.5"/>
<line x1="505.45" y1="212.2" x2="505.45" y2="220.2" stroke="#8fbaf0" stroke-width="0.5"/>
<line x1="504.35" y1="212.2" x2="506.56" y2="212.2" stroke="#8fbaf0" stroke-width="0.5"/>
<line x1="504.35" y1="220.2" x2="506.56" y2="220.2" stroke="#8fbaf0" stroke-width="0.5"/>
<line x1="509.09" y1="211.2" x2="509.09" y2="219.2" stroke="#8fbaf0" stroke-width="0.5"/>
<line x1="507.99" y1="211.2" x2="510.19" y2="211.2" stroke="#8fbaf0" stroke-width="0.5"/>
<line x1="507.99" y1="219.2" x2="510.19" y2="219.2" stroke="#8fbaf0" stroke-width="0.5"/>
<line x1="512.73" y1="212.6" x2="512.73" y2="220.6" stroke="#8fbaf0" stroke-width="0.5"/>
<line x1="511.62" y1="212.6" x2="513.83" y2="212.6" stroke="#8fbaf0" stroke-width="0.5"/>
<line x1="511.62" y1="220.6" x2="513.83" y2="220.6" stroke="#8fbaf0" stroke-width="0.5"/>
<line x1="516.36" y1="212.9" x2="516.36" y2="220.9" stroke="#8fbaf0" stroke-width="0.5"/>
<line x1="515.26" y1="212.9" x2="517.46" y2="212.9" stroke="#8fbaf0" stroke-width="0.5"/>
<line x1="515.26" y1="220.9" x2="517.46" y2="220.9" stroke="#8fbaf0" stroke-width="0.5"/>
<line x1="520" y1="212.2" x2="520" y2="220.2" stroke="#8fbaf0" stroke-width="0.5"/>
<line x1="518.89" y1="212.2" x2="521.1" y2="212.2" stroke="#8fbaf0" stroke-width="0.5"/>
<line x1="518.89" y1="220.2" x2="521.1" y2="220.2" stroke="#8fbaf0" stroke-width="0.5"/>
<line x1="523.63" y1="213.4" x2="523.63" y2="221.4" stroke="#8fbaf0" stroke-width="0.5"/>
<line x1="522.53" y1="213.4" x2="524.73" y2="213.4" stroke="#8fbaf0" stroke-width="0.5"/>
<line x1="522.53" y1="221.4" x2="524.73" y2="221.4" stroke="#8fbaf0" stroke-width="0.5"/>
<line x1="527.26" y1="214.5" x2="527.26" y2="222.5" stroke="#8fbaf0" stroke-width="0.5"/>
<line x1="526.16" y1="214.5" x2="528.37" y2="214.5" stroke="#8fbaf0" stroke-width="0.5"/>
<line x1="526.16" y1="222.5" x2="528.37" y2="222.5" stroke="#8fbaf0" stroke-width="0.5"/>
<line x1="530.9" y1="213.4" x2="530.9" y2="221.4" stroke="#8fbaf0" stroke-width="0.5"/>
<line x1="529.8" y1="213.4" x2="532" y2="213.4" stroke="#8fbaf0" stroke-width="0.5"/>
<line x1="529.8" y1="221.4" x2="532" y2="221.4" stroke="#8fbaf0" stroke-width="0.5"/>
<line x1="534.53" y1="214.5" x2="534.53" y2="222.5" stroke="#8fbaf0" stroke-width="0.5"/>
<line x1="533.43" y1="214.5" x2="535.63" y2="214.5" stroke="#8fbaf0" stroke-width="0.5"/>
<line x1="533.43" y1="222.5" x2="535.63" y2="222.5" stroke="#8fbaf0" stroke-width="0.5"/>
<line x1="538.17" y1="215.5" x2="538.17" y2="223.5" stroke="#8fbaf0" stroke-width="0.5"/>
<line x1="537.07" y1="215.5" x2="539.27" y2="215.5" stroke="#8fbaf0" stroke-width="0.5"/>
<line x1="537.07" y1="223.5" x2="539.27" y2="223.5" stroke="#8fbaf0" stroke-width="0.5"/>
<line x1="541.8" y1="213.4" x2="541.8" y2="221.4" stroke="#f2a2ad" stroke-width="0.5"/>
<line x1="540.7" y1="213.4" x2="542.9" y2="213.4" stroke="#f2a2ad" stroke-width="0.5"/>
<line x1="540.7" y1="221.4" x2="542.9" y2="221.4" stroke="#f2a2ad" stroke-width="0.5"/>
<line x1="545.44" y1="213.1" x2="545.44" y2="221.1" stroke="#f2a2ad" stroke-width="0.5"/>
<line x1="544.34" y1="213.1" x2="546.54" y2="213.1" stroke="#f2a2ad" stroke-width="0.5"/>
<line x1="544.34" y1="221.1" x2="546.54" y2="221.1" stroke="#f2a2ad" stroke-width="0.5"/>
<line x1="549.08" y1="213.8" x2="549.08" y2="221.8" stroke="#f2a2ad" stroke-width="0.5"/>
<line x1="547.98" y1="213.8" x2="550.18" y2="213.8" stroke="#f2a2ad" stroke-width="0.5"/>
<line x1="547.98" y1="221.8" x2="550.18" y2="221.8" stroke="#f2a2ad" stroke-width="0.5"/>
<line x1="552.71" y1="214.1" x2="552.71" y2="222.1" stroke="#f2a2ad" stroke-width="0.5"/>
<line x1="551.61" y1="214.1" x2="553.81" y2="214.1" stroke="#f2a2ad" stroke-width="0.5"/>
<line x1="551.61" y1="222.1" x2="553.81" y2="222.1" stroke="#f2a2ad" stroke-width="0.5"/>
<line x1="556.35" y1="213.4" x2="556.35" y2="221.4" stroke="#f2a2ad" stroke-width="0.5"/>
<line x1="555.25" y1="213.4" x2="557.45" y2="213.4" stroke="#f2a2ad" stroke-width="0.5"/>
<line x1="555.25" y1="221.4" x2="557.45" y2="221.4" stroke="#f2a2ad" stroke-width="0.5"/>
<line x1="559.98" y1="212.6" x2="559.98" y2="220.6" stroke="#f2a2ad" stroke-width="0.5"/>
<line x1="558.88" y1="212.6" x2="561.08" y2="212.6" stroke="#f2a2ad" stroke-width="0.5"/>
<line x1="558.88" y1="220.6" x2="561.08" y2="220.6" stroke="#f2a2ad" stroke-width="0.5"/>
<line x1="563.62" y1="213.4" x2="563.62" y2="221.4" stroke="#f2a2ad" stroke-width="0.5"/>
<line x1="562.51" y1="213.4" x2="564.72" y2="213.4" stroke="#f2a2ad" stroke-width="0.5"/>
<line x1="562.51" y1="221.4" x2="564.72" y2="221.4" stroke="#f2a2ad" stroke-width="0.5"/>
<line x1="567.25" y1="213.1" x2="567.25" y2="221.1" stroke="#f2a2ad" stroke-width="0.5"/>
<line x1="566.15" y1="213.1" x2="568.35" y2="213.1" stroke="#f2a2ad" stroke-width="0.5"/>
<line x1="566.15" y1="221.1" x2="568.35" y2="221.1" stroke="#f2a2ad" stroke-width="0.5"/>
<line x1="570.88" y1="212.2" x2="570.88" y2="220.2" stroke="#f2a2ad" stroke-width="0.5"/>
<line x1="569.78" y1="212.2" x2="571.99" y2="212.2" stroke="#f2a2ad" stroke-width="0.5"/>
<line x1="569.78" y1="220.2" x2="571.99" y2="220.2" stroke="#f2a2ad" stroke-width="0.5"/>
<line x1="574.52" y1="212.2" x2="574.52" y2="220.2" stroke="#f2a2ad" stroke-width="0.5"/>
<line x1="573.42" y1="212.2" x2="575.62" y2="212.2" stroke="#f2a2ad" stroke-width="0.5"/>
<line x1="573.42" y1="220.2" x2="575.62" y2="220.2" stroke="#f2a2ad" stroke-width="0.5"/>
<line x1="578.15" y1="212.6" x2="578.15" y2="220.6" stroke="#f2a2ad" stroke-width="0.5"/>
<line x1="577.05" y1="212.6" x2="579.25" y2="212.6" stroke="#f2a2ad" stroke-width="0.5"/>
<line x1="577.05" y1="220.6" x2="579.25" y2="220.6" stroke="#f2a2ad" stroke-width="0.5"/>
<line x1="581.79" y1="212.2" x2="581.79" y2="220.2" stroke="#f2a2ad" stroke-width="0.5"/>
<line x1="580.69" y1="212.2" x2="582.89" y2="212.2" stroke="#f2a2ad" stroke-width="0.5"/>
<line x1="580.69" y1="220.2" x2="582.89" y2="220.2" stroke="#f2a2ad" stroke-width="0.5"/>
<line x1="585.42" y1="211.9" x2="585.42" y2="219.9" stroke="#f2a2ad" stroke-width="0.5"/>
<line x1="584.32" y1="211.9" x2="586.52" y2="211.9" stroke="#f2a2ad" stroke-width="0.5"/>
<line x1="584.32" y1="219.9" x2="586.52" y2="219.9" stroke="#f2a2ad" stroke-width="0.5"/>
<line x1="589.06" y1="212.2" x2="589.06" y2="220.2" stroke="#f2a2ad" stroke-width="0.5"/>
<line x1="587.96" y1="212.2" x2="590.16" y2="212.2" stroke="#f2a2ad" stroke-width="0.5"/>
<line x1="587.96" y1="220.2" x2="590.16" y2="220.2" stroke="#f2a2ad" stroke-width="0.5"/>
<line x1="592.69" y1="212.2" x2="592.69" y2="220.2" stroke="#f2a2ad" stroke-width="0.5"/>
<line x1="591.59" y1="212.2" x2="593.79" y2="212.2" stroke="#f2a2ad" stroke-width="0.5"/>
<line x1="591.59" y1="220.2" x2="593.79" y2="220.2" stroke="#f2a2ad" stroke-width="0.5"/>
<line x1="596.33" y1="211.2" x2="596.33" y2="219.2" stroke="#f2a2ad" stroke-width="0.5"/>
<line x1="595.23" y1="211.2" x2="597.43" y2="211.2" stroke="#f2a2ad" stroke-width="0.5"/>
<line x1="595.23" y1="219.2" x2="597.43" y2="219.2" stroke="#f2a2ad" stroke-width="0.5"/>
<line x1="599.96" y1="210.4" x2="599.96" y2="218.4" stroke="#f2a2ad" stroke-width="0.5"/>
<line x1="598.86" y1="210.4" x2="601.06" y2="210.4" stroke="#f2a2ad" stroke-width="0.5"/>
<line x1="598.86" y1="218.4" x2="601.06" y2="218.4" stroke="#f2a2ad" stroke-width="0.5"/>
<line x1="603.6" y1="210.1" x2="603.6" y2="218.1" stroke="#f2a2ad" stroke-width="0.5"/>
<line x1="602.5" y1="210.1" x2="604.7" y2="210.1" stroke="#f2a2ad" stroke-width="0.5"/>
<line x1="602.5" y1="218.1" x2="604.7" y2="218.1" stroke="#f2a2ad" stroke-width="0.5"/>
<line x1="607.24" y1="210.1" x2="607.24" y2="218.1" stroke="#f2a2ad" stroke-width="0.5"/>
<line x1="606.13" y1="210.1" x2="608.34" y2="210.1" stroke="#f2a2ad" stroke-width="0.5"/>
<line x1="606.13" y1="218.1" x2="608.34" y2="218.1" stroke="#f2a2ad" stroke-width="0.5"/>
<line x1="610.87" y1="207.8" x2="610.87" y2="215.8" stroke="#f2a2ad" stroke-width="0.5"/>
<line x1="609.77" y1="207.8" x2="611.97" y2="207.8" stroke="#f2a2ad" stroke-width="0.5"/>
<line x1="609.77" y1="215.8" x2="611.97" y2="215.8" stroke="#f2a2ad" stroke-width="0.5"/>
<line x1="614.5" y1="208.7" x2="614.5" y2="216.7" stroke="#f2a2ad" stroke-width="0.5"/>
<line x1="613.4" y1="208.7" x2="615.61" y2="208.7" stroke="#f2a2ad" stroke-width="0.5"/>
<line x1="613.4" y1="216.7" x2="615.61" y2="216.7" stroke="#f2a2ad" stroke-width="0.5"/>
<line x1="618.14" y1="208.2" x2="618.14" y2="216.2" stroke="#f2a2ad" stroke-width="0.5"/>
<line x1="617.04" y1="208.2" x2="619.24" y2="208.2" stroke="#f2a2ad" stroke-width="0.5"/>
<line x1="617.04" y1="216.2" x2="619.24" y2="216.2" stroke="#f2a2ad" stroke-width="0.5"/>
<line x1="621.77" y1="209" x2="621.77" y2="217" stroke="#f2a2ad" stroke-width="0.5"/>
<line x1="620.67" y1="209" x2="622.88" y2="209" stroke="#f2a2ad" stroke-width="0.5"/>
<line x1="620.67" y1="217" x2="622.88" y2="217" stroke="#f2a2ad" stroke-width="0.5"/>
<line x1="625.41" y1="208.2" x2="625.41" y2="216.2" stroke="#f2a2ad" stroke-width="0.5"/>
<line x1="624.31" y1="208.2" x2="626.51" y2="208.2" stroke="#f2a2ad" stroke-width="0.5"/>
<line x1="624.31" y1="216.2" x2="626.51" y2="216.2" stroke="#f2a2ad" stroke-width="0.5"/>
<line x1="629.04" y1="206.8" x2="629.04" y2="214.8" stroke="#f2a2ad" stroke-width="0.5"/>
<line x1="627.94" y1="206.8" x2="630.14" y2="206.8" stroke="#f2a2ad" stroke-width="0.5"/>
<line x1="627.94" y1="214.8" x2="630.14" y2="214.8" stroke="#f2a2ad" stroke-width="0.5"/>
<line x1="632.68" y1="207.8" x2="632.68" y2="215.8" stroke="#f2a2ad" stroke-width="0.5"/>
<line x1="631.58" y1="207.8" x2="633.78" y2="207.8" stroke="#f2a2ad" stroke-width="0.5"/>
<line x1="631.58" y1="215.8" x2="633.78" y2="215.8" stroke="#f2a2ad" stroke-width="0.5"/>
<line x1="636.31" y1="207.1" x2="636.31" y2="215.1" stroke="#f2a2ad" stroke-width="0.5"/>
<line x1="635.21" y1="207.1" x2="637.41" y2="207.1" stroke="#f2a2ad" stroke-width="0.5"/>
<line x1="635.21" y1="215.1" x2="637.41" y2="215.1" stroke="#f2a2ad" stroke-width="0.5"/>
<line x1="639.95" y1="206.8" x2="639.95" y2="214.8" stroke="#f2a2ad" stroke-width="0.5"/>
<line x1="638.85" y1="206.8" x2="641.05" y2="206.8" stroke="#f2a2ad" stroke-width="0.5"/>
<line x1="638.85" y1="214.8" x2="641.05" y2="214.8" stroke="#f2a2ad" stroke-width="0.5"/>
<circle cx="458.2" cy="204.2" r="1.55" fill="url(#mb)"/>
<circle cx="461.83" cy="206.8" r="1.55" fill="url(#mb)"/>
<circle cx="465.47" cy="206.3" r="1.55" fill="url(#mb)"/>
<circle cx="469.1" cy="208.9" r="1.55" fill="url(#mb)"/>
<circle cx="472.74" cy="209.8" r="1.55" fill="url(#mb)"/>
<circle cx="476.38" cy="208.6" r="1.55" fill="url(#mb)"/>
<circle cx="480.01" cy="211.2" r="1.55" fill="url(#mb)"/>
<circle cx="483.64" cy="209.8" r="1.55" fill="url(#mb)"/>
<circle cx="487.28" cy="212.2" r="1.55" fill="url(#mb)"/>
<circle cx="490.91" cy="213.7" r="1.55" fill="url(#mb)"/>
<circle cx="494.55" cy="215.2" r="1.55" fill="url(#mb)"/>
<circle cx="498.19" cy="214.7" r="1.55" fill="url(#mb)"/>
<circle cx="501.82" cy="215.5" r="1.55" fill="url(#mb)"/>
<circle cx="505.45" cy="216.2" r="1.55" fill="url(#mb)"/>
<circle cx="509.09" cy="215.2" r="1.55" fill="url(#mb)"/>
<circle cx="512.73" cy="216.6" r="1.55" fill="url(#mb)"/>
<circle cx="516.36" cy="216.9" r="1.55" fill="url(#mb)"/>
<circle cx="520" cy="216.2" r="1.55" fill="url(#mb)"/>
<circle cx="523.63" cy="217.4" r="1.55" fill="url(#mb)"/>
<circle cx="527.26" cy="218.5" r="1.55" fill="url(#mb)"/>
<circle cx="530.9" cy="217.4" r="1.55" fill="url(#mb)"/>
<circle cx="534.53" cy="218.5" r="1.55" fill="url(#mb)"/>
<circle cx="538.17" cy="219.5" r="1.55" fill="url(#mb)"/>
<circle cx="541.8" cy="217.4" r="1.55" fill="url(#mr)"/>
<circle cx="545.44" cy="217.1" r="1.55" fill="url(#mr)"/>
<circle cx="549.08" cy="217.8" r="1.55" fill="url(#mr)"/>
<circle cx="552.71" cy="218.1" r="1.55" fill="url(#mr)"/>
<circle cx="556.35" cy="217.4" r="1.55" fill="url(#mr)"/>
<circle cx="559.98" cy="216.6" r="1.55" fill="url(#mr)"/>
<circle cx="563.62" cy="217.4" r="1.55" fill="url(#mr)"/>
<circle cx="567.25" cy="217.1" r="1.55" fill="url(#mr)"/>
<circle cx="570.88" cy="216.2" r="1.55" fill="url(#mr)"/>
<circle cx="574.52" cy="216.2" r="1.55" fill="url(#mr)"/>
<circle cx="578.15" cy="216.6" r="1.55" fill="url(#mr)"/>
<circle cx="581.79" cy="216.2" r="1.55" fill="url(#mr)"/>
<circle cx="585.42" cy="215.9" r="1.55" fill="url(#mr)"/>
<circle cx="589.06" cy="216.2" r="1.55" fill="url(#mr)"/>
<circle cx="592.69" cy="216.2" r="1.55" fill="url(#mr)"/>
<circle cx="596.33" cy="215.2" r="1.55" fill="url(#mr)"/>
<circle cx="599.96" cy="214.4" r="1.55" fill="url(#mr)"/>
<circle cx="603.6" cy="214.1" r="1.55" fill="url(#mr)"/>
<circle cx="607.24" cy="214.1" r="1.55" fill="url(#mr)"/>
<circle cx="610.87" cy="211.8" r="1.55" fill="url(#mr)"/>
<circle cx="614.5" cy="212.7" r="1.55" fill="url(#mr)"/>
<circle cx="618.14" cy="212.2" r="1.55" fill="url(#mr)"/>
<circle cx="621.77" cy="213" r="1.55" fill="url(#mr)"/>
<circle cx="625.41" cy="212.2" r="1.55" fill="url(#mr)"/>
<circle cx="629.04" cy="210.8" r="1.55" fill="url(#mr)"/>
<circle cx="632.68" cy="211.8" r="1.55" fill="url(#mr)"/>
<circle cx="636.31" cy="211.1" r="1.55" fill="url(#mr)"/>
<circle cx="639.95" cy="210.8" r="1.55" fill="url(#mr)"/>
<line x1="458.2" y1="233" x2="458.2" y2="241" stroke="#8fbaf0" stroke-width="0.5"/>
<line x1="457.1" y1="233" x2="459.3" y2="233" stroke="#8fbaf0" stroke-width="0.5"/>
<line x1="457.1" y1="241" x2="459.3" y2="241" stroke="#8fbaf0" stroke-width="0.5"/>
<line x1="461.83" y1="233" x2="461.83" y2="241" stroke="#8fbaf0" stroke-width="0.5"/>
<line x1="460.73" y1="233" x2="462.94" y2="233" stroke="#8fbaf0" stroke-width="0.5"/>
<line x1="460.73" y1="241" x2="462.94" y2="241" stroke="#8fbaf0" stroke-width="0.5"/>
<line x1="465.47" y1="234.1" x2="465.47" y2="242.1" stroke="#8fbaf0" stroke-width="0.5"/>
<line x1="464.37" y1="234.1" x2="466.57" y2="234.1" stroke="#8fbaf0" stroke-width="0.5"/>
<line x1="464.37" y1="242.1" x2="466.57" y2="242.1" stroke="#8fbaf0" stroke-width="0.5"/>
<line x1="469.1" y1="233.8" x2="469.1" y2="241.8" stroke="#8fbaf0" stroke-width="0.5"/>
<line x1="468" y1="233.8" x2="470.2" y2="233.8" stroke="#8fbaf0" stroke-width="0.5"/>
<line x1="468" y1="241.8" x2="470.2" y2="241.8" stroke="#8fbaf0" stroke-width="0.5"/>
<line x1="472.74" y1="233.4" x2="472.74" y2="241.4" stroke="#8fbaf0" stroke-width="0.5"/>
<line x1="471.64" y1="233.4" x2="473.84" y2="233.4" stroke="#8fbaf0" stroke-width="0.5"/>
<line x1="471.64" y1="241.4" x2="473.84" y2="241.4" stroke="#8fbaf0" stroke-width="0.5"/>
<line x1="476.38" y1="234.1" x2="476.38" y2="242.1" stroke="#8fbaf0" stroke-width="0.5"/>
<line x1="475.27" y1="234.1" x2="477.48" y2="234.1" stroke="#8fbaf0" stroke-width="0.5"/>
<line x1="475.27" y1="242.1" x2="477.48" y2="242.1" stroke="#8fbaf0" stroke-width="0.5"/>
<line x1="480.01" y1="234.4" x2="480.01" y2="242.4" stroke="#8fbaf0" stroke-width="0.5"/>
<line x1="478.91" y1="234.4" x2="481.11" y2="234.4" stroke="#8fbaf0" stroke-width="0.5"/>
<line x1="478.91" y1="242.4" x2="481.11" y2="242.4" stroke="#8fbaf0" stroke-width="0.5"/>
<line x1="483.64" y1="235.9" x2="483.64" y2="243.9" stroke="#8fbaf0" stroke-width="0.5"/>
<line x1="482.54" y1="235.9" x2="484.75" y2="235.9" stroke="#8fbaf0" stroke-width="0.5"/>
<line x1="482.54" y1="243.9" x2="484.75" y2="243.9" stroke="#8fbaf0" stroke-width="0.5"/>
<line x1="487.28" y1="236.8" x2="487.28" y2="244.8" stroke="#8fbaf0" stroke-width="0.5"/>
<line x1="486.18" y1="236.8" x2="488.38" y2="236.8" stroke="#8fbaf0" stroke-width="0.5"/>
<line x1="486.18" y1="244.8" x2="488.38" y2="244.8" stroke="#8fbaf0" stroke-width="0.5"/>
<line x1="490.91" y1="240.7" x2="490.91" y2="248.7" stroke="#8fbaf0" stroke-width="0.5"/>
<line x1="489.81" y1="240.7" x2="492.01" y2="240.7" stroke="#8fbaf0" stroke-width="0.5"/>
<line x1="489.81" y1="248.7" x2="492.01" y2="248.7" stroke="#8fbaf0" stroke-width="0.5"/>
<line x1="494.55" y1="242.9" x2="494.55" y2="250.9" stroke="#8fbaf0" stroke-width="0.5"/>
<line x1="493.45" y1="242.9" x2="495.65" y2="242.9" stroke="#8fbaf0" stroke-width="0.5"/>
<line x1="493.45" y1="250.9" x2="495.65" y2="250.9" stroke="#8fbaf0" stroke-width="0.5"/>
<line x1="498.19" y1="242.9" x2="498.19" y2="250.9" stroke="#8fbaf0" stroke-width="0.5"/>
<line x1="497.08" y1="242.9" x2="499.29" y2="242.9" stroke="#8fbaf0" stroke-width="0.5"/>
<line x1="497.08" y1="250.9" x2="499.29" y2="250.9" stroke="#8fbaf0" stroke-width="0.5"/>
<line x1="501.82" y1="244.1" x2="501.82" y2="252.1" stroke="#8fbaf0" stroke-width="0.5"/>
<line x1="500.72" y1="244.1" x2="502.92" y2="244.1" stroke="#8fbaf0" stroke-width="0.5"/>
<line x1="500.72" y1="252.1" x2="502.92" y2="252.1" stroke="#8fbaf0" stroke-width="0.5"/>
<line x1="505.45" y1="245.1" x2="505.45" y2="253.1" stroke="#8fbaf0" stroke-width="0.5"/>
<line x1="504.35" y1="245.1" x2="506.56" y2="245.1" stroke="#8fbaf0" stroke-width="0.5"/>
<line x1="504.35" y1="253.1" x2="506.56" y2="253.1" stroke="#8fbaf0" stroke-width="0.5"/>
<line x1="509.09" y1="243.2" x2="509.09" y2="251.2" stroke="#8fbaf0" stroke-width="0.5"/>
<line x1="507.99" y1="243.2" x2="510.19" y2="243.2" stroke="#8fbaf0" stroke-width="0.5"/>
<line x1="507.99" y1="251.2" x2="510.19" y2="251.2" stroke="#8fbaf0" stroke-width="0.5"/>
<line x1="512.73" y1="244.1" x2="512.73" y2="252.1" stroke="#8fbaf0" stroke-width="0.5"/>
<line x1="511.62" y1="244.1" x2="513.83" y2="244.1" stroke="#8fbaf0" stroke-width="0.5"/>
<line x1="511.62" y1="252.1" x2="513.83" y2="252.1" stroke="#8fbaf0" stroke-width="0.5"/>
<line x1="516.36" y1="245.5" x2="516.36" y2="253.5" stroke="#8fbaf0" stroke-width="0.5"/>
<line x1="515.26" y1="245.5" x2="517.46" y2="245.5" stroke="#8fbaf0" stroke-width="0.5"/>
<line x1="515.26" y1="253.5" x2="517.46" y2="253.5" stroke="#8fbaf0" stroke-width="0.5"/>
<line x1="520" y1="245.8" x2="520" y2="253.8" stroke="#8fbaf0" stroke-width="0.5"/>
<line x1="518.89" y1="245.8" x2="521.1" y2="245.8" stroke="#8fbaf0" stroke-width="0.5"/>
<line x1="518.89" y1="253.8" x2="521.1" y2="253.8" stroke="#8fbaf0" stroke-width="0.5"/>
<line x1="523.63" y1="245.5" x2="523.63" y2="253.5" stroke="#8fbaf0" stroke-width="0.5"/>
<line x1="522.53" y1="245.5" x2="524.73" y2="245.5" stroke="#8fbaf0" stroke-width="0.5"/>
<line x1="522.53" y1="253.5" x2="524.73" y2="253.5" stroke="#8fbaf0" stroke-width="0.5"/>
<line x1="527.26" y1="244.4" x2="527.26" y2="252.4" stroke="#8fbaf0" stroke-width="0.5"/>
<line x1="526.16" y1="244.4" x2="528.37" y2="244.4" stroke="#8fbaf0" stroke-width="0.5"/>
<line x1="526.16" y1="252.4" x2="528.37" y2="252.4" stroke="#8fbaf0" stroke-width="0.5"/>
<line x1="530.9" y1="247" x2="530.9" y2="255" stroke="#8fbaf0" stroke-width="0.5"/>
<line x1="529.8" y1="247" x2="532" y2="247" stroke="#8fbaf0" stroke-width="0.5"/>
<line x1="529.8" y1="255" x2="532" y2="255" stroke="#8fbaf0" stroke-width="0.5"/>
<line x1="534.53" y1="245.5" x2="534.53" y2="253.5" stroke="#8fbaf0" stroke-width="0.5"/>
<line x1="533.43" y1="245.5" x2="535.63" y2="245.5" stroke="#8fbaf0" stroke-width="0.5"/>
<line x1="533.43" y1="253.5" x2="535.63" y2="253.5" stroke="#8fbaf0" stroke-width="0.5"/>
<line x1="538.17" y1="245.5" x2="538.17" y2="253.5" stroke="#8fbaf0" stroke-width="0.5"/>
<line x1="537.07" y1="245.5" x2="539.27" y2="245.5" stroke="#8fbaf0" stroke-width="0.5"/>
<line x1="537.07" y1="253.5" x2="539.27" y2="253.5" stroke="#8fbaf0" stroke-width="0.5"/>
<line x1="541.8" y1="246.5" x2="541.8" y2="254.5" stroke="#f2a2ad" stroke-width="0.5"/>
<line x1="540.7" y1="246.5" x2="542.9" y2="246.5" stroke="#f2a2ad" stroke-width="0.5"/>
<line x1="540.7" y1="254.5" x2="542.9" y2="254.5" stroke="#f2a2ad" stroke-width="0.5"/>
<line x1="545.44" y1="247" x2="545.44" y2="255" stroke="#f2a2ad" stroke-width="0.5"/>
<line x1="544.34" y1="247" x2="546.54" y2="247" stroke="#f2a2ad" stroke-width="0.5"/>
<line x1="544.34" y1="255" x2="546.54" y2="255" stroke="#f2a2ad" stroke-width="0.5"/>
<line x1="549.08" y1="246.1" x2="549.08" y2="254.1" stroke="#f2a2ad" stroke-width="0.5"/>
<line x1="547.98" y1="246.1" x2="550.18" y2="246.1" stroke="#f2a2ad" stroke-width="0.5"/>
<line x1="547.98" y1="254.1" x2="550.18" y2="254.1" stroke="#f2a2ad" stroke-width="0.5"/>
<line x1="552.71" y1="247" x2="552.71" y2="255" stroke="#f2a2ad" stroke-width="0.5"/>
<line x1="551.61" y1="247" x2="553.81" y2="247" stroke="#f2a2ad" stroke-width="0.5"/>
<line x1="551.61" y1="255" x2="553.81" y2="255" stroke="#f2a2ad" stroke-width="0.5"/>
<line x1="556.35" y1="246.5" x2="556.35" y2="254.5" stroke="#f2a2ad" stroke-width="0.5"/>
<line x1="555.25" y1="246.5" x2="557.45" y2="246.5" stroke="#f2a2ad" stroke-width="0.5"/>
<line x1="555.25" y1="254.5" x2="557.45" y2="254.5" stroke="#f2a2ad" stroke-width="0.5"/>
<line x1="559.98" y1="245.8" x2="559.98" y2="253.8" stroke="#f2a2ad" stroke-width="0.5"/>
<line x1="558.88" y1="245.8" x2="561.08" y2="245.8" stroke="#f2a2ad" stroke-width="0.5"/>
<line x1="558.88" y1="253.8" x2="561.08" y2="253.8" stroke="#f2a2ad" stroke-width="0.5"/>
<line x1="563.62" y1="247" x2="563.62" y2="255" stroke="#f2a2ad" stroke-width="0.5"/>
<line x1="562.51" y1="247" x2="564.72" y2="247" stroke="#f2a2ad" stroke-width="0.5"/>
<line x1="562.51" y1="255" x2="564.72" y2="255" stroke="#f2a2ad" stroke-width="0.5"/>
<line x1="567.25" y1="247.6" x2="567.25" y2="255.6" stroke="#f2a2ad" stroke-width="0.5"/>
<line x1="566.15" y1="247.6" x2="568.35" y2="247.6" stroke="#f2a2ad" stroke-width="0.5"/>
<line x1="566.15" y1="255.6" x2="568.35" y2="255.6" stroke="#f2a2ad" stroke-width="0.5"/>
<line x1="570.88" y1="246.5" x2="570.88" y2="254.5" stroke="#f2a2ad" stroke-width="0.5"/>
<line x1="569.78" y1="246.5" x2="571.99" y2="246.5" stroke="#f2a2ad" stroke-width="0.5"/>
<line x1="569.78" y1="254.5" x2="571.99" y2="254.5" stroke="#f2a2ad" stroke-width="0.5"/>
<line x1="574.52" y1="246.1" x2="574.52" y2="254.1" stroke="#f2a2ad" stroke-width="0.5"/>
<line x1="573.42" y1="246.1" x2="575.62" y2="246.1" stroke="#f2a2ad" stroke-width="0.5"/>
<line x1="573.42" y1="254.1" x2="575.62" y2="254.1" stroke="#f2a2ad" stroke-width="0.5"/>
<line x1="578.15" y1="245.5" x2="578.15" y2="253.5" stroke="#f2a2ad" stroke-width="0.5"/>
<line x1="577.05" y1="245.5" x2="579.25" y2="245.5" stroke="#f2a2ad" stroke-width="0.5"/>
<line x1="577.05" y1="253.5" x2="579.25" y2="253.5" stroke="#f2a2ad" stroke-width="0.5"/>
<line x1="581.79" y1="245.8" x2="581.79" y2="253.8" stroke="#f2a2ad" stroke-width="0.5"/>
<line x1="580.69" y1="245.8" x2="582.89" y2="245.8" stroke="#f2a2ad" stroke-width="0.5"/>
<line x1="580.69" y1="253.8" x2="582.89" y2="253.8" stroke="#f2a2ad" stroke-width="0.5"/>
<line x1="585.42" y1="244.6" x2="585.42" y2="252.6" stroke="#f2a2ad" stroke-width="0.5"/>
<line x1="584.32" y1="244.6" x2="586.52" y2="244.6" stroke="#f2a2ad" stroke-width="0.5"/>
<line x1="584.32" y1="252.6" x2="586.52" y2="252.6" stroke="#f2a2ad" stroke-width="0.5"/>
<line x1="589.06" y1="245.1" x2="589.06" y2="253.1" stroke="#f2a2ad" stroke-width="0.5"/>
<line x1="587.96" y1="245.1" x2="590.16" y2="245.1" stroke="#f2a2ad" stroke-width="0.5"/>
<line x1="587.96" y1="253.1" x2="590.16" y2="253.1" stroke="#f2a2ad" stroke-width="0.5"/>
<line x1="592.69" y1="246.5" x2="592.69" y2="254.5" stroke="#f2a2ad" stroke-width="0.5"/>
<line x1="591.59" y1="246.5" x2="593.79" y2="246.5" stroke="#f2a2ad" stroke-width="0.5"/>
<line x1="591.59" y1="254.5" x2="593.79" y2="254.5" stroke="#f2a2ad" stroke-width="0.5"/>
<line x1="596.33" y1="244.1" x2="596.33" y2="252.1" stroke="#f2a2ad" stroke-width="0.5"/>
<line x1="595.23" y1="244.1" x2="597.43" y2="244.1" stroke="#f2a2ad" stroke-width="0.5"/>
<line x1="595.23" y1="252.1" x2="597.43" y2="252.1" stroke="#f2a2ad" stroke-width="0.5"/>
<line x1="599.96" y1="245.1" x2="599.96" y2="253.1" stroke="#f2a2ad" stroke-width="0.5"/>
<line x1="598.86" y1="245.1" x2="601.06" y2="245.1" stroke="#f2a2ad" stroke-width="0.5"/>
<line x1="598.86" y1="253.1" x2="601.06" y2="253.1" stroke="#f2a2ad" stroke-width="0.5"/>
<line x1="603.6" y1="244.6" x2="603.6" y2="252.6" stroke="#f2a2ad" stroke-width="0.5"/>
<line x1="602.5" y1="244.6" x2="604.7" y2="244.6" stroke="#f2a2ad" stroke-width="0.5"/>
<line x1="602.5" y1="252.6" x2="604.7" y2="252.6" stroke="#f2a2ad" stroke-width="0.5"/>
<line x1="607.24" y1="244.1" x2="607.24" y2="252.1" stroke="#f2a2ad" stroke-width="0.5"/>
<line x1="606.13" y1="244.1" x2="608.34" y2="244.1" stroke="#f2a2ad" stroke-width="0.5"/>
<line x1="606.13" y1="252.1" x2="608.34" y2="252.1" stroke="#f2a2ad" stroke-width="0.5"/>
<line x1="610.87" y1="243.6" x2="610.87" y2="251.6" stroke="#f2a2ad" stroke-width="0.5"/>
<line x1="609.77" y1="243.6" x2="611.97" y2="243.6" stroke="#f2a2ad" stroke-width="0.5"/>
<line x1="609.77" y1="251.6" x2="611.97" y2="251.6" stroke="#f2a2ad" stroke-width="0.5"/>
<line x1="614.5" y1="243.6" x2="614.5" y2="251.6" stroke="#f2a2ad" stroke-width="0.5"/>
<line x1="613.4" y1="243.6" x2="615.61" y2="243.6" stroke="#f2a2ad" stroke-width="0.5"/>
<line x1="613.4" y1="251.6" x2="615.61" y2="251.6" stroke="#f2a2ad" stroke-width="0.5"/>
<line x1="618.14" y1="243.2" x2="618.14" y2="251.2" stroke="#f2a2ad" stroke-width="0.5"/>
<line x1="617.04" y1="243.2" x2="619.24" y2="243.2" stroke="#f2a2ad" stroke-width="0.5"/>
<line x1="617.04" y1="251.2" x2="619.24" y2="251.2" stroke="#f2a2ad" stroke-width="0.5"/>
<line x1="621.77" y1="242.6" x2="621.77" y2="250.6" stroke="#f2a2ad" stroke-width="0.5"/>
<line x1="620.67" y1="242.6" x2="622.88" y2="242.6" stroke="#f2a2ad" stroke-width="0.5"/>
<line x1="620.67" y1="250.6" x2="622.88" y2="250.6" stroke="#f2a2ad" stroke-width="0.5"/>
<line x1="625.41" y1="241.7" x2="625.41" y2="249.7" stroke="#f2a2ad" stroke-width="0.5"/>
<line x1="624.31" y1="241.7" x2="626.51" y2="241.7" stroke="#f2a2ad" stroke-width="0.5"/>
<line x1="624.31" y1="249.7" x2="626.51" y2="249.7" stroke="#f2a2ad" stroke-width="0.5"/>
<line x1="629.04" y1="240.7" x2="629.04" y2="248.7" stroke="#f2a2ad" stroke-width="0.5"/>
<line x1="627.94" y1="240.7" x2="630.14" y2="240.7" stroke="#f2a2ad" stroke-width="0.5"/>
<line x1="627.94" y1="248.7" x2="630.14" y2="248.7" stroke="#f2a2ad" stroke-width="0.5"/>
<line x1="632.68" y1="241.1" x2="632.68" y2="249.1" stroke="#f2a2ad" stroke-width="0.5"/>
<line x1="631.58" y1="241.1" x2="633.78" y2="241.1" stroke="#f2a2ad" stroke-width="0.5"/>
<line x1="631.58" y1="249.1" x2="633.78" y2="249.1" stroke="#f2a2ad" stroke-width="0.5"/>
<line x1="636.31" y1="241.4" x2="636.31" y2="249.4" stroke="#f2a2ad" stroke-width="0.5"/>
<line x1="635.21" y1="241.4" x2="637.41" y2="241.4" stroke="#f2a2ad" stroke-width="0.5"/>
<line x1="635.21" y1="249.4" x2="637.41" y2="249.4" stroke="#f2a2ad" stroke-width="0.5"/>
<line x1="639.95" y1="240.7" x2="639.95" y2="248.7" stroke="#f2a2ad" stroke-width="0.5"/>
<line x1="638.85" y1="240.7" x2="641.05" y2="240.7" stroke="#f2a2ad" stroke-width="0.5"/>
<line x1="638.85" y1="248.7" x2="641.05" y2="248.7" stroke="#f2a2ad" stroke-width="0.5"/>
<circle cx="458.2" cy="237" r="1.55" fill="url(#mb)"/>
<circle cx="461.83" cy="237" r="1.55" fill="url(#mb)"/>
<circle cx="465.47" cy="238.1" r="1.55" fill="url(#mb)"/>
<circle cx="469.1" cy="237.8" r="1.55" fill="url(#mb)"/>
<circle cx="472.74" cy="237.4" r="1.55" fill="url(#mb)"/>
<circle cx="476.38" cy="238.1" r="1.55" fill="url(#mb)"/>
<circle cx="480.01" cy="238.4" r="1.55" fill="url(#mb)"/>
<circle cx="483.64" cy="239.9" r="1.55" fill="url(#mb)"/>
<circle cx="487.28" cy="240.8" r="1.55" fill="url(#mb)"/>
<circle cx="490.91" cy="244.7" r="1.55" fill="url(#mb)"/>
<circle cx="494.55" cy="246.9" r="1.55" fill="url(#mb)"/>
<circle cx="498.19" cy="246.9" r="1.55" fill="url(#mb)"/>
<circle cx="501.82" cy="248.1" r="1.55" fill="url(#mb)"/>
<circle cx="505.45" cy="249.1" r="1.55" fill="url(#mb)"/>
<circle cx="509.09" cy="247.2" r="1.55" fill="url(#mb)"/>
<circle cx="512.73" cy="248.1" r="1.55" fill="url(#mb)"/>
<circle cx="516.36" cy="249.5" r="1.55" fill="url(#mb)"/>
<circle cx="520" cy="249.8" r="1.55" fill="url(#mb)"/>
<circle cx="523.63" cy="249.5" r="1.55" fill="url(#mb)"/>
<circle cx="527.26" cy="248.4" r="1.55" fill="url(#mb)"/>
<circle cx="530.9" cy="251" r="1.55" fill="url(#mb)"/>
<circle cx="534.53" cy="249.5" r="1.55" fill="url(#mb)"/>
<circle cx="538.17" cy="249.5" r="1.55" fill="url(#mb)"/>
<circle cx="541.8" cy="250.5" r="1.55" fill="url(#mr)"/>
<circle cx="545.44" cy="251" r="1.55" fill="url(#mr)"/>
<circle cx="549.08" cy="250.1" r="1.55" fill="url(#mr)"/>
<circle cx="552.71" cy="251" r="1.55" fill="url(#mr)"/>
<circle cx="556.35" cy="250.5" r="1.55" fill="url(#mr)"/>
<circle cx="559.98" cy="249.8" r="1.55" fill="url(#mr)"/>
<circle cx="563.62" cy="251" r="1.55" fill="url(#mr)"/>
<circle cx="567.25" cy="251.6" r="1.55" fill="url(#mr)"/>
<circle cx="570.88" cy="250.5" r="1.55" fill="url(#mr)"/>
<circle cx="574.52" cy="250.1" r="1.55" fill="url(#mr)"/>
<circle cx="578.15" cy="249.5" r="1.55" fill="url(#mr)"/>
<circle cx="581.79" cy="249.8" r="1.55" fill="url(#mr)"/>
<circle cx="585.42" cy="248.6" r="1.55" fill="url(#mr)"/>
<circle cx="589.06" cy="249.1" r="1.55" fill="url(#mr)"/>
<circle cx="592.69" cy="250.5" r="1.55" fill="url(#mr)"/>
<circle cx="596.33" cy="248.1" r="1.55" fill="url(#mr)"/>
<circle cx="599.96" cy="249.1" r="1.55" fill="url(#mr)"/>
<circle cx="603.6" cy="248.6" r="1.55" fill="url(#mr)"/>
<circle cx="607.24" cy="248.1" r="1.55" fill="url(#mr)"/>
<circle cx="610.87" cy="247.6" r="1.55" fill="url(#mr)"/>
<circle cx="614.5" cy="247.6" r="1.55" fill="url(#mr)"/>
<circle cx="618.14" cy="247.2" r="1.55" fill="url(#mr)"/>
<circle cx="621.77" cy="246.6" r="1.55" fill="url(#mr)"/>
<circle cx="625.41" cy="245.7" r="1.55" fill="url(#mr)"/>
<circle cx="629.04" cy="244.7" r="1.55" fill="url(#mr)"/>
<circle cx="632.68" cy="245.1" r="1.55" fill="url(#mr)"/>
<circle cx="636.31" cy="245.4" r="1.55" fill="url(#mr)"/>
<circle cx="639.95" cy="244.7" r="1.55" fill="url(#mr)"/>
<path d="M457.9 286.8 C459.92 286.03 465.62 283.85 470 282.2 C474.38 280.55 478.67 278.88 484.2 276.9 C489.73 274.92 497.12 272.25 503.2 270.3 C509.28 268.35 514.13 267.07 520.7 265.2 C527.27 263.33 538.95 260.12 542.6 259.1" fill="none" stroke="#3a86e6" stroke-width="0.9" stroke-linejoin="round" stroke-linecap="round"/>
<path d="M542.6 259.1 C543.83 259.92 546.33 262.25 550 264 C553.67 265.75 559.73 267.7 564.6 269.6 C569.47 271.5 574.33 273.58 579.2 275.4 C584.07 277.22 588.93 279.03 593.8 280.5 C598.67 281.97 603.53 283.22 608.4 284.2 C613.27 285.18 617.77 285.87 623 286.4 C628.23 286.93 637 287.23 639.8 287.4" fill="none" stroke="#e2475c" stroke-width="0.9" stroke-linejoin="round" stroke-linecap="round"/>
</g>
<text x="498" y="282.6" font-size="10.4" text-anchor="start" fill="#2f7fe6" stroke="#2f7fe6" stroke-width="0.16" transform="rotate(-23 498 282.6)">charge</text>
<text x="575.5" y="264.6" font-size="10.4" text-anchor="start" fill="#e2475c" stroke="#e2475c" stroke-width="0.16" transform="rotate(22.8 575.5 264.6)">discharge</text>
<text x="455.5" y="177.4" font-size="11.3" text-anchor="end" fill="#f00038" stroke="#f00038" stroke-width="0.16">60°C</text>
<text x="454.3" y="199.9" font-size="9.3" text-anchor="end" fill="#000" stroke="#000" stroke-width="0.16">0.2</text>
<line x1="455.8" y1="196.6" x2="457.8" y2="196.6" stroke="#333" stroke-width="0.8"/>
<text x="454.3" y="211.5" font-size="9.3" text-anchor="end" fill="#000" stroke="#000" stroke-width="0.16">0.1</text>
<line x1="455.8" y1="208.2" x2="457.8" y2="208.2" stroke="#333" stroke-width="0.8"/>
<text x="454.3" y="222.4" font-size="9.3" text-anchor="end" fill="#000" stroke="#000" stroke-width="0.16">0.0</text>
<line x1="455.8" y1="219.1" x2="457.8" y2="219.1" stroke="#333" stroke-width="0.8"/>
<text x="454.6" y="262.2" font-size="9.3" text-anchor="end" fill="#000" stroke="#000" stroke-width="0.16">3</text>
<line x1="455.8" y1="258.9" x2="457.8" y2="258.9" stroke="#333" stroke-width="0.8"/>
<text x="454.6" y="272.5" font-size="9.3" text-anchor="end" fill="#000" stroke="#000" stroke-width="0.16">2</text>
<line x1="455.8" y1="269.2" x2="457.8" y2="269.2" stroke="#333" stroke-width="0.8"/>
<text x="454.6" y="282.5" font-size="9.3" text-anchor="end" fill="#000" stroke="#000" stroke-width="0.16">1</text>
<line x1="455.8" y1="279.2" x2="457.8" y2="279.2" stroke="#333" stroke-width="0.8"/>
<text x="454.6" y="292.6" font-size="9.3" text-anchor="end" fill="#000" stroke="#000" stroke-width="0.16">0</text>
<line x1="455.8" y1="289.3" x2="457.8" y2="289.3" stroke="#333" stroke-width="0.8"/>
<text x="647.6" y="169.5" font-size="9.3" text-anchor="start" fill="#000" stroke="#000" stroke-width="0.16">0.52</text>
<line x1="645" y1="166.2" x2="647" y2="166.2" stroke="#333" stroke-width="0.8"/>
<text x="647.6" y="180.5" font-size="9.3" text-anchor="start" fill="#000" stroke="#000" stroke-width="0.16">0.26</text>
<line x1="645" y1="177.2" x2="647" y2="177.2" stroke="#333" stroke-width="0.8"/>
<text x="647.6" y="190.4" font-size="9.3" text-anchor="start" fill="#000" stroke="#000" stroke-width="0.16">0.00</text>
<line x1="645" y1="187.1" x2="647" y2="187.1" stroke="#333" stroke-width="0.8"/>
<text x="647.6" y="236.3" font-size="9.3" text-anchor="start" fill="#000" stroke="#000" stroke-width="0.16">0.13</text>
<line x1="645" y1="233" x2="647" y2="233" stroke="#333" stroke-width="0.8"/>
<text x="647.6" y="252.4" font-size="9.3" text-anchor="start" fill="#000" stroke="#000" stroke-width="0.16">0.00</text>
<line x1="645" y1="249.1" x2="647" y2="249.1" stroke="#333" stroke-width="0.8"/>
<text x="457.8" y="300.6" font-size="9.3" text-anchor="middle" fill="#000" stroke="#000" stroke-width="0.16">0</text>
<text x="483.73" y="300.6" font-size="9.3" text-anchor="middle" fill="#000" stroke="#000" stroke-width="0.16">50</text>
<text x="509.65" y="300.6" font-size="9.3" text-anchor="middle" fill="#000" stroke="#000" stroke-width="0.16">100</text>
<text x="535.58" y="300.6" font-size="9.3" text-anchor="middle" fill="#000" stroke="#000" stroke-width="0.16">150</text>
<text x="561.5" y="300.6" font-size="9.3" text-anchor="middle" fill="#000" stroke="#000" stroke-width="0.16">200</text>
<text x="587.42" y="300.6" font-size="9.3" text-anchor="middle" fill="#000" stroke="#000" stroke-width="0.16">250</text>
<text x="613.35" y="300.6" font-size="9.3" text-anchor="middle" fill="#000" stroke="#000" stroke-width="0.16">300</text>
<text x="639.27" y="300.6" font-size="9.3" text-anchor="middle" fill="#000" stroke="#000" stroke-width="0.16">350</text>
<text x="553.4" y="314.5" font-size="12.2" text-anchor="middle" fill="#000" stroke="#000" stroke-width="0.16">Time (min)</text>
<text x="429.5" y="216" font-size="11" text-anchor="middle" class="k" transform="rotate(-90 429.5 216)" dy="0.35em"><tspan font-style="italic">Δa/a</tspan> (%)</text>
<text x="430.6" y="277.8" font-size="10.8" text-anchor="middle" class="k" transform="rotate(-90 430.6 277.8)" dy="0.35em">Voltage (V)</text>
<text x="679.5" y="179" font-size="11.5" text-anchor="middle" class="k" transform="rotate(-90 679.5 179)" dy="0.35em"><tspan font-style="italic">ΔV/V</tspan> (%)</text>
<text x="679" y="238.3" font-size="11.5" text-anchor="middle" class="k" transform="rotate(-90 679 238.3)" dy="0.35em"><tspan font-style="italic">Δc/c</tspan> (%)</text>
<text x="15" y="324.9" font-size="13.5" text-anchor="start" fill="#000" stroke="#000" stroke-width="0.16">e</text>
<rect x="24.4" y="325.2" width="255.3" height="95.2" fill="none" stroke="#333" stroke-width="1"/>
<line x1="22.3" y1="420.4" x2="24.4" y2="420.4" stroke="#333" stroke-width="0.8"/>
<text x="21.6" y="423.8" font-size="9.5" text-anchor="end" fill="#000" stroke="#000" stroke-width="0.16">0</text>
<line x1="22.3" y1="398.75" x2="24.4" y2="398.75" stroke="#333" stroke-width="0.8"/>
<text x="21.6" y="402.15" font-size="9.5" text-anchor="end" fill="#000" stroke="#000" stroke-width="0.16">5</text>
<line x1="22.3" y1="377.1" x2="24.4" y2="377.1" stroke="#333" stroke-width="0.8"/>
<text x="21.6" y="380.5" font-size="9.5" text-anchor="end" fill="#000" stroke="#000" stroke-width="0.16">10</text>
<line x1="22.3" y1="355.45" x2="24.4" y2="355.45" stroke="#333" stroke-width="0.8"/>
<text x="21.6" y="358.85" font-size="9.5" text-anchor="end" fill="#000" stroke="#000" stroke-width="0.16">15</text>
<line x1="22.3" y1="333.8" x2="24.4" y2="333.8" stroke="#333" stroke-width="0.8"/>
<text x="21.6" y="337.2" font-size="9.5" text-anchor="end" fill="#000" stroke="#000" stroke-width="0.16">20</text>
<line x1="23.1" y1="409.57" x2="24.4" y2="409.57" stroke="#333" stroke-width="0.7"/>
<line x1="23.1" y1="387.92" x2="24.4" y2="387.92" stroke="#333" stroke-width="0.7"/>
<line x1="23.1" y1="366.27" x2="24.4" y2="366.27" stroke="#333" stroke-width="0.7"/>
<line x1="23.1" y1="344.62" x2="24.4" y2="344.62" stroke="#333" stroke-width="0.7"/>
<line x1="31.4" y1="420.4" x2="31.4" y2="422.2" stroke="#333" stroke-width="0.8"/>
<line x1="38.46" y1="420.4" x2="38.46" y2="421.5" stroke="#333" stroke-width="0.6"/>
<line x1="45.52" y1="420.4" x2="45.52" y2="422.2" stroke="#333" stroke-width="0.8"/>
<line x1="52.58" y1="420.4" x2="52.58" y2="421.5" stroke="#333" stroke-width="0.6"/>
<line x1="59.65" y1="420.4" x2="59.65" y2="422.2" stroke="#333" stroke-width="0.8"/>
<line x1="66.71" y1="420.4" x2="66.71" y2="421.5" stroke="#333" stroke-width="0.6"/>
<line x1="73.77" y1="420.4" x2="73.77" y2="422.2" stroke="#333" stroke-width="0.8"/>
<line x1="80.83" y1="420.4" x2="80.83" y2="421.5" stroke="#333" stroke-width="0.6"/>
<line x1="87.9" y1="420.4" x2="87.9" y2="422.2" stroke="#333" stroke-width="0.8"/>
<line x1="94.96" y1="420.4" x2="94.96" y2="421.5" stroke="#333" stroke-width="0.6"/>
<line x1="102.02" y1="420.4" x2="102.02" y2="422.2" stroke="#333" stroke-width="0.8"/>
<line x1="109.08" y1="420.4" x2="109.08" y2="421.5" stroke="#333" stroke-width="0.6"/>
<line x1="116.14" y1="420.4" x2="116.14" y2="422.2" stroke="#333" stroke-width="0.8"/>
<line x1="123.2" y1="420.4" x2="123.2" y2="421.5" stroke="#333" stroke-width="0.6"/>
<line x1="130.27" y1="420.4" x2="130.27" y2="422.2" stroke="#333" stroke-width="0.8"/>
<line x1="137.33" y1="420.4" x2="137.33" y2="421.5" stroke="#333" stroke-width="0.6"/>
<line x1="144.39" y1="420.4" x2="144.39" y2="422.2" stroke="#333" stroke-width="0.8"/>
<line x1="151.45" y1="420.4" x2="151.45" y2="421.5" stroke="#333" stroke-width="0.6"/>
<line x1="158.52" y1="420.4" x2="158.52" y2="422.2" stroke="#333" stroke-width="0.8"/>
<line x1="165.58" y1="420.4" x2="165.58" y2="421.5" stroke="#333" stroke-width="0.6"/>
<line x1="172.64" y1="420.4" x2="172.64" y2="422.2" stroke="#333" stroke-width="0.8"/>
<line x1="179.7" y1="420.4" x2="179.7" y2="421.5" stroke="#333" stroke-width="0.6"/>
<line x1="186.76" y1="420.4" x2="186.76" y2="422.2" stroke="#333" stroke-width="0.8"/>
<line x1="193.82" y1="420.4" x2="193.82" y2="421.5" stroke="#333" stroke-width="0.6"/>
<line x1="200.89" y1="420.4" x2="200.89" y2="422.2" stroke="#333" stroke-width="0.8"/>
<line x1="207.95" y1="420.4" x2="207.95" y2="421.5" stroke="#333" stroke-width="0.6"/>
<line x1="215.01" y1="420.4" x2="215.01" y2="422.2" stroke="#333" stroke-width="0.8"/>
<line x1="222.07" y1="420.4" x2="222.07" y2="421.5" stroke="#333" stroke-width="0.6"/>
<line x1="229.14" y1="420.4" x2="229.14" y2="422.2" stroke="#333" stroke-width="0.8"/>
<line x1="236.2" y1="420.4" x2="236.2" y2="421.5" stroke="#333" stroke-width="0.6"/>
<line x1="243.26" y1="420.4" x2="243.26" y2="422.2" stroke="#333" stroke-width="0.8"/>
<line x1="250.32" y1="420.4" x2="250.32" y2="421.5" stroke="#333" stroke-width="0.6"/>
<line x1="257.38" y1="420.4" x2="257.38" y2="422.2" stroke="#333" stroke-width="0.8"/>
<line x1="264.44" y1="420.4" x2="264.44" y2="421.5" stroke="#333" stroke-width="0.6"/>
<line x1="271.51" y1="420.4" x2="271.51" y2="422.2" stroke="#333" stroke-width="0.8"/>
<rect x="26.1" y="419.92" width="10.6" height="0.48" fill="#e8202a"/>
<rect x="40.22" y="419.62" width="10.6" height="0.78" fill="#7c7c20"/>
<rect x="54.35" y="419.53" width="10.6" height="0.87" fill="#24425a"/>
<rect x="68.47" y="418.84" width="10.6" height="1.56" fill="#e01a2a"/>
<rect x="82.6" y="417.8" width="10.6" height="2.6" fill="#44b4f0"/>
<rect x="96.72" y="417.41" width="10.6" height="2.99" fill="#4a60f0"/>
<rect x="110.84" y="412.61" width="10.6" height="7.79" fill="#20c6c6"/>
<rect x="124.97" y="405.63" width="10.6" height="14.77" fill="#9a30f0"/>
<rect x="139.09" y="403.08" width="10.6" height="17.32" fill="#5ec09e"/>
<rect x="153.22" y="396.54" width="10.6" height="23.86" fill="#5a8ed2"/>
<rect x="167.34" y="394.33" width="10.6" height="26.07" fill="#e868b8"/>
<rect x="181.46" y="391.09" width="10.6" height="29.31" fill="#f86464"/>
<rect x="195.59" y="389.14" width="10.6" height="31.26" fill="#ff8010"/>
<rect x="209.71" y="384.37" width="10.6" height="36.03" fill="#aa72e0"/>
<rect x="223.84" y="381.86" width="10.6" height="38.54" fill="#30a850"/>
<rect x="237.96" y="377.75" width="10.6" height="42.65" fill="#e8a000"/>
<rect x="252.08" y="363.24" width="10.6" height="57.16" fill="#d84858"/>
<rect x="266.21" y="344.62" width="10.6" height="75.77" fill="#10a8e0"/>
<text x="31.4" y="418.92" font-size="8.6" class="k" transform="rotate(-90 31.4 418.92)" dy="0.36em">0.11</text>
<text x="45.52" y="418.62" font-size="8.6" class="k" transform="rotate(-90 45.52 418.62)" dy="0.36em">0.18</text>
<text x="59.65" y="418.53" font-size="8.6" class="k" transform="rotate(-90 59.65 418.53)" dy="0.36em">0.2</text>
<text x="73.77" y="417.84" font-size="8.6" class="k" transform="rotate(-90 73.77 417.84)" dy="0.36em">0.36</text>
<text x="87.9" y="416.8" font-size="8.6" class="k" transform="rotate(-90 87.9 416.8)" dy="0.36em">0.6</text>
<text x="102.02" y="416.41" font-size="8.6" class="k" transform="rotate(-90 102.02 416.41)" dy="0.36em">0.69</text>
<text x="116.14" y="411.61" font-size="8.6" class="k" transform="rotate(-90 116.14 411.61)" dy="0.36em">1.8</text>
<text x="130.27" y="404.63" font-size="8.6" class="k" transform="rotate(-90 130.27 404.63)" dy="0.36em">3.41</text>
<text x="144.39" y="402.08" font-size="8.6" class="k" transform="rotate(-90 144.39 402.08)" dy="0.36em">4</text>
<text x="158.52" y="395.54" font-size="8.6" class="k" transform="rotate(-90 158.52 395.54)" dy="0.36em">5.51</text>
<text x="172.64" y="393.33" font-size="8.6" class="k" transform="rotate(-90 172.64 393.33)" dy="0.36em">6.02</text>
<text x="186.76" y="390.09" font-size="8.6" class="k" transform="rotate(-90 186.76 390.09)" dy="0.36em">6.77</text>
<text x="200.89" y="388.14" font-size="8.6" class="k" transform="rotate(-90 200.89 388.14)" dy="0.36em">7.22</text>
<text x="215.01" y="383.37" font-size="8.6" class="k" transform="rotate(-90 215.01 383.37)" dy="0.36em">8.32</text>
<text x="229.14" y="380.86" font-size="8.6" class="k" transform="rotate(-90 229.14 380.86)" dy="0.36em">8.9</text>
<text x="243.26" y="377.55" font-size="8.6" class="k" transform="rotate(-90 243.26 377.55)" dy="0.36em">10.7</text>
<text x="257.38" y="358.74" font-size="8.6" class="k" transform="rotate(-90 257.38 358.74)" dy="0.36em">13.2</text>
<text x="271.51" y="345.23" font-size="8.6" class="k" transform="rotate(-90 271.51 345.23)" dy="0.36em">17.5</text>
<text x="31.4" y="423.6" font-size="8.2" fill="#ff1a1a" stroke="#ff1a1a" stroke-width="0.05" text-anchor="end" textLength="27.4" lengthAdjust="spacingAndGlyphs" transform="rotate(-90 31.4 423.6)" dy="0.36em"><tspan>K</tspan><tspan font-size="6.6" dy="0.8">3</tspan><tspan dy="-0.8"></tspan><tspan>V</tspan><tspan font-size="6.6" dy="0.8">5</tspan><tspan dy="-0.8"></tspan><tspan>O</tspan><tspan font-size="6.6" dy="0.8">14</tspan><tspan dy="-0.8"></tspan></text>
<text x="45.52" y="423.6" font-size="8.2" fill="#8a8a10" stroke="#8a8a10" stroke-width="0.05" text-anchor="end" textLength="26.2" lengthAdjust="spacingAndGlyphs" transform="rotate(-90 45.52 423.6)" dy="0.36em"><tspan>γ-LCSVO</tspan></text>
<text x="59.65" y="423.6" font-size="8.2" fill="#a08a30" stroke="#a08a30" stroke-width="0.05" text-anchor="end" textLength="29.4" lengthAdjust="spacingAndGlyphs" transform="rotate(-90 59.65 423.6)" dy="0.36em"><tspan>Li</tspan><tspan font-size="6.6" dy="0.8">4</tspan><tspan dy="-0.8"></tspan><tspan>Ti</tspan><tspan font-size="6.6" dy="0.8">5</tspan><tspan dy="-0.8"></tspan><tspan>O</tspan><tspan font-size="6.6" dy="0.8">12</tspan><tspan dy="-0.8"></tspan></text>
<text x="73.77" y="423.6" font-size="8.2" fill="#ff1a1a" stroke="#ff1a1a" stroke-width="0.05" text-anchor="end" textLength="46.6" lengthAdjust="spacingAndGlyphs" transform="rotate(-90 73.77 423.6)" dy="0.36em"><tspan>K</tspan><tspan font-size="6.6" dy="0.8">3</tspan><tspan dy="-0.8"></tspan><tspan>V</tspan><tspan font-size="6.6" dy="0.8">5</tspan><tspan dy="-0.8"></tspan><tspan>O</tspan><tspan font-size="6.6" dy="0.8">14</tspan><tspan dy="-0.8"></tspan><tspan>(60°C)</tspan></text>
<text x="87.9" y="423.6" font-size="8.2" fill="#44b4f0" stroke="#44b4f0" stroke-width="0.05" text-anchor="end" textLength="17.2" lengthAdjust="spacingAndGlyphs" transform="rotate(-90 87.9 423.6)" dy="0.36em"><tspan>VPO</tspan><tspan font-size="6.6" dy="0.8">5</tspan><tspan dy="-0.8"></tspan></text>
<text x="102.02" y="423.6" font-size="8.2" fill="#5a6cf0" stroke="#5a6cf0" stroke-width="0.05" text-anchor="end" textLength="25.8" lengthAdjust="spacingAndGlyphs" transform="rotate(-90 102.02 423.6)" dy="0.36em"><tspan>LiCrTiO</tspan><tspan font-size="6.6" dy="0.8">4</tspan><tspan dy="-0.8"></tspan></text>
<text x="116.14" y="423.6" font-size="8.2" fill="#20c6c6" stroke="#20c6c6" stroke-width="0.05" text-anchor="end" textLength="35.1" lengthAdjust="spacingAndGlyphs" transform="rotate(-90 116.14 423.6)" dy="0.36em"><tspan>Li</tspan><tspan font-size="6.6" dy="0.8">2</tspan><tspan dy="-0.8"></tspan><tspan>PbTi</tspan><tspan font-size="6.6" dy="0.8">6</tspan><tspan dy="-0.8"></tspan><tspan>O</tspan><tspan font-size="6.6" dy="0.8">4</tspan><tspan dy="-0.8"></tspan></text>
<text x="130.27" y="423.6" font-size="8.2" fill="#9a30f0" stroke="#9a30f0" stroke-width="0.05" text-anchor="end" textLength="25" lengthAdjust="spacingAndGlyphs" transform="rotate(-90 130.27 423.6)" dy="0.36em"><tspan>LiCoO</tspan><tspan font-size="6.6" dy="0.8">2</tspan><tspan dy="-0.8"></tspan></text>
<text x="144.39" y="423.6" font-size="8.2" fill="#5ec09e" stroke="#5ec09e" stroke-width="0.05" text-anchor="end" textLength="35.1" lengthAdjust="spacingAndGlyphs" transform="rotate(-90 144.39 423.6)" dy="0.36em"><tspan>* β-Li</tspan><tspan font-size="6.6" dy="0.8">3</tspan><tspan dy="-0.8"></tspan><tspan>VO</tspan><tspan font-size="6.6" dy="0.8">4</tspan><tspan dy="-0.8"></tspan></text>
<text x="158.52" y="423.6" font-size="8.2" fill="#5a8ed2" stroke="#5a8ed2" stroke-width="0.05" text-anchor="end" textLength="36.5" lengthAdjust="spacingAndGlyphs" transform="rotate(-90 158.52 423.6)" dy="0.36em"><tspan>Li</tspan><tspan font-size="6.6" dy="0.8">2</tspan><tspan dy="-0.8"></tspan><tspan>SrTi</tspan><tspan font-size="6.6" dy="0.8">6</tspan><tspan dy="-0.8"></tspan><tspan>O</tspan><tspan font-size="6.6" dy="0.8">4</tspan><tspan dy="-0.8"></tspan></text>
<text x="172.64" y="423.6" font-size="8.2" fill="#e868b8" stroke="#e868b8" stroke-width="0.05" text-anchor="end" textLength="29" lengthAdjust="spacingAndGlyphs" transform="rotate(-90 172.64 423.6)" dy="0.36em"><tspan>LiFePO</tspan><tspan font-size="6.6" dy="0.8">4</tspan><tspan dy="-0.8"></tspan></text>
<text x="186.76" y="423.6" font-size="8.2" fill="#f86464" stroke="#f86464" stroke-width="0.05" text-anchor="end" textLength="15.7" lengthAdjust="spacingAndGlyphs" transform="rotate(-90 186.76 423.6)" dy="0.36em"><tspan>VO</tspan><tspan font-size="6.6" dy="0.8">2</tspan><tspan dy="-0.8"></tspan></text>
<text x="200.89" y="423.6" font-size="8.2" fill="#ff8010" stroke="#ff8010" stroke-width="0.05" text-anchor="end" textLength="30.1" lengthAdjust="spacingAndGlyphs" transform="rotate(-90 200.89 423.6)" dy="0.36em"><tspan>TiNb</tspan><tspan font-size="6.6" dy="0.8">2</tspan><tspan dy="-0.8"></tspan><tspan>O</tspan><tspan font-size="6.6" dy="0.8">7</tspan><tspan dy="-0.8"></tspan></text>
<text x="215.01" y="423.6" font-size="8.2" fill="#aa72e0" stroke="#aa72e0" stroke-width="0.05" text-anchor="end" textLength="44.9" lengthAdjust="spacingAndGlyphs" transform="rotate(-90 215.01 423.6)" dy="0.36em"><tspan>Cu</tspan><tspan font-size="6.6" dy="0.8">2</tspan><tspan dy="-0.8"></tspan><tspan>Nb</tspan><tspan font-size="6.6" dy="0.8">34</tspan><tspan dy="-0.8"></tspan><tspan>O</tspan><tspan font-size="6.6" dy="0.8">87</tspan><tspan dy="-0.8"></tspan></text>
<text x="229.14" y="423.6" font-size="8.2" fill="#30a850" stroke="#30a850" stroke-width="0.05" text-anchor="end" textLength="31.3" lengthAdjust="spacingAndGlyphs" transform="rotate(-90 229.14 423.6)" dy="0.36em"><tspan>VNb</tspan><tspan font-size="6.6" dy="0.8">9</tspan><tspan dy="-0.8"></tspan><tspan>O</tspan><tspan font-size="6.6" dy="0.8">25</tspan><tspan dy="-0.8"></tspan></text>
<text x="243.26" y="423.6" font-size="8.2" fill="#e8a000" stroke="#e8a000" stroke-width="0.05" text-anchor="end" textLength="28.8" lengthAdjust="spacingAndGlyphs" transform="rotate(-90 243.26 423.6)" dy="0.36em"><tspan>LiMnPO</tspan><tspan font-size="6.6" dy="0.8">4</tspan><tspan dy="-0.8"></tspan></text>
<text x="257.38" y="423.6" font-size="8.2" fill="#d84858" stroke="#d84858" stroke-width="0.05" text-anchor="end" textLength="26.4" lengthAdjust="spacingAndGlyphs" transform="rotate(-90 257.38 423.6)" dy="0.36em"><tspan>Graphite</tspan></text>
<text x="271.51" y="423.6" font-size="8.2" fill="#10a8e0" stroke="#10a8e0" stroke-width="0.05" text-anchor="end" textLength="33.8" lengthAdjust="spacingAndGlyphs" transform="rotate(-90 271.51 423.6)" dy="0.36em"><tspan>TiNb</tspan><tspan font-size="6.6" dy="0.8">24</tspan><tspan dy="-0.8"></tspan><tspan>O</tspan><tspan font-size="6.6" dy="0.8">20</tspan><tspan dy="-0.8"></tspan></text>
<text x="5.2" y="370.6" font-size="11.9" text-anchor="middle" class="k" transform="rotate(-90 5.2 370.6)" dy="0.35em">V variation (%)</text>
<text x="35.1" y="375.7" font-size="8.2" text-anchor="start" fill="#f01818" stroke="#f01818" stroke-width="0.16">this work</text>
<path d="M30.2 391.6 L31.18 393.95 L33.72 394.16 L31.78 395.81 L32.37 398.29 L30.2 396.97 L28.03 398.29 L28.62 395.81 L26.68 394.16 L29.22 393.95 Z" fill="#f01414"/>
<path d="M73.1 390.4 L74.08 392.75 L76.62 392.96 L74.68 394.61 L75.27 397.09 L73.1 395.77 L70.93 397.09 L71.52 394.61 L69.58 392.96 L72.12 392.75 Z" fill="#f01414"/>
<line x1="42.6" y1="380" x2="33" y2="391.4" stroke="#f01414" stroke-width="0.7" marker-end="url(#ah)"/>
<line x1="57.3" y1="379.1" x2="70.6" y2="391" stroke="#f01414" stroke-width="0.7" marker-end="url(#ah)"/>
<text x="303" y="324.3" font-size="13.5" text-anchor="start" fill="#000" stroke="#000" stroke-width="0.16">f</text>
<g clip-path="url(#f1clip)"><rect x="305" y="320.3" width="179.7" height="132.3" fill="url(#f1bg)"/><path d="M306 398 L316 402 L326 410 L336 418 L346 426 L358 431 L372 429 L386 424 L398 421 L404 428 L400 452 L306 452 Z" fill="#adadad" filter="url(#fblur2)"/><path d="M306 398 L316 402 L326 410 L336 418 L346 426 L358 431 L372 429 L386 424 L398 421 L404 428 L400 452 L306 452 Z" fill="#ffffff" filter="url(#fnoise)" opacity="0.16"/><path d="M454.1 327.9 L463.3 333.1 L473.8 337.1 L483 343.6 L483 364.7 L473.8 368.6 L463.3 367.3 L460.7 372.6 L459.4 381.8 L457 386 L458.5 360 L457.5 345 Z" fill="url(#f1lobe)" filter="url(#fblur)"/><path d="M452 322 L483 322 L483 343.6 L473.8 337.1 L463.3 333.1 L454.1 327.9 Z" fill="#151515" filter="url(#fblur)"/><path d="M342.5 322 L452.8 322 L456.8 333.1 L459.4 346.3 L460.7 359.4 L461.3 367.3 L460.7 372.6 L460.5 381 L460.7 389.2 L456.8 397.1 L450.2 401 L444.9 405 L434.4 407.6 L414.7 410.2 L402.9 412.8 L395 416.8 L383.8 419.4 L373.3 422 L369.4 426 L361.5 424.7 L354.9 418.1 L350.3 410.2 L349.7 406.3 L343.1 408.2 L337.2 405 L336.5 398.4 L326.7 390.5 L324.7 385.7 L326 381.8 L331.3 372.6 L335.2 362 L333.9 345 L338.5 335.8 Z" fill="#5a5a5a" stroke="#666" stroke-width="1.6" filter="url(#fblur)"/><path d="M342.5 322 L452.8 322 L456.8 333.1 L459.4 346.3 L460.7 359.4 L461.3 367.3 L460.7 372.6 L460.5 381 L460.7 389.2 L456.8 397.1 L450.2 401 L444.9 405 L434.4 407.6 L414.7 410.2 L402.9 412.8 L395 416.8 L383.8 419.4 L373.3 422 L369.4 426 L361.5 424.7 L354.9 418.1 L350.3 410.2 L349.7 406.3 L343.1 408.2 L337.2 405 L336.5 398.4 L326.7 390.5 L324.7 385.7 L326 381.8 L331.3 372.6 L335.2 362 L333.9 345 L338.5 335.8 Z" fill="url(#f1core)" stroke="url(#f1core)" stroke-width="0.6"/><g clip-path="url(#f1cc)"><path d="M342.5 322 L452.8 322 L456.8 333.1 L459.4 346.3 L460.7 359.4 L461.3 367.3 L460.7 372.6 L460.5 381 L460.7 389.2 L456.8 397.1 L450.2 401 L444.9 405 L434.4 407.6 L414.7 410.2 L402.9 412.8 L395 416.8 L383.8 419.4 L373.3 422 L369.4 426 L361.5 424.7 L354.9 418.1 L350.3 410.2 L349.7 406.3 L343.1 408.2 L337.2 405 L336.5 398.4 L326.7 390.5 L324.7 385.7 L326 381.8 L331.3 372.6 L335.2 362 L333.9 345 L338.5 335.8 Z" fill="none" stroke="#4a4a4a" stroke-width="7" filter="url(#fblur2)" opacity="0.85"/></g><ellipse cx="343" cy="404" rx="4.2" ry="3.2" fill="#6a6a6a" filter="url(#fblur)"/><ellipse cx="357" cy="417" rx="5" ry="4.5" fill="#626262" filter="url(#fblur)"/><ellipse cx="326" cy="324.5" rx="6" ry="3.5" fill="#707070" filter="url(#fblur)"/></g>
<text x="312.4" y="336.4" font-size="12.6" text-anchor="start" fill="#fff" stroke="#fff" stroke-width="0.16">11 s</text>
<text x="388.6" y="361.5" font-size="13.3" text-anchor="start" fill="#fff" stroke="#fff" stroke-width="0.16">KVO</text>
<text x="429.8" y="431.9" font-size="13.2" text-anchor="start" fill="#fff" stroke="#fff" stroke-width="0.16">500 nm</text>
<rect x="426.9" y="436.8" width="51.1" height="7.6" fill="#fff"/>
<text x="313.9" y="440.4" font-size="12.7" fill="#fff" stroke="#fff" stroke-width="0.16">Li/Li<tspan font-size="8">2</tspan>O</text>
<g clip-path="url(#f2clip)"><rect x="489.3" y="321.1" width="192.8" height="130" fill="url(#f2bg)"/><path d="M490 406 L500 410 L512 416 L524 424 L540 430 L556 428 L572 424 L586 420 L590 450 L490 450 Z" fill="#adadad" filter="url(#fblur2)"/><path d="M490 406 L500 410 L512 416 L524 424 L540 430 L556 428 L572 424 L586 420 L590 450 L490 450 Z" fill="#ffffff" filter="url(#fnoise)" opacity="0.16"/><path d="M637.7 323.9 L645.4 328.7 L654.1 335 L662.8 337.4 L667.1 344 L668.2 352.7 L665 359.2 L658.4 361.4 L649.7 360.3 L645.4 363.6 L641 341.8 Z" fill="url(#f2lobe)" filter="url(#fblur)"/><path d="M637.7 322.5 L681 322.5 L681 342.9 L671.5 340.2 L662.8 337.4 L654.1 335 L645.4 328.7 Z" fill="#151515" filter="url(#fblur)"/><path d="M513.4 322.5 L637.7 322.5 L641 341.8 L645.4 363.6 L645.4 374.5 L643.2 385.4 L638.8 395.2 L630.1 399.5 L619.2 401.7 L601.8 405 L590.9 409.3 L580 415.9 L561.9 420.2 L555.4 424.6 L548.8 426.8 L540.1 422.4 L533.6 418.1 L529.2 411.5 L524.9 408.3 L518.3 409.3 L514 405 L511.8 398.4 L503.1 394.1 L499.8 387.6 L500.9 383.2 L505.3 374.5 L507.2 362 L507.5 349.2 L509.7 338.2 Z" fill="#5a5a5a" stroke="#666" stroke-width="1.6" filter="url(#fblur)"/><path d="M513.4 322.5 L637.7 322.5 L641 341.8 L645.4 363.6 L645.4 374.5 L643.2 385.4 L638.8 395.2 L630.1 399.5 L619.2 401.7 L601.8 405 L590.9 409.3 L580 415.9 L561.9 420.2 L555.4 424.6 L548.8 426.8 L540.1 422.4 L533.6 418.1 L529.2 411.5 L524.9 408.3 L518.3 409.3 L514 405 L511.8 398.4 L503.1 394.1 L499.8 387.6 L500.9 383.2 L505.3 374.5 L507.2 362 L507.5 349.2 L509.7 338.2 Z" fill="url(#f2core)" stroke="url(#f2core)" stroke-width="0.6"/><g clip-path="url(#f2cc)"><path d="M513.4 322.5 L637.7 322.5 L641 341.8 L645.4 363.6 L645.4 374.5 L643.2 385.4 L638.8 395.2 L630.1 399.5 L619.2 401.7 L601.8 405 L590.9 409.3 L580 415.9 L561.9 420.2 L555.4 424.6 L548.8 426.8 L540.1 422.4 L533.6 418.1 L529.2 411.5 L524.9 408.3 L518.3 409.3 L514 405 L511.8 398.4 L503.1 394.1 L499.8 387.6 L500.9 383.2 L505.3 374.5 L507.2 362 L507.5 349.2 L509.7 338.2 Z" fill="none" stroke="#4a4a4a" stroke-width="7" filter="url(#fblur2)" opacity="0.85"/></g><ellipse cx="517" cy="403" rx="4.2" ry="3.2" fill="#6a6a6a" filter="url(#fblur)"/><ellipse cx="532" cy="416" rx="5" ry="4.5" fill="#626262" filter="url(#fblur)"/><ellipse cx="498" cy="332" rx="7" ry="8" fill="#707070" filter="url(#fblur)"/></g>
<text x="496.1" y="337" font-size="12.6" text-anchor="start" fill="#fff" stroke="#fff" stroke-width="0.16">39 s</text>
<text x="566.2" y="361.7" font-size="13.3" text-anchor="start" fill="#fff" stroke="#fff" stroke-width="0.16">KVO</text>
<text x="627.6" y="432.2" font-size="13.2" text-anchor="start" fill="#fff" stroke="#fff" stroke-width="0.16">500 nm</text>
<rect x="624.7" y="437.2" width="51.2" height="6.5" fill="#fff"/>
<text x="504.8" y="442" font-size="12.7" fill="#fff" stroke="#fff" stroke-width="0.16">Li/Li<tspan font-size="8">2</tspan>O</text>
<text x="14.3" y="476" font-size="13.5" text-anchor="start" fill="#000" stroke="#000" stroke-width="0.16">g</text>
<g transform="translate(0 0)"><path d="M49.41 510.6 Q50.2 509.7 51.38 509.9 L60.22 511.4 Q61.4 511.6 61.9 512.69 L67.2 524.11 Q67.7 525.2 66.71 525.88 L57.49 532.22 Q56.5 532.9 55.32 532.69 L51.38 532.01 Q50.2 531.8 49.45 530.86 L41.75 521.14 Q41 520.2 41.79 519.3 Z" fill="url(#pg_light)"/><path d="M77.7 506 Q77.7 504.8 78.9 504.83 L89.8 505.07 Q91 505.1 92.17 505.38 L106.03 508.72 Q107.2 509 107.06 510.19 L104.54 532.41 Q104.4 533.6 103.2 533.54 L92.2 532.96 Q91 532.9 89.84 532.59 L78.86 529.71 Q77.7 529.4 77.7 528.2 Z" fill="url(#pg_light)"/><path d="M32.39 536.48 Q33.3 535.7 34.5 535.7 L43.3 535.7 Q44.5 535.7 45.21 536.66 L49.49 542.44 Q50.2 543.4 49.89 544.56 L47.01 555.54 Q46.7 556.7 45.55 557.06 L36.55 559.84 Q35.4 560.2 34.67 559.25 L27.03 549.25 Q26.3 548.3 26.59 547.14 L28.11 541.06 Q28.4 539.9 29.31 539.12 Z" fill="url(#pg_light)"/><path d="M56.14 542.2 Q56.2 541 57.4 541 L61.6 541 Q62.8 541 63.12 542.16 L64.58 547.54 Q64.9 548.7 63.7 548.7 L57 548.7 Q55.8 548.7 55.86 547.5 Z" fill="url(#pg_light)"/><path d="M52.79 554.68 Q53.7 553.9 54.88 553.7 L60.92 552.7 Q62.1 552.5 63.1 553.17 L69.5 557.43 Q70.5 558.1 70.96 559.21 L73.54 565.39 Q74 566.5 73.36 567.51 L68.34 575.39 Q67.7 576.4 66.51 576.55 L57.69 577.65 Q56.5 577.8 55.66 576.95 L48.94 570.15 Q48.1 569.3 48.17 568.1 L48.73 559.3 Q48.8 558.1 49.71 557.32 Z" fill="url(#pg_light)"/><path d="M76.5 540.29 Q77 539.2 78.17 538.95 L85.63 537.35 Q86.8 537.1 87.65 537.95 L91.55 541.85 Q92.4 542.7 92.86 543.81 L94.54 547.89 Q95 549 94.62 550.14 L92.78 555.56 Q92.4 556.7 91.25 557.04 L85.15 558.86 Q84 559.2 82.85 558.86 L76.75 557.04 Q75.6 556.7 75.15 555.59 L72.95 550.11 Q72.5 549 73 547.91 Z" fill="url(#pg_light)"/><path d="M116.26 524.17 Q116.8 523.1 117.95 522.76 L125.55 520.54 Q126.7 520.2 127.85 520.55 L139.55 524.15 Q140.7 524.5 141.39 525.48 L143.91 529.12 Q144.6 530.1 144.39 531.28 L141.61 547.12 Q141.4 548.3 140.63 549.22 L138.67 551.58 Q137.9 552.5 136.75 552.16 L124.95 548.64 Q123.8 548.3 122.75 547.72 L112.25 541.88 Q111.2 541.3 111.05 540.11 L110.65 536.89 Q110.5 535.7 111.04 534.63 Z" fill="url(#pg_light)"/><path d="M93.81 566.08 Q94.5 565.1 95.7 565.03 L99.9 564.77 Q101.1 564.7 101.18 565.9 L101.52 570.9 Q101.6 572.1 100.4 572.1 L90.8 572.1 Q89.6 572.1 90.29 571.12 Z" fill="url(#pg_light)"/><path d="M108.05 556.45 Q108.4 555.3 109.59 555.17 L119.81 554.03 Q121 553.9 121.96 554.61 L128.54 559.49 Q129.5 560.2 129.67 561.39 L130.93 570.21 Q131.1 571.4 130.13 572.11 L129.07 572.89 Q128.1 573.6 126.91 573.73 L116.59 574.87 Q115.4 575 114.51 574.19 L108.59 568.81 Q107.7 568 107.53 566.81 L106.87 562.09 Q106.7 560.9 107.05 559.75 Z" fill="url(#pg_light)"/><path clip-path="url(#cp_P6)" d="M144.6 530.1 L141.4 548.3 L137.9 552.5" fill="none" stroke="#8a84b8" stroke-width="2" stroke-linecap="round" stroke-linejoin="round" filter="url(#gblur)"/><path clip-path="url(#cp_P3)" d="M50.2 543.4 L46.7 556.7 L44 558.5" fill="none" stroke="#8a84b8" stroke-width="1.6" stroke-linecap="round" stroke-linejoin="round" filter="url(#gblur)"/><path clip-path="url(#cp_P7)" d="M129.5 560.2 L131.1 571.4 L128.1 573.6" fill="none" stroke="#8a84b8" stroke-width="2" stroke-linecap="round" stroke-linejoin="round" filter="url(#gblur)"/><path clip-path="url(#cp_P5)" d="M92.4 542.7 L95 549 L92.4 556.7" fill="none" stroke="#8a84b8" stroke-width="1.4" stroke-linecap="round" stroke-linejoin="round" filter="url(#gblur)"/><path clip-path="url(#cp_P1)" d="M50.2 509.7 L61.4 511.6" fill="none" stroke="#8a84b8" stroke-width="1.2" stroke-linecap="round" stroke-linejoin="round" filter="url(#gblur)"/></g>
<path d="M72.6 507.3 L74.5 509.2 L72.6 511.1 L70.7 509.2 Z" fill="#c8c4e0"/>
<path d="M80.4 570.5 L82.1 572.2 L80.4 573.9 L78.7 572.2 Z" fill="#c8c4e0"/>
<path d="M107.2 546.9 L108.9 548.6 L107.2 550.3 L105.5 548.6 Z" fill="#c8c4e0"/>
<text x="89.2" y="488.5" font-size="11.4" text-anchor="middle" fill="#000" stroke="#000" stroke-width="0.16">20% DOD</text>
<g transform="translate(127.5 -1.5)"><path d="M49.41 510.6 Q50.2 509.7 51.38 509.9 L60.22 511.4 Q61.4 511.6 61.9 512.69 L67.2 524.11 Q67.7 525.2 66.71 525.88 L57.49 532.22 Q56.5 532.9 55.32 532.69 L51.38 532.01 Q50.2 531.8 49.45 530.86 L41.75 521.14 Q41 520.2 41.79 519.3 Z" fill="url(#pg_mid)"/><path d="M77.7 506 Q77.7 504.8 78.9 504.83 L89.8 505.07 Q91 505.1 92.17 505.38 L106.03 508.72 Q107.2 509 107.06 510.19 L104.54 532.41 Q104.4 533.6 103.2 533.54 L92.2 532.96 Q91 532.9 89.84 532.59 L78.86 529.71 Q77.7 529.4 77.7 528.2 Z" fill="url(#pg_mid)"/><path d="M32.39 536.48 Q33.3 535.7 34.5 535.7 L43.3 535.7 Q44.5 535.7 45.21 536.66 L49.49 542.44 Q50.2 543.4 49.89 544.56 L47.01 555.54 Q46.7 556.7 45.55 557.06 L36.55 559.84 Q35.4 560.2 34.67 559.25 L27.03 549.25 Q26.3 548.3 26.59 547.14 L28.11 541.06 Q28.4 539.9 29.31 539.12 Z" fill="url(#pg_mid)"/><path d="M56.14 542.2 Q56.2 541 57.4 541 L61.6 541 Q62.8 541 63.12 542.16 L64.58 547.54 Q64.9 548.7 63.7 548.7 L57 548.7 Q55.8 548.7 55.86 547.5 Z" fill="url(#pg_mid)"/><path d="M52.79 554.68 Q53.7 553.9 54.88 553.7 L60.92 552.7 Q62.1 552.5 63.1 553.17 L69.5 557.43 Q70.5 558.1 70.96 559.21 L73.54 565.39 Q74 566.5 73.36 567.51 L68.34 575.39 Q67.7 576.4 66.51 576.55 L57.69 577.65 Q56.5 577.8 55.66 576.95 L48.94 570.15 Q48.1 569.3 48.17 568.1 L48.73 559.3 Q48.8 558.1 49.71 557.32 Z" fill="url(#pg_mid)"/><path d="M76.5 540.29 Q77 539.2 78.17 538.95 L85.63 537.35 Q86.8 537.1 87.65 537.95 L91.55 541.85 Q92.4 542.7 92.86 543.81 L94.54 547.89 Q95 549 94.62 550.14 L92.78 555.56 Q92.4 556.7 91.25 557.04 L85.15 558.86 Q84 559.2 82.85 558.86 L76.75 557.04 Q75.6 556.7 75.15 555.59 L72.95 550.11 Q72.5 549 73 547.91 Z" fill="url(#pg_mid)"/><path d="M116.26 524.17 Q116.8 523.1 117.95 522.76 L125.55 520.54 Q126.7 520.2 127.85 520.55 L139.55 524.15 Q140.7 524.5 141.39 525.48 L143.91 529.12 Q144.6 530.1 144.39 531.28 L141.61 547.12 Q141.4 548.3 140.63 549.22 L138.67 551.58 Q137.9 552.5 136.75 552.16 L124.95 548.64 Q123.8 548.3 122.75 547.72 L112.25 541.88 Q111.2 541.3 111.05 540.11 L110.65 536.89 Q110.5 535.7 111.04 534.63 Z" fill="url(#pg_mid)"/><path d="M93.81 566.08 Q94.5 565.1 95.7 565.03 L99.9 564.77 Q101.1 564.7 101.18 565.9 L101.52 570.9 Q101.6 572.1 100.4 572.1 L90.8 572.1 Q89.6 572.1 90.29 571.12 Z" fill="url(#pg_mid)"/><path d="M108.05 556.45 Q108.4 555.3 109.59 555.17 L119.81 554.03 Q121 553.9 121.96 554.61 L128.54 559.49 Q129.5 560.2 129.67 561.39 L130.93 570.21 Q131.1 571.4 130.13 572.11 L129.07 572.89 Q128.1 573.6 126.91 573.73 L116.59 574.87 Q115.4 575 114.51 574.19 L108.59 568.81 Q107.7 568 107.53 566.81 L106.87 562.09 Q106.7 560.9 107.05 559.75 Z" fill="url(#pg_mid)"/><path clip-path="url(#cp_P6)" d="M116.8 523.1 L110.5 535.7 L111.2 541.3 L118 545" fill="none" stroke="#28cce0" stroke-width="3.2" stroke-linecap="round" stroke-linejoin="round" filter="url(#gblur)"/><path clip-path="url(#cp_P3)" d="M28.4 539.9 L33.3 535.7 L40 535.7" fill="none" stroke="#40c0f0" stroke-width="2.6" stroke-linecap="round" stroke-linejoin="round" filter="url(#gblur)"/><path clip-path="url(#cp_P6)" d="M144.6 530.1 L141.4 548.3 L137.9 552.5" fill="none" stroke="#5040b0" stroke-width="1.6" stroke-linecap="round" stroke-linejoin="round" filter="url(#gblur)"/><path clip-path="url(#cp_P1)" d="M67.7 525.2 L62 529" fill="none" stroke="#28cce0" stroke-width="2.4" stroke-linecap="round" stroke-linejoin="round" filter="url(#gblur)"/><path clip-path="url(#cp_P7)" d="M131.1 571.4 L128.1 573.6" fill="none" stroke="#30a0d0" stroke-width="2" stroke-linecap="round" stroke-linejoin="round" filter="url(#gblur)"/><path clip-path="url(#cp_T2)" d="M89.6 572.1 L94.5 565.1 L101.1 564.7" fill="none" stroke="#20c0c0" stroke-width="4.5" stroke-linecap="round" stroke-linejoin="round" filter="url(#gblur)"/></g>
<path d="M200.1 505.8 L202 507.7 L200.1 509.6 L198.2 507.7 Z" fill="#30c8e0"/>
<path d="M207.9 569 L209.6 570.7 L207.9 572.4 L206.2 570.7 Z" fill="#30c8e0"/>
<path d="M234.7 545.4 L236.4 547.1 L234.7 548.8 L233 547.1 Z" fill="#30c8e0"/>
<text x="222.4" y="488.5" font-size="11.4" text-anchor="middle" fill="#000" stroke="#000" stroke-width="0.16">70% DOD</text>
<g transform="translate(257 -2.2)"><path d="M49.41 510.6 Q50.2 509.7 51.38 509.9 L60.22 511.4 Q61.4 511.6 61.9 512.69 L67.2 524.11 Q67.7 525.2 66.71 525.88 L57.49 532.22 Q56.5 532.9 55.32 532.69 L51.38 532.01 Q50.2 531.8 49.45 530.86 L41.75 521.14 Q41 520.2 41.79 519.3 Z" fill="url(#pg_deep)"/><path d="M77.7 506 Q77.7 504.8 78.9 504.83 L89.8 505.07 Q91 505.1 92.17 505.38 L106.03 508.72 Q107.2 509 107.06 510.19 L104.54 532.41 Q104.4 533.6 103.2 533.54 L92.2 532.96 Q91 532.9 89.84 532.59 L78.86 529.71 Q77.7 529.4 77.7 528.2 Z" fill="url(#pg_deep)"/><path d="M32.39 536.48 Q33.3 535.7 34.5 535.7 L43.3 535.7 Q44.5 535.7 45.21 536.66 L49.49 542.44 Q50.2 543.4 49.89 544.56 L47.01 555.54 Q46.7 556.7 45.55 557.06 L36.55 559.84 Q35.4 560.2 34.67 559.25 L27.03 549.25 Q26.3 548.3 26.59 547.14 L28.11 541.06 Q28.4 539.9 29.31 539.12 Z" fill="url(#pg_deep)"/><path d="M56.14 542.2 Q56.2 541 57.4 541 L61.6 541 Q62.8 541 63.12 542.16 L64.58 547.54 Q64.9 548.7 63.7 548.7 L57 548.7 Q55.8 548.7 55.86 547.5 Z" fill="url(#pg_deep)"/><path d="M52.79 554.68 Q53.7 553.9 54.88 553.7 L60.92 552.7 Q62.1 552.5 63.1 553.17 L69.5 557.43 Q70.5 558.1 70.96 559.21 L73.54 565.39 Q74 566.5 73.36 567.51 L68.34 575.39 Q67.7 576.4 66.51 576.55 L57.69 577.65 Q56.5 577.8 55.66 576.95 L48.94 570.15 Q48.1 569.3 48.17 568.1 L48.73 559.3 Q48.8 558.1 49.71 557.32 Z" fill="url(#pg_deep)"/><path d="M76.5 540.29 Q77 539.2 78.17 538.95 L85.63 537.35 Q86.8 537.1 87.65 537.95 L91.55 541.85 Q92.4 542.7 92.86 543.81 L94.54 547.89 Q95 549 94.62 550.14 L92.78 555.56 Q92.4 556.7 91.25 557.04 L85.15 558.86 Q84 559.2 82.85 558.86 L76.75 557.04 Q75.6 556.7 75.15 555.59 L72.95 550.11 Q72.5 549 73 547.91 Z" fill="url(#pg_deep)"/><path d="M116.26 524.17 Q116.8 523.1 117.95 522.76 L125.55 520.54 Q126.7 520.2 127.85 520.55 L139.55 524.15 Q140.7 524.5 141.39 525.48 L143.91 529.12 Q144.6 530.1 144.39 531.28 L141.61 547.12 Q141.4 548.3 140.63 549.22 L138.67 551.58 Q137.9 552.5 136.75 552.16 L124.95 548.64 Q123.8 548.3 122.75 547.72 L112.25 541.88 Q111.2 541.3 111.05 540.11 L110.65 536.89 Q110.5 535.7 111.04 534.63 Z" fill="url(#pg_deep)"/><path d="M93.81 566.08 Q94.5 565.1 95.7 565.03 L99.9 564.77 Q101.1 564.7 101.18 565.9 L101.52 570.9 Q101.6 572.1 100.4 572.1 L90.8 572.1 Q89.6 572.1 90.29 571.12 Z" fill="url(#pg_deep)"/><path d="M108.05 556.45 Q108.4 555.3 109.59 555.17 L119.81 554.03 Q121 553.9 121.96 554.61 L128.54 559.49 Q129.5 560.2 129.67 561.39 L130.93 570.21 Q131.1 571.4 130.13 572.11 L129.07 572.89 Q128.1 573.6 126.91 573.73 L116.59 574.87 Q115.4 575 114.51 574.19 L108.59 568.81 Q107.7 568 107.53 566.81 L106.87 562.09 Q106.7 560.9 107.05 559.75 Z" fill="url(#pg_deep)"/><path clip-path="url(#cp_P6)" d="M118.5 521.5 L110.5 535.7 L111.2 541.3 L124.5 549" fill="none" stroke="#30c8e8" stroke-width="9" stroke-linecap="round" stroke-linejoin="round" filter="url(#gblur)"/><path clip-path="url(#cp_P6)" d="M118.5 521.5 L110.5 535.7 L111.2 541.3 L124.5 549" fill="none" stroke="#40d880" stroke-width="5.5" stroke-linecap="round" stroke-linejoin="round" filter="url(#gblur)"/><path clip-path="url(#cp_P6)" d="M118.5 521.5 L110.5 535.7 L111.2 541.3 L124.5 549" fill="none" stroke="#f0c020" stroke-width="3.4" stroke-linecap="round" stroke-linejoin="round" filter="url(#gblur)"/><path clip-path="url(#cp_P6)" d="M116 527 L110.5 535.7 L111.2 541.3 L116 544" fill="none" stroke="#e02020" stroke-width="1.8" stroke-linecap="round" stroke-linejoin="round" filter="url(#gblur)"/><path clip-path="url(#cp_P6)" d="M141.4 548.3 L137.9 552.5" fill="none" stroke="#30b0e0" stroke-width="2" stroke-linecap="round" stroke-linejoin="round" filter="url(#gblur)"/><path clip-path="url(#cp_P1)" d="M67.7 525.2 L56.5 532.9 L52 532.5" fill="none" stroke="#30c8e0" stroke-width="3.2" stroke-linecap="round" stroke-linejoin="round" filter="url(#gblur)"/><path clip-path="url(#cp_P1)" d="M67.7 524 L66 527" fill="none" stroke="#e04020" stroke-width="1.6" stroke-linecap="round" stroke-linejoin="round" filter="url(#gblur)"/><path clip-path="url(#cp_P2)" d="M77.7 529.4 L91 532.9 L104.4 533.6" fill="none" stroke="#30c8e0" stroke-width="2.6" stroke-linecap="round" stroke-linejoin="round" filter="url(#gblur)"/><path clip-path="url(#cp_P2)" d="M107.2 509 L104.4 533.6" fill="none" stroke="#30c8e0" stroke-width="1.4" stroke-linecap="round" stroke-linejoin="round" filter="url(#gblur)"/><path clip-path="url(#cp_P3)" d="M28.4 539.9 L33.3 535.7 L44.5 535.7 L50.2 543.4" fill="none" stroke="#30c8e0" stroke-width="4.2" stroke-linecap="round" stroke-linejoin="round" filter="url(#gblur)"/><path clip-path="url(#cp_P3)" d="M40 535.7 L44.5 535.7 L47 539" fill="none" stroke="#b0e040" stroke-width="2.4" stroke-linecap="round" stroke-linejoin="round" filter="url(#gblur)"/><path clip-path="url(#cp_P3)" d="M46.7 556.7 L35.4 560.2" fill="none" stroke="#30c8e0" stroke-width="2.4" stroke-linecap="round" stroke-linejoin="round" filter="url(#gblur)"/><path clip-path="url(#cp_T1)" d="M56.2 541 L62.8 541" fill="none" stroke="#30c8c0" stroke-width="8" stroke-linecap="round" stroke-linejoin="round" filter="url(#gblur)"/><path clip-path="url(#cp_T1)" d="M56.2 541 L57.5 543" fill="none" stroke="#e04020" stroke-width="2" stroke-linecap="round" stroke-linejoin="round" filter="url(#gblur)"/><path clip-path="url(#cp_P4)" d="M48.8 558.1 L53.7 553.9 L58 553" fill="none" stroke="#30c8e0" stroke-width="2.6" stroke-linecap="round" stroke-linejoin="round" filter="url(#gblur)"/><path clip-path="url(#cp_P4)" d="M48.1 569.3 L56.5 577.8 L67.7 576.4" fill="none" stroke="#30c8e0" stroke-width="2.6" stroke-linecap="round" stroke-linejoin="round" filter="url(#gblur)"/><path clip-path="url(#cp_P5)" d="M72.5 549 L75.6 556.7 L84 559.2" fill="none" stroke="#30c8e0" stroke-width="3.2" stroke-linecap="round" stroke-linejoin="round" filter="url(#gblur)"/><path clip-path="url(#cp_P5)" d="M73 552 L74.5 555" fill="none" stroke="#e04020" stroke-width="1.6" stroke-linecap="round" stroke-linejoin="round" filter="url(#gblur)"/><path clip-path="url(#cp_P5)" d="M95 549 L92.4 556.7" fill="none" stroke="#30c8e0" stroke-width="1.8" stroke-linecap="round" stroke-linejoin="round" filter="url(#gblur)"/><path clip-path="url(#cp_P7)" d="M108.4 555.3 L121 553.9" fill="none" stroke="#30c8e0" stroke-width="2" stroke-linecap="round" stroke-linejoin="round" filter="url(#gblur)"/><path clip-path="url(#cp_P7)" d="M129.5 560.2 L131.1 571.4 L128.1 573.6" fill="none" stroke="#30c8e0" stroke-width="5" stroke-linecap="round" stroke-linejoin="round" filter="url(#gblur)"/><path clip-path="url(#cp_P7)" d="M129.5 560.2 L131.1 571.4 L128.1 573.6" fill="none" stroke="#90e040" stroke-width="3" stroke-linecap="round" stroke-linejoin="round" filter="url(#gblur)"/><path clip-path="url(#cp_P7)" d="M129.5 560.2 L131.1 571.4 L128.1 573.6" fill="none" stroke="#f0c020" stroke-width="1.4" stroke-linecap="round" stroke-linejoin="round" filter="url(#gblur)"/><path clip-path="url(#cp_T2)" d="M89.6 572.1 L101.6 572.1" fill="none" stroke="#60d0a0" stroke-width="9" stroke-linecap="round" stroke-linejoin="round" filter="url(#gblur)"/><path clip-path="url(#cp_T2)" d="M89.6 572.1 L94.5 565.1 L101.1 564.7" fill="none" stroke="#f0c020" stroke-width="2.6" stroke-linecap="round" stroke-linejoin="round" filter="url(#gblur)"/><path clip-path="url(#cp_T2)" d="M89.6 572.1 L94.5 565.1 L101.1 564.7" fill="none" stroke="#e02020" stroke-width="1.3" stroke-linecap="round" stroke-linejoin="round" filter="url(#gblur)"/></g>
<path d="M329.6 505.1 L331.5 507 L329.6 508.9 L327.7 507 Z" fill="#f0b020"/>
<path d="M329.6 506.14 L330.46 507 L329.6 507.86 L328.75 507 Z" fill="#e04020"/>
<path d="M337.4 568.3 L339.1 570 L337.4 571.7 L335.7 570 Z" fill="#f0b020"/>
<path d="M337.4 569.24 L338.16 570 L337.4 570.76 L336.63 570 Z" fill="#e04020"/>
<path d="M364.2 544.7 L365.9 546.4 L364.2 548.1 L362.5 546.4 Z" fill="#f0b020"/>
<path d="M364.2 545.63 L364.96 546.4 L364.2 547.16 L363.44 546.4 Z" fill="#e04020"/>
<text x="347" y="488.5" font-size="11.4" text-anchor="middle" fill="#000" stroke="#000" stroke-width="0.16">90% DOD</text>
<g transform="translate(393 -3)"><path d="M49.41 510.6 Q50.2 509.7 51.38 509.9 L60.22 511.4 Q61.4 511.6 61.9 512.69 L67.2 524.11 Q67.7 525.2 66.71 525.88 L57.49 532.22 Q56.5 532.9 55.32 532.69 L51.38 532.01 Q50.2 531.8 49.45 530.86 L41.75 521.14 Q41 520.2 41.79 519.3 Z" fill="url(#pg_mid)"/><path d="M77.7 506 Q77.7 504.8 78.9 504.83 L89.8 505.07 Q91 505.1 92.17 505.38 L106.03 508.72 Q107.2 509 107.06 510.19 L104.54 532.41 Q104.4 533.6 103.2 533.54 L92.2 532.96 Q91 532.9 89.84 532.59 L78.86 529.71 Q77.7 529.4 77.7 528.2 Z" fill="url(#pg_mid)"/><path d="M32.39 536.48 Q33.3 535.7 34.5 535.7 L43.3 535.7 Q44.5 535.7 45.21 536.66 L49.49 542.44 Q50.2 543.4 49.89 544.56 L47.01 555.54 Q46.7 556.7 45.55 557.06 L36.55 559.84 Q35.4 560.2 34.67 559.25 L27.03 549.25 Q26.3 548.3 26.59 547.14 L28.11 541.06 Q28.4 539.9 29.31 539.12 Z" fill="url(#pg_mid)"/><path d="M56.14 542.2 Q56.2 541 57.4 541 L61.6 541 Q62.8 541 63.12 542.16 L64.58 547.54 Q64.9 548.7 63.7 548.7 L57 548.7 Q55.8 548.7 55.86 547.5 Z" fill="url(#pg_mid)"/><path d="M52.79 554.68 Q53.7 553.9 54.88 553.7 L60.92 552.7 Q62.1 552.5 63.1 553.17 L69.5 557.43 Q70.5 558.1 70.96 559.21 L73.54 565.39 Q74 566.5 73.36 567.51 L68.34 575.39 Q67.7 576.4 66.51 576.55 L57.69 577.65 Q56.5 577.8 55.66 576.95 L48.94 570.15 Q48.1 569.3 48.17 568.1 L48.73 559.3 Q48.8 558.1 49.71 557.32 Z" fill="url(#pg_mid)"/><path d="M76.5 540.29 Q77 539.2 78.17 538.95 L85.63 537.35 Q86.8 537.1 87.65 537.95 L91.55 541.85 Q92.4 542.7 92.86 543.81 L94.54 547.89 Q95 549 94.62 550.14 L92.78 555.56 Q92.4 556.7 91.25 557.04 L85.15 558.86 Q84 559.2 82.85 558.86 L76.75 557.04 Q75.6 556.7 75.15 555.59 L72.95 550.11 Q72.5 549 73 547.91 Z" fill="url(#pg_mid)"/><path d="M116.26 524.17 Q116.8 523.1 117.95 522.76 L125.55 520.54 Q126.7 520.2 127.85 520.55 L139.55 524.15 Q140.7 524.5 141.39 525.48 L143.91 529.12 Q144.6 530.1 144.39 531.28 L141.61 547.12 Q141.4 548.3 140.63 549.22 L138.67 551.58 Q137.9 552.5 136.75 552.16 L124.95 548.64 Q123.8 548.3 122.75 547.72 L112.25 541.88 Q111.2 541.3 111.05 540.11 L110.65 536.89 Q110.5 535.7 111.04 534.63 Z" fill="url(#pg_mid)"/><path d="M93.81 566.08 Q94.5 565.1 95.7 565.03 L99.9 564.77 Q101.1 564.7 101.18 565.9 L101.52 570.9 Q101.6 572.1 100.4 572.1 L90.8 572.1 Q89.6 572.1 90.29 571.12 Z" fill="url(#pg_mid)"/><path d="M108.05 556.45 Q108.4 555.3 109.59 555.17 L119.81 554.03 Q121 553.9 121.96 554.61 L128.54 559.49 Q129.5 560.2 129.67 561.39 L130.93 570.21 Q131.1 571.4 130.13 572.11 L129.07 572.89 Q128.1 573.6 126.91 573.73 L116.59 574.87 Q115.4 575 114.51 574.19 L108.59 568.81 Q107.7 568 107.53 566.81 L106.87 562.09 Q106.7 560.9 107.05 559.75 Z" fill="url(#pg_mid)"/><path clip-path="url(#cp_P6)" d="M116.8 523.1 L110.5 535.7 L111.2 541.3 L118 545" fill="none" stroke="#28cce0" stroke-width="3" stroke-linecap="round" stroke-linejoin="round" filter="url(#gblur)"/><path clip-path="url(#cp_P3)" d="M28.4 539.9 L33.3 535.7 L40 535.7" fill="none" stroke="#40c0f0" stroke-width="2.4" stroke-linecap="round" stroke-linejoin="round" filter="url(#gblur)"/><path clip-path="url(#cp_P7)" d="M131.1 571.4 L128.1 573.6" fill="none" stroke="#30a0d0" stroke-width="2" stroke-linecap="round" stroke-linejoin="round" filter="url(#gblur)"/><path clip-path="url(#cp_P6)" d="M144.6 530.1 L141.4 548.3 L137.9 552.5" fill="none" stroke="#5040b0" stroke-width="1.6" stroke-linecap="round" stroke-linejoin="round" filter="url(#gblur)"/><path clip-path="url(#cp_P1)" d="M67.7 525.2 L62 529" fill="none" stroke="#28cce0" stroke-width="2" stroke-linecap="round" stroke-linejoin="round" filter="url(#gblur)"/></g>
<path d="M465.6 504.3 L467.5 506.2 L465.6 508.1 L463.7 506.2 Z" fill="#30b8e8"/>
<path d="M473.4 567.5 L475.1 569.2 L473.4 570.9 L471.7 569.2 Z" fill="#30b8e8"/>
<path d="M500.2 543.9 L501.9 545.6 L500.2 547.3 L498.5 545.6 Z" fill="#30b8e8"/>
<text x="480.6" y="488.5" font-size="11.4" text-anchor="middle" fill="#000" stroke="#000" stroke-width="0.16">20% SOC</text>
<g transform="translate(523.4 -2.6)"><path d="M49.41 510.6 Q50.2 509.7 51.38 509.9 L60.22 511.4 Q61.4 511.6 61.9 512.69 L67.2 524.11 Q67.7 525.2 66.71 525.88 L57.49 532.22 Q56.5 532.9 55.32 532.69 L51.38 532.01 Q50.2 531.8 49.45 530.86 L41.75 521.14 Q41 520.2 41.79 519.3 Z" fill="url(#pg_light)"/><path d="M77.7 506 Q77.7 504.8 78.9 504.83 L89.8 505.07 Q91 505.1 92.17 505.38 L106.03 508.72 Q107.2 509 107.06 510.19 L104.54 532.41 Q104.4 533.6 103.2 533.54 L92.2 532.96 Q91 532.9 89.84 532.59 L78.86 529.71 Q77.7 529.4 77.7 528.2 Z" fill="url(#pg_light)"/><path d="M32.39 536.48 Q33.3 535.7 34.5 535.7 L43.3 535.7 Q44.5 535.7 45.21 536.66 L49.49 542.44 Q50.2 543.4 49.89 544.56 L47.01 555.54 Q46.7 556.7 45.55 557.06 L36.55 559.84 Q35.4 560.2 34.67 559.25 L27.03 549.25 Q26.3 548.3 26.59 547.14 L28.11 541.06 Q28.4 539.9 29.31 539.12 Z" fill="url(#pg_light)"/><path d="M56.14 542.2 Q56.2 541 57.4 541 L61.6 541 Q62.8 541 63.12 542.16 L64.58 547.54 Q64.9 548.7 63.7 548.7 L57 548.7 Q55.8 548.7 55.86 547.5 Z" fill="url(#pg_light)"/><path d="M52.79 554.68 Q53.7 553.9 54.88 553.7 L60.92 552.7 Q62.1 552.5 63.1 553.17 L69.5 557.43 Q70.5 558.1 70.96 559.21 L73.54 565.39 Q74 566.5 73.36 567.51 L68.34 575.39 Q67.7 576.4 66.51 576.55 L57.69 577.65 Q56.5 577.8 55.66 576.95 L48.94 570.15 Q48.1 569.3 48.17 568.1 L48.73 559.3 Q48.8 558.1 49.71 557.32 Z" fill="url(#pg_light)"/><path d="M76.5 540.29 Q77 539.2 78.17 538.95 L85.63 537.35 Q86.8 537.1 87.65 537.95 L91.55 541.85 Q92.4 542.7 92.86 543.81 L94.54 547.89 Q95 549 94.62 550.14 L92.78 555.56 Q92.4 556.7 91.25 557.04 L85.15 558.86 Q84 559.2 82.85 558.86 L76.75 557.04 Q75.6 556.7 75.15 555.59 L72.95 550.11 Q72.5 549 73 547.91 Z" fill="url(#pg_light)"/><path d="M116.26 524.17 Q116.8 523.1 117.95 522.76 L125.55 520.54 Q126.7 520.2 127.85 520.55 L139.55 524.15 Q140.7 524.5 141.39 525.48 L143.91 529.12 Q144.6 530.1 144.39 531.28 L141.61 547.12 Q141.4 548.3 140.63 549.22 L138.67 551.58 Q137.9 552.5 136.75 552.16 L124.95 548.64 Q123.8 548.3 122.75 547.72 L112.25 541.88 Q111.2 541.3 111.05 540.11 L110.65 536.89 Q110.5 535.7 111.04 534.63 Z" fill="url(#pg_light)"/><path d="M93.81 566.08 Q94.5 565.1 95.7 565.03 L99.9 564.77 Q101.1 564.7 101.18 565.9 L101.52 570.9 Q101.6 572.1 100.4 572.1 L90.8 572.1 Q89.6 572.1 90.29 571.12 Z" fill="url(#pg_light)"/><path d="M108.05 556.45 Q108.4 555.3 109.59 555.17 L119.81 554.03 Q121 553.9 121.96 554.61 L128.54 559.49 Q129.5 560.2 129.67 561.39 L130.93 570.21 Q131.1 571.4 130.13 572.11 L129.07 572.89 Q128.1 573.6 126.91 573.73 L116.59 574.87 Q115.4 575 114.51 574.19 L108.59 568.81 Q107.7 568 107.53 566.81 L106.87 562.09 Q106.7 560.9 107.05 559.75 Z" fill="url(#pg_light)"/><path clip-path="url(#cp_P6)" d="M144.6 530.1 L141.4 548.3 L137.9 552.5" fill="none" stroke="#8a84b8" stroke-width="2" stroke-linecap="round" stroke-linejoin="round" filter="url(#gblur)"/><path clip-path="url(#cp_P7)" d="M129.5 560.2 L131.1 571.4 L128.1 573.6" fill="none" stroke="#8a84b8" stroke-width="2" stroke-linecap="round" stroke-linejoin="round" filter="url(#gblur)"/><path clip-path="url(#cp_P5)" d="M92.4 542.7 L95 549 L92.4 556.7" fill="none" stroke="#8a84b8" stroke-width="1.4" stroke-linecap="round" stroke-linejoin="round" filter="url(#gblur)"/><path clip-path="url(#cp_P3)" d="M50.2 543.4 L46.7 556.7 L44 558.5" fill="none" stroke="#8a84b8" stroke-width="1.6" stroke-linecap="round" stroke-linejoin="round" filter="url(#gblur)"/></g>
<path d="M596 504.7 L597.9 506.6 L596 508.5 L594.1 506.6 Z" fill="#c8c4e0"/>
<path d="M603.8 567.9 L605.5 569.6 L603.8 571.3 L602.1 569.6 Z" fill="#c8c4e0"/>
<path d="M630.6 544.3 L632.3 546 L630.6 547.7 L628.9 546 Z" fill="#c8c4e0"/>
<text x="611" y="488.5" font-size="11.4" text-anchor="middle" fill="#000" stroke="#000" stroke-width="0.16">70% SOC</text>
<rect x="502.4" y="590.6" width="153.9" height="5.5" fill="url(#sbar)" stroke="#999" stroke-width="0.5"/>
<line x1="524.8" y1="590.6" x2="524.8" y2="591.8" stroke="#555" stroke-width="0.6"/>
<line x1="547.1" y1="590.6" x2="547.1" y2="591.8" stroke="#555" stroke-width="0.6"/>
<line x1="569" y1="590.6" x2="569" y2="591.8" stroke="#555" stroke-width="0.6"/>
<line x1="590.6" y1="590.6" x2="590.6" y2="591.8" stroke="#555" stroke-width="0.6"/>
<line x1="611.7" y1="590.6" x2="611.7" y2="591.8" stroke="#555" stroke-width="0.6"/>
<line x1="634" y1="590.6" x2="634" y2="591.8" stroke="#555" stroke-width="0.6"/>
<text x="502.2" y="587.4" font-size="9.6" text-anchor="middle" fill="#000" stroke="#000" stroke-width="0.16">0</text>
<text x="576.5" y="587.4" font-size="9.3" text-anchor="middle" fill="#000" stroke="#000" stroke-width="0.16">Stress intensity [Pa]</text>
<text x="641.2" y="587.4" font-size="9.6" class="k">7×10<tspan font-size="5.6" dy="-3.6">8</tspan></text>
</svg>
</body></html>
